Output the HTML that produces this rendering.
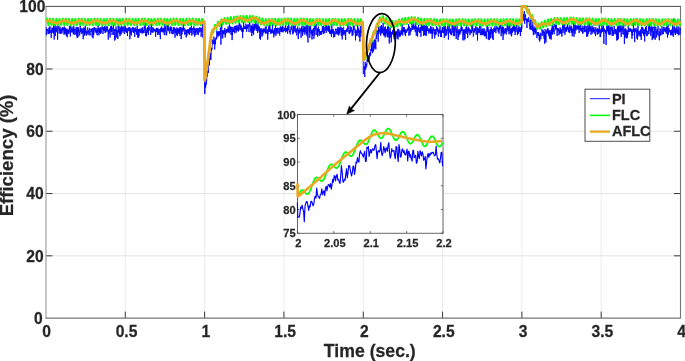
<!DOCTYPE html>
<html lang="en"><head><meta charset="utf-8"><title>Efficiency vs Time</title>
<style>html,body{margin:0;padding:0;background:#fff;}svg{display:block;}text{font-family:"Liberation Sans",sans-serif;font-weight:bold;fill:#262626;stroke:#262626;stroke-width:0.25px;}</style>
</head><body>
<svg width="685" height="361" viewBox="0 0 685 361">
<rect x="0" y="0" width="685" height="361" fill="#ffffff"/>
<defs><clipPath id="cm"><rect x="45.4" y="5.1" width="636.3" height="313.00000000000006"/></clipPath><clipPath id="ci"><rect x="296.0" y="114.5" width="147.8" height="118.75"/></clipPath></defs>
<path d="M125.31,6.7V318.1M204.62,6.7V318.1M283.94,6.7V318.1M363.25,6.7V318.1M442.56,6.7V318.1M521.88,6.7V318.1M601.19,6.7V318.1" stroke="#ececec" stroke-width="1" fill="none"/>
<path d="M46.0,255.82H680.5M46.0,193.54H680.5M46.0,131.26H680.5M46.0,68.98H680.5" stroke="#e3e3e3" stroke-width="1" fill="none"/>
<path d="M125.31,318.1v-6.5M125.31,6.7v6.5M204.62,318.1v-6.5M204.62,6.7v6.5M283.94,318.1v-6.5M283.94,6.7v6.5M363.25,318.1v-6.5M363.25,6.7v6.5M442.56,318.1v-6.5M442.56,6.7v6.5M521.88,318.1v-6.5M521.88,6.7v6.5M601.19,318.1v-6.5M601.19,6.7v6.5M46.0,255.82h6.5M680.5,255.82h-6.5M46.0,193.54h6.5M680.5,193.54h-6.5M46.0,131.26h6.5M680.5,131.26h-6.5M46.0,68.98h6.5M680.5,68.98h-6.5" stroke="#3c3c3c" stroke-width="1" fill="none"/>
<path d="M46.0,6.7V318.1" stroke="#8e8e8e" stroke-width="1" fill="none"/>
<path d="M45.5,318.1H681.0M680.5,6.7V318.1" stroke="#767676" stroke-width="1.1" fill="none"/>
<path d="M45.5,6.4H681.0" stroke="#4a4a4a" stroke-width="1" fill="none"/>
<g clip-path="url(#cm)" fill="none" stroke-linejoin="round">
<polyline points="46.0,26.9 46.1,26.9 46.2,27.9 46.2,31.6 46.3,35.3 46.4,33.1 46.5,30.6 46.6,29.9 46.6,29.2 46.7,28.8 46.8,28.8 46.9,29.1 47.0,29.7 47.0,30.4 47.1,31.0 47.2,30.5 47.3,29.5 47.3,30.3 47.4,30.7 47.5,30.2 47.6,29.5 47.7,29.0 47.7,29.0 47.8,29.9 47.9,31.5 48.0,33.1 48.1,34.0 48.1,32.6 48.2,30.1 48.3,30.5 48.4,31.2 48.5,31.6 48.5,32.7 48.6,33.8 48.7,34.1 48.8,33.2 48.9,31.3 48.9,29.1 49.0,27.4 49.1,29.5 49.2,33.3 49.3,32.0 49.3,31.4 49.4,32.9 49.5,33.1 49.6,33.0 49.6,32.1 49.7,28.8 49.8,26.4 49.9,26.0 50.0,26.4 50.0,27.3 50.1,27.5 50.2,27.5 50.3,29.6 50.4,30.9 50.4,30.8 50.5,30.4 50.6,30.0 50.7,31.3 50.8,33.1 50.8,31.7 50.9,30.5 51.0,30.8 51.1,33.9 51.2,37.8 51.2,36.1 51.3,34.3 51.4,33.8 51.5,32.6 51.6,31.0 51.6,29.5 51.7,28.4 51.8,27.9 51.9,28.0 51.9,27.9 52.0,28.1 52.1,29.9 52.2,31.1 52.3,31.9 52.3,32.7 52.4,31.1 52.5,30.2 52.6,30.7 52.7,30.9 52.7,30.3 52.8,29.0 52.9,27.4 53.0,28.6 53.1,31.4 53.1,29.4 53.2,28.5 53.3,29.6 53.4,31.9 53.5,33.7 53.5,30.1 53.6,27.4 53.7,27.6 53.8,26.0 53.9,24.3 53.9,28.5 54.0,31.6 54.1,31.7 54.2,35.4 54.2,39.5 54.3,33.8 54.4,29.1 54.5,28.9 54.6,28.3 54.6,27.9 54.7,29.3 54.8,30.3 54.9,30.6 55.0,26.9 55.0,22.5 55.1,27.6 55.2,31.5 55.3,33.5 55.4,35.9 55.4,32.5 55.5,29.9 55.6,29.9 55.7,29.7 55.8,29.2 55.8,28.4 55.9,27.5 56.0,26.9 56.1,26.6 56.2,26.9 56.2,29.3 56.3,32.2 56.4,30.5 56.5,29.2 56.5,29.7 56.6,30.2 56.7,30.8 56.8,31.0 56.9,30.7 56.9,30.0 57.0,29.1 57.1,28.5 57.2,26.8 57.3,25.2 57.3,28.2 57.4,30.6 57.5,34.8 57.6,39.8 57.7,35.3 57.7,31.9 57.8,32.5 57.9,32.6 58.0,31.1 58.1,28.9 58.1,28.4 58.2,28.3 58.3,28.1 58.4,28.4 58.5,28.8 58.5,29.1 58.6,29.2 58.7,27.9 58.8,26.2 58.8,27.7 58.9,28.9 59.0,28.8 59.1,29.1 59.2,31.0 59.2,33.5 59.3,32.7 59.4,31.7 59.5,31.5 59.6,30.8 59.6,30.0 59.7,29.6 59.8,29.5 59.9,28.1 60.0,26.6 60.0,28.9 60.1,30.7 60.2,30.6 60.3,30.1 60.4,29.5 60.4,31.1 60.5,33.8 60.6,33.1 60.7,32.5 60.8,32.5 60.8,31.5 60.9,30.0 61.0,29.0 61.1,28.8 61.1,29.5 61.2,30.5 61.3,32.1 61.4,33.3 61.5,31.5 61.5,29.5 61.6,28.6 61.7,28.3 61.8,28.8 61.9,31.0 61.9,33.4 62.0,32.4 62.1,30.8 62.2,29.5 62.3,28.2 62.3,27.4 62.4,27.7 62.5,28.6 62.6,29.7 62.7,30.2 62.7,30.1 62.8,28.7 62.9,27.3 63.0,28.9 63.1,30.5 63.1,30.7 63.2,29.7 63.3,27.9 63.4,27.9 63.4,28.1 63.5,28.4 63.6,29.2 63.7,30.2 63.8,30.9 63.8,31.0 63.9,32.6 64.0,34.7 64.1,31.9 64.2,29.7 64.2,28.3 64.3,26.5 64.4,27.4 64.5,27.9 64.6,30.1 64.6,33.5 64.7,30.5 64.8,28.7 64.9,29.9 65.0,30.6 65.0,30.7 65.1,32.4 65.2,34.2 65.3,30.5 65.4,27.8 65.4,27.9 65.5,28.5 65.6,29.5 65.7,30.4 65.7,31.7 65.8,32.6 65.9,30.8 66.0,29.0 66.1,28.5 66.1,28.6 66.2,31.9 66.3,35.9 66.4,32.8 66.5,29.9 66.5,30.4 66.6,31.3 66.7,30.2 66.8,29.6 66.9,29.9 66.9,30.2 67.0,30.5 67.1,33.7 67.2,37.3 67.3,33.6 67.3,30.1 67.4,29.5 67.5,29.0 67.6,28.8 67.7,30.2 67.7,32.2 67.8,31.2 67.9,30.8 68.0,31.6 68.0,32.4 68.1,33.1 68.2,33.4 68.3,33.2 68.4,32.3 68.4,31.0 68.5,29.9 68.6,31.5 68.7,34.1 68.8,32.2 68.8,30.5 68.9,30.2 69.0,29.8 69.1,29.7 69.2,29.9 69.2,29.9 69.3,28.2 69.4,25.9 69.5,26.7 69.6,28.0 69.6,28.9 69.7,30.4 69.8,31.9 69.9,32.7 70.0,32.6 70.0,31.7 70.1,30.5 70.2,29.9 70.3,32.5 70.3,36.5 70.4,35.2 70.5,33.9 70.6,33.9 70.7,30.1 70.7,25.3 70.8,27.9 70.9,30.2 71.0,29.9 71.1,29.9 71.1,30.1 71.2,30.4 71.3,30.7 71.4,31.2 71.5,31.7 71.5,32.2 71.6,30.4 71.7,27.6 71.8,29.4 71.9,30.4 71.9,29.4 72.0,28.8 72.1,28.9 72.2,30.4 72.3,32.4 72.3,32.1 72.4,31.7 72.5,31.8 72.6,31.6 72.6,31.1 72.7,30.2 72.8,29.4 72.9,29.1 73.0,29.8 73.0,28.3 73.1,26.4 73.2,31.2 73.3,34.1 73.4,33.0 73.4,31.2 73.5,29.1 73.6,27.5 73.7,26.8 73.8,26.3 73.8,26.8 73.9,30.1 74.0,33.2 74.1,34.6 74.2,35.0 74.2,32.4 74.3,28.7 74.4,29.6 74.5,30.3 74.6,29.4 74.6,29.1 74.7,29.4 74.8,30.0 74.9,30.5 74.9,30.7 75.0,30.9 75.1,31.2 75.2,32.8 75.3,34.3 75.3,32.4 75.4,30.2 75.5,29.3 75.6,29.0 75.7,29.3 75.7,29.8 75.8,29.7 75.9,29.8 76.0,29.7 76.1,27.5 76.1,26.8 76.2,28.4 76.3,30.9 76.4,33.2 76.5,34.3 76.5,33.8 76.6,34.7 76.7,35.8 76.8,31.1 76.9,28.1 76.9,28.8 77.0,30.1 77.1,34.1 77.2,38.0 77.2,34.7 77.3,31.1 77.4,29.4 77.5,27.8 77.6,27.0 77.6,27.3 77.7,28.2 77.8,29.5 77.9,33.3 78.0,37.2 78.0,33.7 78.1,30.3 78.2,31.2 78.3,32.3 78.4,29.4 78.4,27.3 78.5,27.5 78.6,28.3 78.7,30.3 78.8,32.1 78.8,30.8 78.9,29.6 79.0,29.8 79.1,30.6 79.2,31.7 79.2,32.7 79.3,33.1 79.4,32.8 79.5,32.4 79.5,33.6 79.6,35.5 79.7,34.2 79.8,33.2 79.9,33.3 79.9,33.0 80.0,32.5 80.1,31.8 80.2,27.2 80.3,22.0 80.3,26.9 80.4,31.1 80.5,31.5 80.6,31.8 80.7,31.9 80.7,31.8 80.8,31.3 80.9,31.7 81.0,32.3 81.1,30.3 81.1,28.9 81.2,28.7 81.3,28.6 81.4,28.7 81.5,29.3 81.5,30.5 81.6,31.7 81.7,32.4 81.8,33.5 81.8,34.0 81.9,31.0 82.0,28.7 82.1,28.3 82.2,28.6 82.2,29.3 82.3,30.1 82.4,30.7 82.5,31.1 82.6,31.3 82.6,32.0 82.7,32.6 82.8,30.7 82.9,29.2 83.0,29.3 83.0,29.7 83.1,34.1 83.2,39.2 83.3,34.5 83.4,30.7 83.4,30.8 83.5,30.8 83.6,30.6 83.7,30.4 83.8,28.9 83.8,27.2 83.9,28.7 84.0,29.6 84.1,28.9 84.1,28.3 84.2,28.3 84.3,29.0 84.4,30.0 84.5,32.8 84.5,35.7 84.6,33.0 84.7,30.3 84.8,29.4 84.9,28.8 84.9,30.9 85.0,34.0 85.1,31.6 85.2,29.6 85.3,27.9 85.3,25.7 85.4,28.0 85.5,30.0 85.6,30.3 85.7,30.8 85.7,31.3 85.8,31.9 85.9,32.2 86.0,32.2 86.1,31.6 86.1,30.7 86.2,32.5 86.3,35.7 86.4,33.7 86.4,32.7 86.5,33.8 86.6,33.7 86.7,32.8 86.8,31.7 86.8,31.3 86.9,32.7 87.0,34.7 87.1,33.5 87.2,32.1 87.2,30.4 87.3,28.5 87.4,28.8 87.5,28.9 87.6,28.2 87.6,27.7 87.7,27.5 87.8,27.8 87.9,28.4 88.0,30.7 88.0,33.5 88.1,32.6 88.2,31.7 88.3,31.9 88.4,31.5 88.4,30.9 88.5,30.4 88.6,30.3 88.7,30.6 88.7,31.0 88.8,31.4 88.9,33.0 89.0,35.2 89.1,34.2 89.1,33.1 89.2,32.6 89.3,31.6 89.4,30.6 89.5,29.2 89.5,28.3 89.6,30.1 89.7,31.9 89.8,32.6 89.9,32.9 89.9,33.0 90.0,33.1 90.1,34.2 90.2,35.4 90.3,34.1 90.3,32.9 90.4,32.6 90.5,32.3 90.6,31.9 90.7,31.0 90.7,30.8 90.8,31.0 90.9,29.4 91.0,28.6 91.0,29.0 91.1,29.5 91.2,29.9 91.3,30.0 91.4,30.0 91.4,29.9 91.5,30.7 91.6,31.7 91.7,30.3 91.8,29.5 91.8,29.9 91.9,30.2 92.0,30.0 92.1,33.2 92.2,37.1 92.2,31.8 92.3,28.0 92.4,28.4 92.5,28.8 92.6,28.8 92.6,28.6 92.7,28.7 92.8,29.2 92.9,30.2 93.0,34.1 93.0,38.3 93.1,35.0 93.2,31.4 93.3,30.0 93.3,28.8 93.4,28.5 93.5,29.6 93.6,31.7 93.7,33.9 93.7,35.0 93.8,33.9 93.9,31.3 94.0,29.8 94.1,28.4 94.1,26.9 94.2,27.3 94.3,28.7 94.4,27.8 94.5,27.5 94.5,28.3 94.6,29.0 94.7,29.5 94.8,29.7 94.9,29.6 94.9,29.2 95.0,30.5 95.1,32.5 95.2,30.2 95.3,28.6 95.3,29.0 95.4,29.6 95.5,30.2 95.6,30.7 95.6,31.0 95.7,31.1 95.8,30.9 95.9,29.5 96.0,27.8 96.0,28.3 96.1,29.2 96.2,30.0 96.3,31.3 96.4,32.5 96.4,33.0 96.5,33.4 96.6,33.3 96.7,31.0 96.8,29.6 96.8,30.1 96.9,31.0 97.0,31.6 97.1,33.5 97.2,35.3 97.2,32.0 97.3,29.4 97.4,29.3 97.5,29.4 97.6,29.4 97.6,30.7 97.7,32.1 97.8,29.6 97.9,27.5 97.9,27.4 98.0,26.2 98.1,25.3 98.2,28.7 98.3,31.4 98.3,31.3 98.4,30.5 98.5,29.3 98.6,28.4 98.7,28.3 98.7,28.9 98.8,31.9 98.9,35.3 99.0,33.2 99.1,31.0 99.1,30.3 99.2,29.4 99.3,28.7 99.4,28.7 99.5,29.3 99.5,31.1 99.6,32.9 99.7,31.0 99.8,29.0 99.9,28.2 99.9,27.7 100.0,27.7 100.1,28.3 100.2,29.2 100.2,30.0 100.3,32.1 100.4,33.9 100.5,30.3 100.6,27.5 100.6,27.4 100.7,27.7 100.8,28.3 100.9,28.8 101.0,29.2 101.0,29.5 101.1,29.8 101.2,31.3 101.3,32.9 101.4,30.7 101.4,28.7 101.5,28.2 101.6,28.0 101.7,28.0 101.8,28.2 101.8,28.1 101.9,27.9 102.0,27.0 102.1,26.2 102.2,27.7 102.2,29.1 102.3,29.3 102.4,28.8 102.5,27.8 102.5,27.1 102.6,27.3 102.7,28.3 102.8,29.6 102.9,30.7 102.9,32.4 103.0,34.0 103.1,32.8 103.2,31.7 103.3,30.1 103.3,27.9 103.4,27.7 103.5,27.6 103.6,27.1 103.7,27.6 103.7,28.9 103.8,30.3 103.9,31.0 104.0,30.7 104.1,29.4 104.1,29.8 104.2,31.0 104.3,28.4 104.4,26.7 104.5,27.2 104.5,27.6 104.6,28.2 104.7,29.0 104.8,27.7 104.8,25.9 104.9,29.8 105.0,32.3 105.1,32.7 105.2,33.0 105.2,30.2 105.3,28.3 105.4,28.7 105.5,29.6 105.6,30.7 105.6,31.7 105.7,32.4 105.8,30.3 105.9,27.4 106.0,29.5 106.0,31.2 106.1,30.8 106.2,30.5 106.3,30.3 106.4,30.3 106.4,30.3 106.5,30.1 106.6,29.7 106.7,29.4 106.8,27.7 106.8,26.2 106.9,29.3 107.0,31.7 107.1,31.8 107.1,31.5 107.2,29.2 107.3,26.5 107.4,28.6 107.5,30.1 107.5,29.6 107.6,29.2 107.7,28.9 107.8,28.9 107.9,29.3 107.9,29.9 108.0,30.8 108.1,32.0 108.2,35.7 108.3,39.6 108.3,36.5 108.4,33.3 108.5,32.0 108.6,30.8 108.7,29.9 108.7,29.8 108.8,30.4 108.9,31.1 109.0,32.6 109.1,33.8 109.1,32.0 109.2,30.3 109.3,29.9 109.4,30.0 109.5,30.4 109.5,30.8 109.6,30.8 109.7,29.8 109.8,28.5 109.8,29.5 109.9,30.5 110.0,33.7 110.1,37.5 110.2,33.8 110.2,30.7 110.3,30.7 110.4,29.0 110.5,26.8 110.6,28.4 110.6,29.4 110.7,28.6 110.8,27.2 110.9,26.2 111.0,28.3 111.0,30.5 111.1,31.5 111.2,32.0 111.3,31.7 111.4,28.8 111.4,25.5 111.5,27.7 111.6,30.1 111.7,30.9 111.8,31.5 111.8,31.5 111.9,31.1 112.0,30.6 112.1,32.5 112.1,35.0 112.2,32.3 112.3,29.8 112.4,29.2 112.5,28.6 112.5,28.4 112.6,27.9 112.7,27.5 112.8,28.8 112.9,29.5 112.9,29.0 113.0,28.5 113.1,28.3 113.2,28.3 113.3,28.4 113.3,26.8 113.4,24.8 113.5,26.9 113.6,29.0 113.7,31.6 113.7,34.9 113.8,34.1 113.9,32.9 114.0,32.0 114.1,30.5 114.1,28.9 114.2,29.3 114.3,30.8 114.4,29.9 114.4,29.8 114.5,31.1 114.6,35.6 114.7,40.6 114.8,37.1 114.8,33.4 114.9,32.6 115.0,35.4 115.1,39.6 115.2,35.2 115.2,31.6 115.3,31.3 115.4,30.5 115.5,29.6 115.6,29.0 115.6,30.0 115.7,31.3 115.8,29.6 115.9,27.7 116.0,26.8 116.0,26.3 116.1,26.6 116.2,27.8 116.3,29.5 116.4,30.9 116.4,31.6 116.5,31.6 116.6,34.3 116.7,37.6 116.7,33.2 116.8,29.8 116.9,29.8 117.0,30.0 117.1,30.2 117.1,31.2 117.2,32.4 117.3,31.5 117.4,31.0 117.5,31.3 117.5,31.2 117.6,30.8 117.7,34.3 117.8,39.1 117.9,34.7 117.9,31.1 118.0,30.9 118.1,29.9 118.2,25.0 118.3,19.7 118.3,24.4 118.4,29.1 118.5,30.6 118.6,31.9 118.7,32.4 118.7,31.8 118.8,31.8 118.9,31.8 119.0,28.2 119.0,26.1 119.1,28.1 119.2,31.3 119.3,32.0 119.4,32.1 119.4,33.2 119.5,33.8 119.6,31.3 119.7,29.5 119.8,29.3 119.8,29.3 119.9,32.4 120.0,36.2 120.1,32.7 120.2,30.5 120.2,31.8 120.3,32.6 120.4,32.6 120.5,33.4 120.6,34.1 120.6,30.1 120.7,27.3 120.8,27.3 120.9,28.3 121.0,31.2 121.0,34.5 121.1,34.1 121.2,33.1 121.3,32.8 121.3,29.4 121.4,25.4 121.5,28.5 121.6,31.0 121.7,30.6 121.7,30.2 121.8,30.0 121.9,30.1 122.0,30.4 122.1,30.6 122.1,30.4 122.2,28.7 122.3,26.6 122.4,27.2 122.5,28.2 122.5,28.7 122.6,29.2 122.7,30.9 122.8,32.6 122.9,31.2 122.9,30.2 123.0,30.6 123.1,30.9 123.2,30.9 123.3,29.9 123.3,28.3 123.4,28.2 123.5,28.0 123.6,27.4 123.6,27.5 123.7,28.4 123.8,29.6 123.9,30.0 124.0,29.2 124.0,27.5 124.1,25.9 124.2,28.9 124.3,34.1 124.4,31.9 124.4,30.3 124.5,31.0 124.6,30.5 124.7,29.3 124.8,28.5 124.8,28.6 124.9,29.4 125.0,30.6 125.1,30.8 125.2,30.4 125.2,31.1 125.3,31.1 125.4,30.0 125.5,28.9 125.6,27.3 125.6,26.2 125.7,28.0 125.8,30.1 125.9,31.3 125.9,32.2 126.0,30.5 126.1,28.0 126.2,30.4 126.3,32.2 126.3,31.6 126.4,30.9 126.5,30.2 126.6,29.7 126.7,30.9 126.7,32.8 126.8,32.4 126.9,32.2 127.0,32.7 127.1,32.6 127.1,32.2 127.2,31.6 127.3,31.3 127.4,33.4 127.5,36.0 127.5,32.2 127.6,28.8 127.7,28.2 127.8,28.0 127.9,28.0 127.9,28.2 128.0,28.5 128.1,28.9 128.2,29.5 128.2,30.2 128.3,29.1 128.4,27.4 128.5,29.5 128.6,31.1 128.6,30.7 128.7,30.3 128.8,30.0 128.9,30.1 129.0,30.4 129.0,30.9 129.1,31.1 129.2,29.5 129.3,27.1 129.4,27.4 129.4,27.6 129.5,27.1 129.6,27.5 129.7,28.6 129.8,29.9 129.8,34.5 129.9,39.2 130.0,34.0 130.1,29.3 130.2,28.6 130.2,28.5 130.3,28.8 130.4,29.2 130.5,29.6 130.5,31.6 130.6,33.7 130.7,30.7 130.8,28.3 130.9,28.0 130.9,27.9 131.0,28.0 131.1,28.1 131.2,31.3 131.3,35.5 131.3,32.6 131.4,30.5 131.5,31.3 131.6,32.1 131.7,32.4 131.7,32.4 131.8,31.9 131.9,31.3 132.0,30.7 132.1,30.4 132.1,29.3 132.2,27.9 132.3,28.5 132.4,28.6 132.5,27.8 132.5,27.2 132.6,27.0 132.7,27.0 132.8,27.2 132.8,27.4 132.9,29.6 133.0,32.2 133.1,29.2 133.2,27.7 133.2,29.4 133.3,30.7 133.4,31.3 133.5,32.8 133.6,32.8 133.6,31.1 133.7,31.2 133.8,32.3 133.9,29.5 134.0,27.6 134.0,27.8 134.1,28.2 134.2,28.9 134.3,29.7 134.4,30.1 134.4,30.1 134.5,29.4 134.6,32.6 134.7,37.0 134.8,32.2 134.8,28.8 134.9,29.8 135.0,30.6 135.1,31.2 135.1,31.3 135.2,31.1 135.3,30.6 135.4,29.7 135.5,29.4 135.5,29.4 135.6,28.0 135.7,27.5 135.8,28.5 135.9,30.3 135.9,31.7 136.0,30.5 136.1,29.2 136.2,29.1 136.3,29.3 136.3,29.7 136.4,32.1 136.5,34.7 136.6,31.9 136.7,29.4 136.7,29.3 136.8,29.7 136.9,30.4 137.0,31.1 137.1,31.6 137.1,29.0 137.2,25.4 137.3,27.7 137.4,29.8 137.4,30.2 137.5,31.3 137.6,33.0 137.7,34.3 137.8,34.7 137.8,36.2 137.9,37.4 138.0,33.3 138.1,30.2 138.2,29.6 138.2,33.3 138.3,37.9 138.4,33.0 138.5,29.0 138.6,29.3 138.6,30.0 138.7,31.1 138.8,32.4 138.9,33.3 139.0,35.0 139.0,36.3 139.1,33.5 139.2,30.9 139.3,30.0 139.4,29.5 139.4,29.0 139.5,29.7 139.6,30.7 139.7,29.4 139.7,28.8 139.8,29.7 139.9,30.6 140.0,31.5 140.1,31.9 140.1,32.0 140.2,31.6 140.3,31.1 140.4,30.6 140.5,31.3 140.5,32.6 140.6,31.4 140.7,30.3 140.8,29.9 140.9,29.2 140.9,28.5 141.0,28.4 141.1,28.9 141.2,31.1 141.3,33.3 141.3,32.1 141.4,30.6 141.5,30.2 141.6,29.8 141.7,29.6 141.7,29.7 141.8,29.8 141.9,29.1 142.0,28.0 142.0,28.6 142.1,29.0 142.2,29.0 142.3,29.8 142.4,31.2 142.4,32.7 142.5,33.4 142.6,30.8 142.7,27.1 142.8,29.0 142.8,31.0 142.9,31.5 143.0,32.2 143.1,32.4 143.2,32.0 143.2,31.2 143.3,31.7 143.4,32.7 143.5,31.1 143.6,30.1 143.6,30.5 143.7,30.7 143.8,30.6 143.9,30.4 144.0,31.6 144.0,33.1 144.1,30.5 144.2,28.3 144.3,27.9 144.3,27.0 144.4,26.3 144.5,28.4 144.6,30.1 144.7,30.5 144.7,30.5 144.8,30.3 144.9,29.8 145.0,29.1 145.1,28.6 145.1,25.7 145.2,22.6 145.3,26.6 145.4,30.1 145.5,30.8 145.5,33.3 145.6,36.1 145.7,33.8 145.8,31.4 145.9,30.4 145.9,29.2 146.0,28.5 146.1,28.5 146.2,29.1 146.3,29.9 146.3,30.6 146.4,33.3 146.5,36.3 146.6,33.9 146.6,31.9 146.7,32.0 146.8,32.1 146.9,32.2 147.0,32.1 147.0,31.9 147.1,31.5 147.2,30.8 147.3,29.9 147.4,30.9 147.4,32.4 147.5,29.2 147.6,27.5 147.7,29.0 147.8,30.9 147.8,32.4 147.9,30.6 148.0,27.3 148.1,29.6 148.2,31.6 148.2,31.9 148.3,33.6 148.4,35.0 148.5,32.0 148.6,28.8 148.6,27.3 148.7,25.9 148.8,25.4 148.9,28.0 148.9,30.1 149.0,30.5 149.1,29.6 149.2,28.3 149.3,29.2 149.3,30.1 149.4,30.1 149.5,30.0 149.6,29.8 149.7,29.5 149.7,29.4 149.8,29.2 149.9,28.9 150.0,28.6 150.1,27.6 150.1,26.8 150.2,28.3 150.3,29.8 150.4,30.3 150.5,30.5 150.5,30.4 150.6,32.3 150.7,34.8 150.8,32.2 150.9,30.4 150.9,30.9 151.0,31.4 151.1,31.8 151.2,31.9 151.2,31.7 151.3,31.0 151.4,25.8 151.5,19.6 151.6,23.4 151.6,27.2 151.7,27.9 151.8,29.0 151.9,30.4 152.0,31.7 152.0,32.6 152.1,32.7 152.2,31.2 152.3,28.9 152.4,28.3 152.4,27.9 152.5,27.3 152.6,27.5 152.7,28.3 152.8,30.3 152.8,32.6 152.9,32.6 153.0,32.4 153.1,32.5 153.2,31.9 153.2,30.9 153.3,29.7 153.4,29.0 153.5,29.1 153.5,28.6 153.6,27.8 153.7,30.0 153.8,31.4 153.9,31.0 153.9,30.8 154.0,30.9 154.1,30.9 154.2,30.6 154.3,29.8 154.3,28.9 154.4,29.4 154.5,30.7 154.6,30.1 154.7,29.8 154.7,30.1 154.8,30.1 154.9,30.7 155.0,31.6 155.1,30.3 155.1,29.4 155.2,29.7 155.3,30.2 155.4,30.6 155.5,31.0 155.5,33.8 155.6,36.9 155.7,33.8 155.8,30.8 155.8,29.9 155.9,30.6 156.0,32.1 156.1,30.1 156.2,29.1 156.2,28.8 156.3,27.9 156.4,28.6 156.5,29.2 156.6,28.8 156.6,28.7 156.7,30.8 156.8,31.9 156.9,31.5 157.0,30.9 157.0,30.6 157.1,30.7 157.2,30.8 157.3,30.4 157.4,29.3 157.4,28.1 157.5,30.8 157.6,34.9 157.7,31.0 157.8,27.9 157.8,28.3 157.9,29.0 158.0,30.2 158.1,31.6 158.1,32.7 158.2,33.2 158.3,32.6 158.4,32.5 158.5,32.4 158.5,30.3 158.6,28.9 158.7,28.9 158.8,29.4 158.9,31.7 158.9,34.7 159.0,35.0 159.1,34.8 159.2,34.2 159.3,32.5 159.3,30.5 159.4,29.5 159.5,29.9 159.6,30.2 159.7,29.8 159.7,30.5 159.8,30.6 159.9,30.5 160.0,31.6 160.1,33.6 160.1,35.4 160.2,35.9 160.3,37.7 160.4,39.1 160.4,33.6 160.5,29.2 160.6,28.2 160.7,27.8 160.8,27.8 160.8,29.5 160.9,31.9 161.0,30.9 161.1,30.4 161.2,31.3 161.2,31.7 161.3,31.5 161.4,30.5 161.5,29.1 161.6,27.6 161.6,26.5 161.7,28.0 161.8,30.6 161.9,29.2 162.0,28.5 162.0,29.8 162.1,31.0 162.2,30.5 162.3,29.2 162.4,30.5 162.4,31.1 162.5,31.4 162.6,32.3 162.7,31.5 162.7,30.7 162.8,30.5 162.9,30.5 163.0,30.6 163.1,28.7 163.1,27.7 163.2,28.3 163.3,28.7 163.4,28.9 163.5,31.1 163.5,32.3 163.6,31.8 163.7,30.8 163.8,29.7 163.9,28.7 163.9,28.2 164.0,28.2 164.1,28.5 164.2,31.6 164.3,35.2 164.3,32.4 164.4,29.9 164.5,29.6 164.6,28.9 164.7,27.9 164.7,24.3 164.8,20.9 164.9,25.2 165.0,29.4 165.0,30.6 165.1,31.3 165.2,31.4 165.3,31.2 165.4,28.1 165.4,24.2 165.5,27.2 165.6,29.6 165.7,29.3 165.8,29.5 165.8,30.3 165.9,31.2 166.0,32.0 166.1,33.7 166.2,35.4 166.2,33.2 166.3,31.4 166.4,31.5 166.5,31.8 166.6,32.0 166.6,33.3 166.7,34.5 166.8,31.9 166.9,29.5 167.0,27.1 167.0,24.8 167.1,26.9 167.2,29.1 167.3,29.8 167.3,30.2 167.4,30.2 167.5,29.8 167.6,27.8 167.7,25.4 167.7,26.9 167.8,28.5 167.9,29.3 168.0,30.4 168.1,31.2 168.1,31.2 168.2,30.4 168.3,27.2 168.4,23.8 168.5,25.5 168.5,27.5 168.6,28.9 168.7,30.4 168.8,29.1 168.9,28.0 168.9,28.1 169.0,28.3 169.1,28.8 169.2,29.4 169.3,30.2 169.3,31.1 169.4,31.8 169.5,32.0 169.6,32.9 169.6,33.6 169.7,31.2 169.8,29.2 169.9,28.5 170.0,28.0 170.0,27.6 170.1,27.3 170.2,27.2 170.3,28.8 170.4,31.0 170.4,30.3 170.5,29.7 170.6,28.4 170.7,26.3 170.8,27.9 170.8,29.1 170.9,28.8 171.0,28.9 171.1,29.5 171.2,30.8 171.2,32.4 171.3,33.5 171.4,31.3 171.5,27.3 171.6,27.5 171.6,27.9 171.7,27.6 171.8,28.3 171.9,29.5 171.9,30.3 172.0,30.5 172.1,30.5 172.2,30.7 172.3,31.4 172.3,31.5 172.4,31.3 172.5,33.3 172.6,34.2 172.7,33.2 172.7,31.9 172.8,30.9 172.9,30.4 173.0,32.0 173.1,34.0 173.1,31.9 173.2,29.6 173.3,28.3 173.4,27.2 173.5,28.4 173.5,30.6 173.6,30.2 173.7,29.9 173.8,30.9 173.9,31.8 173.9,32.6 174.0,31.6 174.1,29.2 174.2,29.3 174.2,28.7 174.3,27.3 174.4,27.5 174.5,29.1 174.6,31.2 174.6,30.8 174.7,29.0 174.8,31.9 174.9,33.6 175.0,35.4 175.0,37.6 175.1,32.5 175.2,28.6 175.3,28.5 175.4,29.2 175.4,30.5 175.5,30.8 175.6,30.5 175.7,32.2 175.8,32.9 175.8,31.9 175.9,30.7 176.0,29.6 176.1,29.1 176.2,29.2 176.2,29.9 176.3,32.3 176.4,35.1 176.5,34.3 176.5,33.2 176.6,32.6 176.7,31.2 176.8,29.5 176.9,28.0 176.9,27.4 177.0,27.8 177.1,29.1 177.2,30.9 177.3,33.8 177.3,36.1 177.4,33.9 177.5,31.1 177.6,29.5 177.7,28.7 177.7,29.3 177.8,30.8 177.9,32.2 178.0,32.9 178.1,33.6 178.1,33.8 178.2,31.2 178.3,29.4 178.4,29.2 178.5,29.8 178.5,30.9 178.6,31.9 178.7,32.3 178.8,31.9 178.8,30.1 178.9,28.1 179.0,28.6 179.1,29.7 179.2,30.7 179.2,32.5 179.3,33.7 179.4,31.4 179.5,28.8 179.6,27.6 179.6,27.4 179.7,28.2 179.8,31.9 179.9,35.8 180.0,33.0 180.0,29.9 180.1,30.5 180.2,31.6 180.3,29.2 180.4,27.6 180.4,27.9 180.5,28.2 180.6,28.3 180.7,28.1 180.8,28.1 180.8,27.5 180.9,27.2 181.0,30.4 181.1,32.7 181.1,36.0 181.2,39.1 181.3,33.1 181.4,28.4 181.5,28.2 181.5,28.7 181.6,29.3 181.7,29.8 181.8,30.1 181.9,30.4 181.9,32.3 182.0,34.4 182.1,32.6 182.2,30.9 182.3,30.6 182.3,29.2 182.4,27.8 182.5,29.7 182.6,30.8 182.7,30.1 182.7,29.3 182.8,28.7 182.9,28.4 183.0,28.4 183.1,28.5 183.1,28.8 183.2,29.3 183.3,25.8 183.4,21.2 183.4,26.1 183.5,30.3 183.6,30.7 183.7,31.2 183.8,31.5 183.8,31.3 183.9,30.8 184.0,30.2 184.1,29.7 184.2,28.6 184.2,27.8 184.3,29.5 184.4,31.1 184.5,31.8 184.6,33.2 184.6,34.6 184.7,33.6 184.8,32.7 184.9,32.7 185.0,32.8 185.0,32.9 185.1,33.1 185.2,33.1 185.3,33.8 185.4,34.2 185.4,32.1 185.5,30.1 185.6,29.4 185.7,29.4 185.7,30.0 185.8,30.8 185.9,31.0 186.0,30.8 186.1,30.3 186.1,33.3 186.2,37.4 186.3,33.4 186.4,30.2 186.5,30.2 186.5,30.1 186.6,30.3 186.7,30.9 186.8,33.2 186.9,35.6 186.9,34.0 187.0,32.2 187.1,32.4 187.2,33.0 187.3,31.4 187.3,30.1 187.4,29.7 187.5,29.4 187.6,29.5 187.7,30.2 187.7,31.2 187.8,32.1 187.9,31.2 188.0,29.4 188.0,30.1 188.1,30.4 188.2,29.9 188.3,30.1 188.4,31.1 188.4,32.1 188.5,32.5 188.6,33.1 188.7,33.4 188.8,30.7 188.8,29.0 188.9,29.5 189.0,31.8 189.1,34.3 189.2,33.1 189.2,31.7 189.3,31.3 189.4,30.5 189.5,32.3 189.6,34.8 189.6,30.5 189.7,27.8 189.8,28.8 189.9,29.9 190.0,30.6 190.0,30.7 190.1,29.2 190.2,27.4 190.3,29.1 190.3,30.2 190.4,29.4 190.5,28.7 190.6,28.7 190.7,29.8 190.7,31.4 190.8,32.9 190.9,32.8 191.0,31.5 191.1,31.5 191.1,31.4 191.2,31.0 191.3,30.9 191.4,28.3 191.5,24.9 191.5,27.4 191.6,29.8 191.7,32.3 191.8,35.6 191.9,33.7 191.9,31.8 192.0,31.6 192.1,30.2 192.2,28.7 192.3,29.3 192.3,29.7 192.4,29.2 192.5,28.7 192.6,28.2 192.6,28.0 192.7,28.2 192.8,30.3 192.9,33.4 193.0,33.5 193.0,33.7 193.1,34.4 193.2,33.9 193.3,32.3 193.4,30.4 193.4,28.9 193.5,28.0 193.6,27.9 193.7,27.1 193.8,26.3 193.8,28.4 193.9,30.0 194.0,30.0 194.1,29.3 194.2,28.2 194.2,28.3 194.3,29.6 194.4,29.6 194.5,30.5 194.6,33.9 194.6,36.7 194.7,34.0 194.8,30.6 194.9,28.8 194.9,27.9 195.0,28.3 195.1,30.6 195.2,33.0 195.3,31.7 195.3,30.1 195.4,29.5 195.5,29.6 195.6,30.1 195.7,30.6 195.7,30.5 195.8,32.5 195.9,35.1 196.0,32.1 196.1,30.2 196.1,31.0 196.2,31.5 196.3,31.6 196.4,31.2 196.5,30.7 196.5,29.4 196.6,27.9 196.7,28.9 196.8,29.8 196.9,30.1 196.9,30.6 197.0,31.4 197.1,32.2 197.2,32.9 197.2,33.5 197.3,33.9 197.4,33.9 197.5,34.2 197.6,33.9 197.6,30.9 197.7,28.2 197.8,28.5 197.9,29.9 198.0,28.9 198.0,28.4 198.1,29.1 198.2,31.8 198.3,35.1 198.4,33.2 198.4,31.6 198.5,31.6 198.6,30.9 198.7,29.7 198.8,28.7 198.8,28.2 198.9,28.2 199.0,28.7 199.1,30.4 199.2,32.4 199.2,31.8 199.3,31.3 199.4,31.3 199.5,31.1 199.5,30.6 199.6,30.2 199.7,29.8 199.8,28.4 199.9,27.1 199.9,29.2 200.0,31.2 200.1,31.7 200.2,31.6 200.3,31.0 200.3,30.1 200.4,29.5 200.5,28.6 200.6,28.2 200.7,30.0 200.7,31.5 200.8,31.8 200.9,31.9 201.0,31.8 201.1,33.9 201.1,36.7 201.2,35.0 201.3,33.3 201.4,32.7 201.5,31.4 201.5,29.9 201.6,28.7 201.7,28.5 201.8,29.3 201.8,29.0 201.9,28.2 202.0,30.6 202.1,31.9 202.2,31.0 202.2,29.9 202.3,26.1 202.4,22.0 202.5,24.3 202.6,26.9 202.6,31.5 202.7,37.5 202.8,35.5 202.9,33.8 203.0,34.5 203.0,34.3 203.1,33.5 203.2,32.2 203.3,30.5 203.4,28.7 203.4,27.5 203.5,27.1 203.6,31.8 203.7,38.4 203.8,35.7 203.8,33.4 203.9,33.9 204.0,33.0 204.1,31.0 204.1,28.7 204.2,27.0 204.3,26.6 204.4,27.4 204.5,28.8 204.5,32.0 204.6,93.9 204.7,93.9 204.8,93.9 204.9,93.9 204.9,93.9 205.0,93.9 205.1,83.6 205.2,83.9 205.3,85.4 205.3,87.3 205.4,86.7 205.5,84.6 205.6,86.8 205.7,87.4 205.7,86.1 205.8,84.7 205.9,81.4 206.0,79.3 206.1,79.5 206.1,81.9 206.2,84.7 206.3,84.1 206.4,83.2 206.4,82.9 206.5,82.3 206.6,81.6 206.7,80.8 206.8,79.8 206.8,77.2 206.9,74.2 207.0,75.4 207.1,76.5 207.2,76.1 207.2,75.6 207.3,73.7 207.4,71.3 207.5,71.9 207.6,72.7 207.6,73.0 207.7,73.3 207.8,73.3 207.9,72.8 208.0,71.8 208.0,70.9 208.1,70.1 208.2,71.4 208.3,72.8 208.4,69.1 208.4,65.6 208.5,64.1 208.6,63.2 208.7,61.4 208.7,59.6 208.8,61.7 208.9,63.3 209.0,63.3 209.1,63.7 209.1,61.7 209.2,59.3 209.3,63.4 209.4,65.5 209.5,64.7 209.5,63.6 209.6,58.9 209.7,55.5 209.8,56.9 209.9,59.8 209.9,58.4 210.0,57.5 210.1,58.1 210.2,58.0 210.3,57.0 210.3,55.4 210.4,53.9 210.5,52.9 210.6,52.7 210.7,53.0 210.7,56.1 210.8,60.1 210.9,58.2 211.0,56.6 211.0,56.5 211.1,55.1 211.2,52.8 211.3,50.6 211.4,49.3 211.4,49.1 211.5,49.7 211.6,50.5 211.7,49.6 211.8,47.9 211.8,49.1 211.9,49.4 212.0,48.1 212.1,46.9 212.2,46.2 212.2,45.9 212.3,45.7 212.4,45.6 212.5,45.3 212.6,45.1 212.6,42.6 212.7,39.6 212.8,41.6 212.9,43.0 213.0,42.3 213.0,41.6 213.1,41.0 213.2,40.7 213.3,41.0 213.3,42.2 213.4,43.9 213.5,43.7 213.6,42.2 213.7,43.7 213.7,43.7 213.8,40.2 213.9,36.7 214.0,37.0 214.1,38.0 214.1,38.4 214.2,39.3 214.3,40.0 214.4,40.5 214.5,40.5 214.5,40.4 214.6,44.5 214.7,49.5 214.8,44.5 214.9,40.3 214.9,40.0 215.0,39.8 215.1,39.9 215.2,40.0 215.3,39.9 215.3,39.5 215.4,41.6 215.5,44.4 215.6,41.0 215.6,38.3 215.7,38.1 215.8,38.0 215.9,38.1 216.0,38.2 216.0,38.1 216.1,38.7 216.2,39.3 216.3,38.0 216.4,37.4 216.4,38.0 216.5,38.7 216.6,39.1 216.7,38.9 216.8,35.2 216.8,30.5 216.9,33.7 217.0,36.8 217.1,37.0 217.2,37.3 217.2,37.1 217.3,36.3 217.4,35.3 217.5,34.6 217.6,34.5 217.6,33.2 217.7,31.7 217.8,34.1 217.9,35.2 217.9,34.0 218.0,32.9 218.1,32.6 218.2,33.3 218.3,34.5 218.3,35.6 218.4,35.9 218.5,36.3 218.6,36.3 218.7,33.4 218.7,31.2 218.8,31.1 218.9,31.7 219.0,32.8 219.1,33.8 219.1,34.3 219.2,33.6 219.3,32.7 219.4,34.0 219.5,35.3 219.5,35.4 219.6,35.0 219.7,33.9 219.8,32.7 219.9,31.7 219.9,31.0 220.0,31.5 220.1,32.5 220.2,31.7 220.2,31.7 220.3,29.9 220.4,27.4 220.5,31.9 220.6,35.1 220.6,35.0 220.7,35.2 220.8,39.4 220.9,44.6 221.0,40.1 221.0,35.6 221.1,34.1 221.2,32.3 221.3,30.7 221.4,29.8 221.4,29.4 221.5,29.2 221.6,29.0 221.7,26.3 221.8,23.5 221.8,28.4 221.9,33.4 222.0,35.9 222.1,37.7 222.2,38.2 222.2,38.0 222.3,36.9 222.4,33.4 222.5,30.8 222.5,30.4 222.6,33.9 222.7,38.4 222.8,35.2 222.9,32.0 222.9,31.3 223.0,30.8 223.1,30.9 223.2,31.3 223.3,31.6 223.3,32.8 223.4,33.9 223.5,31.7 223.6,30.3 223.7,30.7 223.7,31.2 223.8,31.3 223.9,31.1 224.0,30.7 224.1,30.5 224.1,32.2 224.2,34.4 224.3,32.8 224.4,31.0 224.5,31.1 224.5,31.2 224.6,29.3 224.7,28.0 224.8,28.0 224.8,28.2 224.9,28.5 225.0,29.0 225.1,29.9 225.2,33.5 225.2,37.5 225.3,35.2 225.4,32.9 225.5,33.9 225.6,34.9 225.6,32.9 225.7,31.3 225.8,31.2 225.9,31.5 226.0,31.9 226.0,32.1 226.1,30.8 226.2,29.0 226.3,29.6 226.4,30.3 226.4,30.4 226.5,30.5 226.6,30.5 226.7,31.7 226.8,33.2 226.8,31.3 226.9,30.2 227.0,30.9 227.1,30.4 227.1,29.2 227.2,30.4 227.3,30.7 227.4,29.8 227.5,30.0 227.5,31.1 227.6,31.6 227.7,31.2 227.8,31.5 227.9,30.4 227.9,28.2 228.0,26.8 228.1,26.5 228.2,27.3 228.3,28.5 228.3,30.5 228.4,32.2 228.5,30.8 228.6,29.4 228.7,29.1 228.7,29.3 228.8,28.6 228.9,27.9 229.0,30.8 229.1,33.0 229.1,33.2 229.2,32.5 229.3,31.2 229.4,25.8 229.4,19.9 229.5,24.9 229.6,29.1 229.7,29.2 229.8,28.9 229.8,28.4 229.9,27.9 230.0,27.8 230.1,28.2 230.2,30.1 230.2,32.3 230.3,31.8 230.4,30.8 230.5,28.9 230.6,26.4 230.6,27.1 230.7,27.8 230.8,27.6 230.9,28.0 231.0,29.0 231.0,32.0 231.1,35.0 231.2,32.9 231.3,30.3 231.4,30.3 231.4,30.5 231.5,28.2 231.6,27.0 231.7,27.8 231.7,29.0 231.8,30.0 231.9,30.5 232.0,30.7 232.1,34.8 232.1,40.1 232.2,35.7 232.3,32.5 232.4,34.3 232.5,35.4 232.5,32.9 232.6,30.2 232.7,28.9 232.8,27.5 232.9,26.9 232.9,29.5 233.0,31.6 233.1,31.9 233.2,31.6 233.3,30.9 233.3,30.1 233.4,29.2 233.5,28.5 233.6,29.7 233.7,31.8 233.7,31.2 233.8,31.1 233.9,32.0 234.0,32.1 234.0,31.3 234.1,29.8 234.2,29.1 234.3,28.9 234.4,27.0 234.4,26.2 234.5,27.1 234.6,28.4 234.7,29.6 234.8,30.6 234.8,32.2 234.9,33.4 235.0,30.7 235.1,28.4 235.2,28.0 235.2,28.1 235.3,29.4 235.4,30.5 235.5,28.0 235.6,25.7 235.6,26.3 235.7,27.9 235.8,27.4 235.9,27.2 236.0,27.9 236.0,28.2 236.1,28.5 236.2,28.9 236.3,30.6 236.3,32.5 236.4,30.7 236.5,28.7 236.6,28.9 236.7,29.4 236.7,27.3 236.8,25.7 236.9,25.3 237.0,27.3 237.1,30.0 237.1,28.0 237.2,26.5 237.3,26.9 237.4,27.2 237.5,27.5 237.5,28.1 237.6,28.9 237.7,30.1 237.8,30.9 237.9,30.9 237.9,30.9 238.0,30.6 238.1,27.0 238.2,24.8 238.3,25.1 238.3,28.2 238.4,31.5 238.5,29.5 238.6,27.7 238.7,28.1 238.7,28.7 238.8,29.5 238.9,30.1 239.0,30.2 239.0,29.8 239.1,28.8 239.2,26.1 239.3,22.8 239.4,23.0 239.4,23.5 239.5,23.4 239.6,24.2 239.7,25.5 239.8,24.9 239.8,23.6 239.9,26.7 240.0,28.7 240.1,28.0 240.2,28.8 240.2,30.2 240.3,27.8 240.4,26.2 240.5,26.2 240.6,26.1 240.6,26.1 240.7,26.5 240.8,25.7 240.9,24.8 241.0,28.1 241.0,30.0 241.1,29.0 241.2,27.4 241.3,26.2 241.3,26.0 241.4,27.0 241.5,29.4 241.6,31.6 241.7,30.5 241.7,28.9 241.8,28.0 241.9,27.6 242.0,27.8 242.1,27.8 242.1,27.6 242.2,29.2 242.3,29.9 242.4,29.4 242.5,28.8 242.5,32.7 242.6,38.1 242.7,33.6 242.8,30.0 242.9,29.9 242.9,29.2 243.0,28.3 243.1,29.6 243.2,31.8 243.3,29.7 243.3,27.9 243.4,27.4 243.5,26.6 243.6,24.3 243.6,22.3 243.7,24.4 243.8,26.3 243.9,26.3 244.0,25.8 244.0,26.8 244.1,28.7 244.2,27.4 244.3,26.8 244.4,27.8 244.4,28.5 244.5,28.8 244.6,28.9 244.7,29.0 244.8,29.0 244.8,28.9 244.9,27.7 245.0,26.3 245.1,27.9 245.2,29.2 245.2,29.2 245.3,28.7 245.4,28.0 245.5,27.4 245.6,27.3 245.6,27.6 245.7,27.8 245.8,27.8 245.9,25.9 245.9,23.7 246.0,24.8 246.1,26.4 246.2,27.4 246.3,28.8 246.3,28.5 246.4,27.6 246.5,30.1 246.6,31.9 246.7,31.5 246.7,30.5 246.8,29.0 246.9,27.4 247.0,26.0 247.1,25.0 247.1,26.4 247.2,28.8 247.3,27.5 247.4,26.9 247.5,27.7 247.5,28.0 247.6,27.8 247.7,27.5 247.8,27.2 247.9,27.2 247.9,25.9 248.0,24.4 248.1,25.9 248.2,26.7 248.2,25.7 248.3,24.9 248.4,24.7 248.5,25.3 248.6,26.4 248.6,27.6 248.7,28.4 248.8,28.6 248.9,30.1 249.0,32.1 249.0,30.4 249.1,29.0 249.2,28.5 249.3,27.1 249.4,25.1 249.4,23.3 249.5,22.5 249.6,22.6 249.7,23.3 249.8,24.2 249.8,24.0 249.9,23.5 250.0,24.9 250.1,26.1 250.2,26.3 250.2,26.4 250.3,26.4 250.4,26.3 250.5,26.2 250.5,26.1 250.6,28.1 250.7,30.7 250.8,29.0 250.9,28.0 250.9,30.3 251.0,32.5 251.1,30.3 251.2,27.6 251.3,26.0 251.3,25.2 251.4,25.7 251.5,27.3 251.6,29.1 251.7,30.0 251.7,33.1 251.8,36.0 251.9,30.5 252.0,26.6 252.1,27.1 252.1,28.1 252.2,28.9 252.3,29.1 252.4,30.9 252.5,32.8 252.5,29.0 252.6,26.2 252.7,26.2 252.8,26.7 252.8,25.4 252.9,23.6 253.0,25.4 253.1,26.8 253.2,26.5 253.2,26.4 253.3,26.2 253.4,25.9 253.5,29.7 253.6,34.7 253.6,30.3 253.7,27.2 253.8,28.4 253.9,29.2 254.0,29.5 254.0,29.3 254.1,28.8 254.2,28.2 254.3,26.2 254.4,24.0 254.4,26.2 254.5,28.1 254.6,29.4 254.7,30.5 254.8,28.5 254.8,26.6 254.9,26.1 255.0,25.0 255.1,23.9 255.1,25.9 255.2,27.4 255.3,27.6 255.4,27.8 255.5,28.1 255.5,28.2 255.6,28.2 255.7,28.1 255.8,28.0 255.9,23.9 255.9,19.0 256.0,24.8 256.1,29.4 256.2,29.0 256.3,27.7 256.3,26.0 256.4,24.7 256.5,24.7 256.6,25.0 256.7,26.0 256.7,29.2 256.8,31.0 256.9,30.4 257.0,28.7 257.1,26.8 257.1,25.3 257.2,24.7 257.3,24.9 257.4,25.7 257.4,26.7 257.5,29.6 257.6,33.0 257.7,32.3 257.8,31.4 257.8,27.0 257.9,20.6 258.0,24.3 258.1,27.1 258.2,26.3 258.2,27.3 258.3,29.3 258.4,29.3 258.5,29.5 258.6,30.3 258.6,30.0 258.7,28.6 258.8,27.0 258.9,26.1 259.0,26.5 259.0,27.7 259.1,30.0 259.2,31.7 259.3,29.3 259.4,27.2 259.4,27.0 259.5,27.7 259.6,28.5 259.7,29.0 259.7,33.3 259.8,38.7 259.9,33.8 260.0,30.2 260.1,30.6 260.1,30.2 260.2,29.4 260.3,28.7 260.4,33.2 260.5,39.7 260.5,36.0 260.6,32.9 260.7,33.1 260.8,32.1 260.9,30.3 260.9,28.7 261.0,28.0 261.1,28.1 261.2,28.8 261.3,30.4 261.3,32.0 261.4,30.9 261.5,30.0 261.6,29.8 261.7,29.6 261.7,29.7 261.8,32.7 261.9,36.7 262.0,35.0 262.0,33.1 262.1,32.8 262.2,31.8 262.3,30.8 262.4,30.2 262.4,30.4 262.5,30.8 262.6,31.2 262.7,33.3 262.8,35.3 262.8,31.8 262.9,28.9 263.0,28.6 263.1,29.0 263.2,30.0 263.2,31.1 263.3,31.9 263.4,32.3 263.5,32.0 263.6,31.4 263.6,29.9 263.7,28.7 263.8,30.4 263.9,32.1 264.0,32.6 264.0,32.3 264.1,31.3 264.2,30.0 264.3,29.1 264.3,28.8 264.4,29.1 264.5,30.4 264.6,31.7 264.7,30.4 264.7,29.6 264.8,30.5 264.9,31.6 265.0,32.1 265.1,31.5 265.1,29.9 265.2,28.0 265.3,26.9 265.4,27.1 265.5,29.6 265.5,33.0 265.6,33.7 265.7,33.4 265.8,32.8 265.9,31.1 265.9,29.2 266.0,27.9 266.1,26.6 266.2,26.1 266.3,28.6 266.3,31.0 266.4,31.9 266.5,32.5 266.6,32.8 266.6,32.9 266.7,32.7 266.8,32.3 266.9,31.8 267.0,31.2 267.0,32.3 267.1,33.7 267.2,31.2 267.3,29.4 267.4,29.9 267.4,30.8 267.5,31.8 267.6,35.7 267.7,39.7 267.8,36.1 267.8,33.0 267.9,33.1 268.0,33.6 268.1,34.2 268.2,33.1 268.2,30.9 268.3,31.3 268.4,31.2 268.5,28.9 268.6,26.8 268.6,28.4 268.7,30.0 268.8,30.5 268.9,31.1 268.9,31.7 269.0,32.0 269.1,29.1 269.2,25.1 269.3,28.0 269.3,30.3 269.4,30.8 269.5,31.7 269.6,30.7 269.7,30.3 269.7,30.9 269.8,27.7 269.9,23.5 270.0,27.8 270.1,31.3 270.1,31.0 270.2,30.8 270.3,30.8 270.4,31.3 270.5,32.0 270.5,32.9 270.6,33.4 270.7,32.1 270.8,29.9 270.9,29.4 270.9,28.9 271.0,30.6 271.1,33.6 271.2,31.0 271.2,29.6 271.3,30.9 271.4,31.9 271.5,32.3 271.6,32.3 271.6,32.0 271.7,31.1 271.8,30.3 271.9,31.7 272.0,32.8 272.0,32.6 272.1,32.2 272.2,31.7 272.3,31.3 272.4,31.2 272.4,28.2 272.5,24.5 272.6,28.3 272.7,31.4 272.8,31.4 272.8,31.7 272.9,32.3 273.0,32.9 273.1,31.8 273.2,30.3 273.2,32.5 273.3,34.1 273.4,33.8 273.5,33.1 273.5,32.1 273.6,31.5 273.7,33.7 273.8,37.4 273.9,36.4 273.9,35.3 274.0,35.3 274.1,34.1 274.2,32.2 274.3,30.3 274.3,29.0 274.4,29.0 274.5,30.2 274.6,29.5 274.7,28.0 274.7,32.0 274.8,34.3 274.9,33.2 275.0,32.2 275.1,31.5 275.1,31.1 275.2,30.4 275.3,29.3 275.4,28.2 275.5,27.4 275.5,26.1 275.6,25.4 275.7,28.4 275.8,31.2 275.8,33.7 275.9,35.9 276.0,34.6 276.1,33.1 276.2,32.3 276.2,31.4 276.3,29.6 276.4,28.1 276.5,29.5 276.6,31.2 276.6,31.9 276.7,32.1 276.8,31.4 276.9,30.2 277.0,29.4 277.0,30.9 277.1,33.8 277.2,33.3 277.3,32.7 277.4,32.7 277.4,32.0 277.5,29.9 277.6,27.7 277.7,28.5 277.8,29.2 277.8,29.0 277.9,29.1 278.0,29.4 278.1,29.0 278.1,28.5 278.2,30.2 278.3,31.5 278.4,31.7 278.5,31.9 278.5,32.2 278.6,32.7 278.7,33.3 278.8,32.9 278.9,31.9 278.9,32.2 279.0,31.7 279.1,29.9 279.2,28.3 279.3,27.6 279.3,28.0 279.4,30.7 279.5,34.3 279.6,34.9 279.7,35.1 279.7,35.5 279.8,34.6 279.9,32.6 280.0,31.4 280.1,30.9 280.1,28.6 280.2,27.9 280.3,29.3 280.4,30.8 280.4,31.6 280.5,31.5 280.6,30.9 280.7,28.6 280.8,26.2 280.8,27.6 280.9,28.8 281.0,28.6 281.1,28.4 281.2,29.3 281.2,30.3 281.3,28.7 281.4,27.7 281.5,28.3 281.6,29.6 281.6,31.0 281.7,31.9 281.8,29.9 281.9,27.1 282.0,29.3 282.0,31.6 282.1,32.1 282.2,32.1 282.3,31.4 282.4,30.2 282.4,29.1 282.5,28.4 282.6,28.2 282.7,27.0 282.7,25.6 282.8,27.6 282.9,29.8 283.0,31.0 283.1,32.3 283.1,32.1 283.2,30.8 283.3,31.2 283.4,31.1 283.5,30.4 283.5,30.2 283.6,30.5 283.7,29.4 283.8,27.5 283.9,28.3 283.9,29.0 284.0,29.0 284.1,29.6 284.2,30.3 284.3,30.9 284.3,31.0 284.4,30.8 284.5,30.0 284.6,28.9 284.7,28.6 284.7,28.9 284.8,27.8 284.9,27.8 285.0,29.3 285.0,30.6 285.1,31.2 285.2,30.7 285.3,29.3 285.4,27.4 285.4,25.7 285.5,24.9 285.6,27.8 285.7,32.3 285.8,30.8 285.8,29.5 285.9,29.9 286.0,29.6 286.1,29.0 286.2,28.8 286.2,29.2 286.3,30.0 286.4,30.9 286.5,31.3 286.6,30.2 286.6,28.3 286.7,28.8 286.8,29.2 286.9,28.7 287.0,28.5 287.0,28.4 287.1,28.6 287.2,29.2 287.3,30.4 287.3,28.7 287.4,26.2 287.5,31.0 287.6,33.7 287.7,32.1 287.7,30.0 287.8,28.4 287.9,27.7 288.0,28.2 288.1,29.1 288.1,29.9 288.2,30.1 288.3,28.3 288.4,26.0 288.5,27.3 288.5,28.7 288.6,29.1 288.7,29.7 288.8,26.2 288.9,21.7 288.9,26.5 289.0,30.3 289.1,30.3 289.2,30.5 289.3,30.9 289.3,31.4 289.4,31.8 289.5,31.9 289.6,31.6 289.6,31.1 289.7,31.5 289.8,32.3 289.9,30.9 290.0,30.1 290.0,30.3 290.1,32.2 290.2,34.4 290.3,32.5 290.4,30.8 290.4,30.6 290.5,30.3 290.6,29.7 290.7,29.3 290.8,29.0 290.8,29.0 290.9,27.9 291.0,26.7 291.1,28.4 291.2,29.7 291.2,29.8 291.3,29.9 291.4,30.2 291.5,30.2 291.6,30.0 291.6,29.5 291.7,29.1 291.8,29.1 291.9,27.3 291.9,25.1 292.0,27.8 292.1,29.7 292.2,29.6 292.3,30.1 292.3,31.0 292.4,32.0 292.5,32.6 292.6,32.3 292.7,31.6 292.7,32.6 292.8,34.3 292.9,31.9 293.0,29.9 293.1,29.5 293.1,29.2 293.2,29.6 293.3,27.8 293.4,25.7 293.5,30.3 293.5,33.2 293.6,32.3 293.7,31.2 293.8,30.7 293.9,30.6 293.9,30.6 294.0,30.6 294.1,30.3 294.2,28.4 294.2,26.1 294.3,27.7 294.4,29.1 294.5,29.5 294.6,30.3 294.6,31.1 294.7,31.5 294.8,31.2 294.9,30.3 295.0,29.6 295.0,29.5 295.1,26.7 295.2,23.4 295.3,27.9 295.4,31.4 295.4,31.6 295.5,31.5 295.6,31.2 295.7,30.6 295.8,30.0 295.8,31.1 295.9,32.8 296.0,30.7 296.1,29.1 296.2,29.2 296.2,29.2 296.3,29.5 296.4,29.9 296.5,30.5 296.5,31.0 296.6,31.2 296.7,33.3 296.8,35.5 296.9,32.2 296.9,29.1 297.0,28.3 297.1,28.0 297.2,28.5 297.3,29.5 297.3,30.6 297.4,31.1 297.5,30.9 297.6,28.9 297.7,26.5 297.7,27.0 297.8,27.8 297.9,28.3 298.0,29.3 298.1,30.6 298.1,31.5 298.2,35.2 298.3,39.1 298.4,34.2 298.5,30.1 298.5,29.8 298.6,29.9 298.7,30.3 298.8,31.7 298.8,33.0 298.9,31.5 299.0,29.9 299.1,31.4 299.2,33.6 299.2,32.0 299.3,31.0 299.4,31.6 299.5,31.7 299.6,31.2 299.6,30.5 299.7,29.0 299.8,27.7 299.9,29.0 300.0,30.2 300.0,30.3 300.1,30.5 300.2,30.7 300.3,31.0 300.4,31.3 300.4,31.1 300.5,30.4 300.6,29.3 300.7,29.5 300.8,30.7 300.8,29.6 300.9,29.7 301.0,33.7 301.1,37.9 301.1,35.9 301.2,33.2 301.3,31.9 301.4,30.0 301.5,28.0 301.5,26.5 301.6,27.1 301.7,29.0 301.8,29.1 301.9,29.8 301.9,31.3 302.0,32.0 302.1,31.8 302.2,31.0 302.3,30.1 302.3,29.5 302.4,29.2 302.5,32.0 302.6,35.8 302.7,34.0 302.7,32.8 302.8,33.6 302.9,30.4 303.0,25.5 303.1,27.3 303.1,28.9 303.2,28.6 303.3,29.5 303.4,31.0 303.4,32.1 303.5,32.1 303.6,31.0 303.7,29.6 303.8,28.9 303.8,28.6 303.9,28.8 304.0,31.1 304.1,32.1 304.2,29.7 304.2,26.2 304.3,26.5 304.4,27.4 304.5,27.9 304.6,29.1 304.6,30.6 304.7,32.8 304.8,34.7 304.9,33.3 305.0,31.6 305.0,30.4 305.1,29.2 305.2,28.3 305.3,28.1 305.4,28.6 305.4,28.0 305.5,27.0 305.6,29.8 305.7,32.0 305.7,32.2 305.8,32.5 305.9,32.8 306.0,32.7 306.1,32.0 306.1,28.8 306.2,24.8 306.3,25.5 306.4,26.5 306.5,26.6 306.5,27.8 306.6,30.9 306.7,34.4 306.8,34.0 306.9,32.8 306.9,31.8 307.0,33.7 307.1,36.2 307.2,30.1 307.3,25.4 307.3,25.2 307.4,25.9 307.5,27.2 307.6,29.0 307.7,31.0 307.7,32.8 307.8,33.9 307.9,38.1 308.0,42.5 308.0,36.0 308.1,30.7 308.2,30.0 308.3,29.7 308.4,29.7 308.4,29.6 308.5,29.4 308.6,29.3 308.7,29.1 308.8,28.9 308.8,27.3 308.9,25.5 309.0,27.5 309.1,29.9 309.2,31.2 309.2,32.2 309.3,32.2 309.4,31.1 309.5,29.2 309.6,27.5 309.6,26.8 309.7,31.6 309.8,37.9 309.9,33.2 310.0,28.7 310.0,29.5 310.1,30.6 310.2,28.4 310.3,27.6 310.3,29.1 310.4,28.3 310.5,25.9 310.6,27.4 310.7,28.2 310.7,28.0 310.8,29.3 310.9,31.6 311.0,33.6 311.1,34.1 311.1,33.1 311.2,31.4 311.3,30.1 311.4,31.1 311.5,33.4 311.5,32.5 311.6,31.9 311.7,32.6 311.8,33.1 311.9,33.7 311.9,36.5 312.0,39.5 312.1,36.2 312.2,32.7 312.3,31.2 312.3,30.0 312.4,29.6 312.5,30.3 312.6,31.5 312.6,33.8 312.7,35.8 312.8,33.7 312.9,31.7 313.0,31.4 313.0,31.4 313.1,31.3 313.2,30.7 313.3,29.8 313.4,29.2 313.4,28.3 313.5,28.0 313.6,30.9 313.7,33.1 313.8,33.3 313.8,35.6 313.9,38.7 314.0,36.3 314.1,34.3 314.2,33.9 314.2,30.0 314.3,24.8 314.4,25.6 314.5,26.7 314.6,26.8 314.6,28.1 314.7,30.0 314.8,32.9 314.9,35.3 314.9,34.1 315.0,32.4 315.1,31.7 315.2,31.1 315.3,30.7 315.3,30.4 315.4,29.9 315.5,26.2 315.6,21.9 315.7,26.0 315.7,29.4 315.8,29.1 315.9,28.3 316.0,26.2 316.1,24.1 316.1,25.4 316.2,27.3 316.3,28.6 316.4,29.7 316.5,30.4 316.5,30.6 316.6,30.7 316.7,31.0 316.8,33.0 316.9,35.1 316.9,32.8 317.0,30.4 317.1,29.3 317.2,28.5 317.2,28.4 317.3,29.3 317.4,31.3 317.5,33.8 317.6,35.8 317.6,36.5 317.7,34.6 317.8,31.3 317.9,29.8 318.0,28.8 318.0,28.3 318.1,28.9 318.2,30.2 318.3,31.3 318.4,29.4 318.4,26.6 318.5,29.2 318.6,31.6 318.7,31.8 318.8,31.7 318.8,31.4 318.9,31.0 319.0,30.7 319.1,33.1 319.2,35.8 319.2,32.2 319.3,29.2 319.4,29.2 319.5,29.8 319.5,30.6 319.6,31.2 319.7,31.4 319.8,32.5 319.9,33.9 319.9,32.6 320.0,31.5 320.1,31.5 320.2,31.3 320.3,31.3 320.3,31.5 320.4,31.9 320.5,32.2 320.6,33.6 320.7,34.9 320.7,32.7 320.8,31.0 320.9,31.2 321.0,31.7 321.1,32.4 321.1,32.8 321.2,32.6 321.3,32.0 321.4,31.4 321.5,31.2 321.5,32.6 321.6,34.6 321.7,34.4 321.8,33.9 321.8,33.7 321.9,32.9 322.0,31.6 322.1,30.0 322.2,28.3 322.2,27.0 322.3,26.3 322.4,26.6 322.5,26.7 322.6,27.2 322.6,30.1 322.7,32.0 322.8,31.6 322.9,30.0 323.0,27.8 323.0,26.1 323.1,25.9 323.2,28.5 323.3,32.5 323.4,33.8 323.4,34.0 323.5,33.1 323.6,30.9 323.7,28.4 323.8,26.8 323.8,26.4 323.9,26.9 324.0,27.7 324.1,27.5 324.1,27.2 324.2,29.4 324.3,31.7 324.4,32.6 324.5,32.6 324.5,31.6 324.6,32.1 324.7,33.3 324.8,30.2 324.9,28.3 324.9,28.9 325.0,29.5 325.1,30.0 325.2,30.2 325.3,30.3 325.3,30.2 325.4,30.0 325.5,27.3 325.6,24.2 325.7,27.8 325.7,30.6 325.8,30.2 325.9,29.2 326.0,27.0 326.1,24.9 326.1,25.6 326.2,27.2 326.3,28.8 326.4,30.6 326.4,32.1 326.5,32.8 326.6,32.5 326.7,31.4 326.8,30.1 326.8,27.3 326.9,24.9 327.0,27.4 327.1,29.7 327.2,30.1 327.2,30.1 327.3,30.0 327.4,29.9 327.5,30.0 327.6,30.2 327.6,30.4 327.7,30.3 327.8,28.3 327.9,26.0 328.0,27.5 328.0,29.2 328.1,29.8 328.2,30.3 328.3,30.2 328.4,29.2 328.4,27.0 328.5,25.1 328.6,26.9 328.7,29.3 328.7,30.9 328.8,31.9 328.9,30.8 329.0,28.9 329.1,30.2 329.1,31.1 329.2,30.4 329.3,29.2 329.4,30.8 329.5,33.3 329.5,28.9 329.6,26.2 329.7,27.5 329.8,29.2 329.9,31.0 329.9,32.3 330.0,32.9 330.1,33.6 330.2,33.9 330.3,31.7 330.3,30.2 330.4,30.6 330.5,31.7 330.6,32.9 330.7,33.5 330.7,33.2 330.8,33.2 330.9,33.2 331.0,31.1 331.0,29.6 331.1,29.6 331.2,29.8 331.3,33.0 331.4,36.7 331.4,33.3 331.5,30.7 331.6,31.4 331.7,32.2 331.8,28.7 331.8,23.7 331.9,28.1 332.0,31.6 332.1,31.4 332.2,31.5 332.2,31.5 332.3,31.2 332.4,30.6 332.5,31.7 332.6,33.7 332.6,32.5 332.7,31.8 332.8,30.9 332.9,29.1 333.0,30.6 333.0,31.3 333.1,30.3 333.2,29.5 333.3,29.4 333.3,30.1 333.4,31.3 333.5,32.3 333.6,32.8 333.7,35.0 333.7,37.5 333.8,33.8 333.9,31.0 334.0,31.1 334.1,31.4 334.1,31.6 334.2,31.8 334.3,32.0 334.4,32.2 334.5,32.6 334.5,33.1 334.6,35.0 334.7,36.9 334.8,34.5 334.9,32.3 334.9,32.3 335.0,33.2 335.1,34.3 335.2,33.8 335.3,31.7 335.3,30.9 335.4,29.9 335.5,28.8 335.6,28.9 335.6,29.5 335.7,30.0 335.8,30.2 335.9,29.4 336.0,28.8 336.0,30.4 336.1,32.0 336.2,32.4 336.3,32.3 336.4,31.9 336.4,31.4 336.5,31.1 336.6,31.2 336.7,31.6 336.8,33.0 336.8,34.3 336.9,32.6 337.0,30.6 337.1,29.4 337.2,28.8 337.2,29.3 337.3,31.0 337.4,32.1 337.5,32.2 337.6,33.7 337.6,33.1 337.7,30.5 337.8,28.2 337.9,27.3 337.9,27.7 338.0,28.6 338.1,31.9 338.2,34.9 338.3,30.8 338.3,27.5 338.4,27.7 338.5,28.8 338.6,30.4 338.7,33.2 338.7,35.5 338.8,33.6 338.9,31.2 339.0,29.8 339.1,28.5 339.1,27.8 339.2,28.1 339.3,29.4 339.4,29.5 339.5,28.8 339.5,31.9 339.6,33.6 339.7,32.8 339.8,31.8 339.9,31.1 339.9,30.6 340.0,30.2 340.1,29.7 340.2,29.0 340.2,27.5 340.3,26.1 340.4,27.5 340.5,29.2 340.6,30.1 340.6,30.9 340.7,31.3 340.8,31.5 340.9,31.4 341.0,31.3 341.0,31.1 341.1,30.9 341.2,33.2 341.3,35.9 341.4,31.6 341.4,28.0 341.5,27.4 341.6,27.3 341.7,27.8 341.8,28.8 341.8,29.9 341.9,31.1 342.0,31.9 342.1,31.9 342.2,35.5 342.2,39.4 342.3,32.9 342.4,28.0 342.5,29.4 342.5,31.5 342.6,30.5 342.7,29.5 342.8,29.5 342.9,29.5 342.9,29.7 343.0,31.7 343.1,34.2 343.2,32.0 343.3,29.9 343.3,29.2 343.4,28.2 343.5,27.4 343.6,27.3 343.7,28.3 343.7,29.8 343.8,31.4 343.9,33.6 344.0,35.3 344.1,33.9 344.1,32.4 344.2,31.7 344.3,31.0 344.4,30.6 344.5,30.6 344.5,31.2 344.6,31.8 344.7,32.1 344.8,31.9 344.8,32.6 344.9,33.6 345.0,31.4 345.1,30.0 345.2,30.4 345.2,31.1 345.3,31.9 345.4,32.6 345.5,33.0 345.6,36.3 345.6,39.9 345.7,35.3 345.8,31.5 345.9,31.4 346.0,31.6 346.0,31.9 346.1,32.1 346.2,32.1 346.3,31.8 346.4,31.0 346.4,30.1 346.5,30.1 346.6,30.6 346.7,29.3 346.8,28.6 346.8,29.0 346.9,29.5 347.0,29.6 347.1,30.7 347.1,31.8 347.2,29.9 347.3,28.9 347.4,29.7 347.5,30.6 347.5,31.1 347.6,30.6 347.7,29.0 347.8,24.7 347.9,20.2 347.9,22.4 348.0,25.0 348.1,25.8 348.2,27.1 348.3,27.5 348.3,27.3 348.4,28.8 348.5,29.1 348.6,28.0 348.7,27.1 348.7,27.3 348.8,28.6 348.9,30.5 349.0,32.3 349.1,33.6 349.1,32.3 349.2,30.1 349.3,32.3 349.4,33.7 349.4,32.8 349.5,31.8 349.6,31.1 349.7,30.6 349.8,30.5 349.8,30.7 349.9,31.1 350.0,31.4 350.1,29.3 350.2,26.2 350.2,27.5 350.3,28.5 350.4,28.4 350.5,29.0 350.6,29.8 350.6,30.4 350.7,31.6 350.8,32.7 350.9,31.2 351.0,30.1 351.0,30.3 351.1,30.4 351.2,29.1 351.3,27.1 351.4,27.7 351.4,28.2 351.5,28.2 351.6,29.0 351.7,30.3 351.7,31.2 351.8,31.3 351.9,30.7 352.0,29.9 352.1,32.2 352.1,35.9 352.2,34.3 352.3,33.0 352.4,33.4 352.5,33.0 352.5,32.2 352.6,31.4 352.7,30.6 352.8,30.0 352.9,29.7 352.9,32.1 353.0,35.2 353.1,32.3 353.2,29.8 353.3,28.1 353.3,26.1 353.4,27.8 353.5,29.2 353.6,29.2 353.7,29.2 353.7,29.3 353.8,29.5 353.9,29.7 354.0,30.0 354.0,28.2 354.1,25.6 354.2,27.6 354.3,29.0 354.4,28.8 354.4,28.9 354.5,29.3 354.6,29.4 354.7,29.1 354.8,28.6 354.8,29.9 354.9,32.4 355.0,31.9 355.1,31.9 355.2,32.9 355.2,33.1 355.3,32.6 355.4,35.9 355.5,40.3 355.6,34.3 355.6,29.7 355.7,29.6 355.8,29.7 355.9,29.8 356.0,30.1 356.0,30.8 356.1,31.5 356.2,33.8 356.3,36.1 356.3,33.4 356.4,31.1 356.5,30.8 356.6,30.7 356.7,30.9 356.7,31.3 356.8,31.8 356.9,32.2 357.0,32.6 357.1,32.7 357.1,34.1 357.2,35.4 357.3,32.2 357.4,29.4 357.5,28.7 357.5,24.3 357.6,19.7 357.7,26.0 357.8,31.4 357.9,31.9 357.9,31.7 358.0,32.3 358.1,33.0 358.2,30.7 358.3,28.7 358.3,28.1 358.4,27.7 358.5,27.7 358.6,28.6 358.6,30.1 358.7,32.0 358.8,33.7 358.9,35.9 359.0,37.2 359.0,34.9 359.1,32.3 359.2,30.9 359.3,30.0 359.4,30.0 359.4,30.7 359.5,32.1 359.6,33.7 359.7,35.2 359.8,36.1 359.8,38.9 359.9,41.6 360.0,36.6 360.1,32.3 360.2,31.0 360.2,29.8 360.3,28.4 360.4,27.0 360.5,26.2 360.6,26.2 360.6,26.8 360.7,31.3 360.8,36.7 360.9,33.2 360.9,30.6 361.0,31.9 361.1,32.9 361.2,32.8 361.3,31.5 361.3,27.0 361.4,22.2 361.5,24.4 361.6,27.5 361.7,29.2 361.7,30.7 361.8,31.5 361.9,31.9 362.0,32.3 362.1,32.7 362.1,31.7 362.2,29.5 362.3,29.3 362.4,29.0 362.5,28.5 362.5,29.0 362.6,29.6 362.7,29.6 362.8,29.5 362.9,31.6 362.9,34.3 363.0,37.8 363.1,40.3 363.2,42.1 363.2,46.5 363.3,74.0 363.4,74.0 363.5,74.0 363.6,74.0 363.6,74.0 363.7,72.4 363.8,71.9 363.9,68.9 364.0,67.4 364.0,67.9 364.1,68.2 364.2,67.5 364.3,66.1 364.4,66.5 364.4,68.7 364.5,69.4 364.6,70.3 364.7,74.2 364.8,77.0 364.8,71.3 364.9,66.9 365.0,66.8 365.1,64.9 365.2,61.9 365.2,63.8 365.3,64.7 365.4,64.0 365.5,64.9 365.6,67.0 365.6,69.0 365.7,69.6 365.8,68.6 365.9,66.5 365.9,66.2 366.0,67.3 366.1,65.3 366.2,63.8 366.3,63.7 366.3,63.6 366.4,63.9 366.5,64.9 366.6,66.1 366.7,66.5 366.7,65.7 366.8,65.4 366.9,65.1 367.0,61.7 367.1,59.7 367.1,60.3 367.2,61.1 367.3,61.5 367.4,58.8 367.5,55.0 367.5,56.9 367.6,58.8 367.7,59.3 367.8,60.5 367.9,61.1 367.9,60.9 368.0,61.8 368.1,61.8 368.2,60.5 368.2,59.4 368.3,58.7 368.4,58.7 368.5,57.3 368.6,55.5 368.6,57.9 368.7,59.3 368.8,58.5 368.9,57.6 369.0,57.0 369.0,56.7 369.1,58.2 369.2,59.9 369.3,57.7 369.4,55.3 369.4,54.4 369.5,53.7 369.6,54.9 369.7,56.7 369.8,55.6 369.8,54.3 369.9,53.5 370.0,52.6 370.1,52.3 370.2,52.8 370.2,53.8 370.3,54.4 370.4,53.7 370.5,51.9 370.5,52.9 370.6,55.6 370.7,53.3 370.8,52.7 370.9,51.9 370.9,49.1 371.0,51.0 371.1,51.1 371.2,48.5 371.3,46.7 371.3,46.3 371.4,47.1 371.5,48.7 371.6,50.2 371.7,51.1 371.7,47.1 371.8,41.6 371.9,45.9 372.0,49.6 372.1,49.4 372.1,49.3 372.2,49.3 372.3,49.3 372.4,51.0 372.5,53.1 372.5,51.9 372.6,49.7 372.7,47.3 372.8,43.4 372.8,40.2 372.9,41.3 373.0,44.6 373.1,48.0 373.2,50.7 373.2,51.7 373.3,51.1 373.4,49.9 373.5,49.1 373.6,48.6 373.6,49.7 373.7,50.5 373.8,46.0 373.9,42.5 374.0,42.4 374.0,45.0 374.1,48.4 374.2,47.2 374.3,44.7 374.4,42.3 374.4,40.2 374.5,39.5 374.6,40.2 374.7,41.5 374.8,42.5 374.8,42.8 374.9,45.1 375.0,48.4 375.1,47.0 375.1,45.4 375.2,44.4 375.3,42.4 375.4,40.5 375.5,39.9 375.5,40.8 375.6,41.9 375.7,45.9 375.8,49.4 375.9,42.8 375.9,37.8 376.0,37.9 376.1,38.5 376.2,38.6 376.3,36.9 376.3,34.9 376.4,35.8 376.5,37.5 376.6,38.5 376.7,37.9 376.7,35.6 376.8,32.5 376.9,30.4 377.0,30.4 377.1,32.0 377.1,32.0 377.2,30.7 377.3,32.2 377.4,33.2 377.4,33.4 377.5,34.1 377.6,34.6 377.7,34.0 377.8,32.4 377.8,30.9 377.9,30.9 378.0,32.6 378.1,37.5 378.2,41.7 378.2,37.2 378.3,31.4 378.4,28.2 378.5,27.1 378.6,29.0 378.6,29.0 378.7,27.7 378.8,32.5 378.9,34.1 379.0,32.4 379.0,31.7 379.1,29.8 379.2,29.7 379.3,31.2 379.4,31.9 379.4,31.3 379.5,30.0 379.6,29.0 379.7,29.1 379.7,30.2 379.8,30.2 379.9,29.1 380.0,29.8 380.1,29.3 380.1,27.2 380.2,26.0 380.3,26.4 380.4,28.3 380.5,30.8 380.5,33.7 380.6,35.6 380.7,33.4 380.8,31.0 380.9,30.4 380.9,30.4 381.0,31.0 381.1,31.3 381.2,31.0 381.3,30.2 381.3,27.5 381.4,25.0 381.5,28.1 381.6,31.6 381.7,33.1 381.7,33.7 381.8,32.9 381.9,31.8 382.0,30.5 382.0,27.7 382.1,26.6 382.2,29.4 382.3,32.9 382.4,31.7 382.4,29.7 382.5,28.8 382.6,28.2 382.7,28.6 382.8,29.8 382.8,30.9 382.9,30.9 383.0,27.4 383.1,22.9 383.2,25.2 383.2,28.3 383.3,31.3 383.4,35.1 383.5,35.4 383.6,34.7 383.6,33.9 383.7,31.5 383.8,29.1 383.9,29.7 384.0,30.7 384.0,30.9 384.1,30.7 384.2,30.2 384.3,30.2 384.3,31.3 384.4,33.4 384.5,35.4 384.6,35.7 384.7,32.6 384.7,27.8 384.8,26.9 384.9,28.0 385.0,30.3 385.1,34.1 385.1,37.1 385.2,37.5 385.3,32.9 385.4,26.5 385.5,26.8 385.5,29.4 385.6,31.9 385.7,34.7 385.8,35.7 385.9,34.2 385.9,31.7 386.0,30.1 386.1,29.2 386.2,29.2 386.3,31.1 386.3,31.6 386.4,30.6 386.5,30.3 386.6,31.3 386.6,32.8 386.7,33.7 386.8,33.2 386.9,32.2 387.0,31.8 387.0,30.4 387.1,29.3 387.2,34.3 387.3,37.1 387.4,35.7 387.4,30.9 387.5,26.4 387.6,31.0 387.7,34.9 387.8,34.6 387.8,33.5 387.9,33.0 388.0,33.9 388.1,35.9 388.2,37.4 388.2,37.2 388.3,35.1 388.4,30.4 388.5,26.4 388.6,30.0 388.6,34.6 388.7,35.0 388.8,33.4 388.9,34.3 388.9,34.3 389.0,33.4 389.1,33.9 389.2,38.7 389.3,43.5 389.3,37.7 389.4,32.1 389.5,30.8 389.6,30.7 389.7,34.1 389.7,38.1 389.8,35.7 389.9,33.4 390.0,30.4 390.1,27.1 390.1,31.8 390.2,35.0 390.3,33.8 390.4,32.2 390.5,31.2 390.5,31.8 390.6,32.9 390.7,34.2 390.8,36.6 390.9,37.4 390.9,36.1 391.0,34.7 391.1,34.2 391.2,37.6 391.2,42.3 391.3,40.6 391.4,38.1 391.5,36.5 391.6,34.1 391.6,32.4 391.7,32.1 391.8,33.2 391.9,34.8 392.0,34.4 392.0,32.5 392.1,33.2 392.2,33.4 392.3,32.7 392.4,31.7 392.4,30.9 392.5,32.3 392.6,32.8 392.7,31.6 392.8,30.1 392.8,31.4 392.9,34.3 393.0,32.8 393.1,32.4 393.2,33.8 393.2,34.0 393.3,33.2 393.4,30.2 393.5,27.3 393.5,29.8 393.6,32.9 393.7,34.6 393.8,36.0 393.9,36.9 393.9,35.7 394.0,34.1 394.1,36.8 394.2,39.1 394.3,38.4 394.3,36.3 394.4,35.4 394.5,33.7 394.6,31.5 394.7,30.7 394.7,31.6 394.8,35.8 394.9,40.6 395.0,39.4 395.1,37.1 395.1,35.6 395.2,33.8 395.3,32.8 395.4,33.1 395.5,35.6 395.5,38.2 395.6,36.0 395.7,33.4 395.8,32.4 395.8,32.4 395.9,33.6 396.0,35.1 396.1,35.8 396.2,35.1 396.2,33.4 396.3,31.7 396.4,32.1 396.5,33.8 396.6,32.6 396.6,31.6 396.7,31.6 396.8,31.2 396.9,31.0 397.0,31.4 397.0,34.8 397.1,38.5 397.2,35.4 397.3,31.8 397.4,30.5 397.4,29.5 397.5,29.3 397.6,30.0 397.7,31.4 397.8,33.3 397.8,35.3 397.9,37.0 398.0,38.6 398.1,39.4 398.1,36.9 398.2,34.2 398.3,32.7 398.4,31.4 398.5,30.2 398.5,29.3 398.6,28.8 398.7,29.1 398.8,30.2 398.9,31.7 398.9,34.3 399.0,36.5 399.1,34.1 399.2,32.3 399.3,33.1 399.3,34.7 399.4,36.4 399.5,35.5 399.6,32.9 399.7,33.4 399.7,33.3 399.8,31.7 399.9,30.7 400.0,30.4 400.1,30.8 400.1,31.6 400.2,34.0 400.3,36.5 400.4,34.7 400.4,33.0 400.5,33.1 400.6,33.4 400.7,33.5 400.8,34.3 400.8,34.8 400.9,32.6 401.0,31.0 401.1,31.4 401.2,32.4 401.2,33.6 401.3,34.3 401.4,34.3 401.5,32.2 401.6,29.5 401.6,29.8 401.7,30.6 401.8,31.0 401.9,31.9 402.0,32.5 402.0,29.1 402.1,24.3 402.2,26.9 402.3,29.4 402.4,29.8 402.4,30.7 402.5,31.5 402.6,33.6 402.7,35.5 402.7,31.8 402.8,29.3 402.9,30.0 403.0,31.3 403.1,32.4 403.1,32.4 403.2,31.4 403.3,29.1 403.4,27.2 403.5,28.6 403.5,30.6 403.6,31.8 403.7,32.0 403.8,31.2 403.9,30.2 403.9,30.0 404.0,30.7 404.1,31.9 404.2,30.2 404.3,27.0 404.3,28.9 404.4,30.3 404.5,31.0 404.6,32.2 404.7,31.0 404.7,29.9 404.8,29.9 404.9,29.9 405.0,30.1 405.0,32.3 405.1,34.9 405.2,32.6 405.3,30.7 405.4,30.7 405.4,33.2 405.5,36.1 405.6,32.4 405.7,29.4 405.8,29.7 405.8,30.4 405.9,31.3 406.0,31.8 406.1,31.7 406.2,31.1 406.2,30.5 406.3,31.4 406.4,33.0 406.5,32.2 406.6,31.6 406.6,32.0 406.7,32.0 406.8,31.7 406.9,31.4 407.0,31.3 407.0,31.2 407.1,30.1 407.2,28.8 407.3,29.8 407.3,30.8 407.4,31.0 407.5,31.1 407.6,30.9 407.7,30.5 407.7,30.2 407.8,29.0 407.9,27.8 408.0,29.0 408.1,29.8 408.1,29.7 408.2,29.5 408.3,29.4 408.4,29.0 408.5,26.8 408.5,24.3 408.6,26.1 408.7,27.9 408.8,31.3 408.9,35.7 408.9,33.9 409.0,32.5 409.1,33.1 409.2,32.7 409.3,29.8 409.3,26.2 409.4,26.9 409.5,27.9 409.6,27.9 409.6,27.6 409.7,27.3 409.8,29.4 409.9,31.3 410.0,32.0 410.0,33.6 410.1,35.1 410.2,33.2 410.3,31.1 410.4,30.0 410.4,28.8 410.5,28.1 410.6,28.3 410.7,29.1 410.8,30.0 410.8,30.4 410.9,30.1 411.0,30.5 411.1,31.5 411.2,30.3 411.2,29.6 411.3,30.1 411.4,30.1 411.5,29.8 411.6,29.2 411.6,28.5 411.7,27.8 411.8,27.2 411.9,26.7 411.9,24.6 412.0,22.4 412.1,25.2 412.2,27.8 412.3,28.4 412.3,29.0 412.4,29.5 412.5,30.0 412.6,28.4 412.7,26.0 412.7,27.4 412.8,28.1 412.9,27.1 413.0,26.5 413.1,26.6 413.1,27.3 413.2,26.4 413.3,24.9 413.4,27.6 413.5,29.2 413.5,28.4 413.6,27.6 413.7,25.1 413.8,22.7 413.9,26.2 413.9,29.2 414.0,29.3 414.1,28.9 414.2,28.1 414.2,28.4 414.3,29.1 414.4,27.6 414.5,26.6 414.6,26.7 414.6,27.1 414.7,27.7 414.8,28.4 414.9,27.3 415.0,26.0 415.0,28.7 415.1,31.2 415.2,31.9 415.3,32.2 415.4,31.9 415.4,31.1 415.5,29.8 415.6,28.6 415.7,24.7 415.8,20.5 415.8,24.3 415.9,28.1 416.0,29.6 416.1,31.6 416.2,33.5 416.2,35.2 416.3,35.7 416.4,33.1 416.5,30.5 416.5,28.5 416.6,26.8 416.7,27.9 416.8,28.7 416.9,28.3 416.9,27.9 417.0,27.6 417.1,27.6 417.2,27.8 417.3,27.9 417.3,27.9 417.4,27.9 417.5,31.7 417.6,36.5 417.7,32.5 417.7,29.2 417.8,29.2 417.9,28.9 418.0,28.6 418.1,28.4 418.1,28.6 418.2,29.0 418.3,27.4 418.4,24.8 418.5,26.6 418.5,28.0 418.6,27.7 418.7,28.0 418.8,28.5 418.8,30.1 418.9,31.6 419.0,29.7 419.1,28.5 419.2,29.3 419.2,30.5 419.3,31.5 419.4,31.9 419.5,31.6 419.6,32.1 419.6,32.9 419.7,31.1 419.8,29.6 419.9,29.2 420.0,28.8 420.0,27.9 420.1,27.4 420.2,29.6 420.3,31.7 420.4,32.3 420.4,32.0 420.5,30.7 420.6,29.1 420.7,27.9 420.8,27.6 420.8,31.6 420.9,36.7 421.0,33.7 421.1,30.3 421.1,26.5 421.2,21.7 421.3,23.5 421.4,25.6 421.5,27.3 421.5,29.9 421.6,28.8 421.7,27.7 421.8,27.7 421.9,27.3 421.9,25.5 422.0,23.7 422.1,26.1 422.2,28.7 422.3,30.0 422.3,30.9 422.4,31.0 422.5,30.3 422.6,29.4 422.7,27.0 422.7,24.9 422.8,28.1 422.9,30.7 423.0,28.3 423.1,24.4 423.1,25.9 423.2,27.0 423.3,26.4 423.4,26.7 423.4,27.6 423.5,28.3 423.6,31.8 423.7,35.9 423.8,32.7 423.8,30.6 423.9,31.2 424.0,30.7 424.1,29.1 424.2,27.1 424.2,25.2 424.3,24.9 424.4,28.6 424.5,32.6 424.6,34.6 424.6,35.0 424.7,32.6 424.8,29.3 424.9,28.7 425.0,28.9 425.0,29.5 425.1,30.9 425.2,32.1 425.3,29.8 425.4,25.7 425.4,27.3 425.5,28.7 425.6,28.6 425.7,29.6 425.7,32.8 425.8,35.7 425.9,33.2 426.0,30.4 426.1,29.5 426.1,29.2 426.2,32.0 426.3,35.6 426.4,33.5 426.5,30.9 426.5,29.5 426.6,27.0 426.7,25.1 426.8,27.1 426.9,29.6 426.9,30.8 427.0,31.1 427.1,30.2 427.2,28.5 427.3,26.9 427.3,26.3 427.4,26.8 427.5,27.2 427.6,27.6 427.7,29.8 427.7,31.1 427.8,31.0 427.9,30.7 428.0,30.3 428.0,29.8 428.1,29.1 428.2,28.5 428.3,29.4 428.4,31.0 428.4,30.4 428.5,30.2 428.6,31.9 428.7,33.5 428.8,32.7 428.8,32.0 428.9,32.2 429.0,32.1 429.1,31.8 429.2,31.1 429.2,30.1 429.3,29.2 429.4,28.8 429.5,30.3 429.6,32.3 429.6,30.8 429.7,29.3 429.8,29.0 429.9,28.8 430.0,29.0 430.0,29.5 430.1,30.1 430.2,30.4 430.3,32.1 430.3,33.5 430.4,29.4 430.5,26.2 430.6,27.3 430.7,29.4 430.7,29.0 430.8,28.7 430.9,29.2 431.0,29.6 431.1,30.1 431.1,30.9 431.2,32.0 431.3,33.0 431.4,33.4 431.5,31.9 431.5,29.2 431.6,28.3 431.7,27.5 431.8,26.8 431.9,27.5 431.9,29.6 432.0,32.2 432.1,35.9 432.2,38.7 432.3,36.1 432.3,32.8 432.4,30.8 432.5,29.4 432.6,29.1 432.6,31.2 432.7,34.3 432.8,33.8 432.9,33.1 433.0,33.0 433.0,31.8 433.1,29.8 433.2,28.1 433.3,27.5 433.4,28.0 433.4,28.1 433.5,27.8 433.6,29.6 433.7,30.5 433.8,30.2 433.8,29.9 433.9,29.6 434.0,29.5 434.1,29.4 434.2,31.0 434.2,33.3 434.3,32.9 434.4,33.0 434.5,34.2 434.6,34.7 434.6,36.7 434.7,38.4 434.8,33.3 434.9,29.3 434.9,29.7 435.0,31.0 435.1,30.0 435.2,29.4 435.3,32.0 435.3,35.2 435.4,33.9 435.5,32.5 435.6,32.1 435.7,32.7 435.7,33.8 435.8,32.2 435.9,31.5 436.0,33.2 436.1,34.5 436.1,32.2 436.2,29.9 436.3,29.0 436.4,28.9 436.5,27.7 436.5,26.3 436.6,28.6 436.7,30.5 436.8,30.7 436.9,30.5 436.9,29.8 437.0,28.6 437.1,27.6 437.2,27.3 437.2,27.8 437.3,28.4 437.4,29.9 437.5,31.3 437.6,30.2 437.6,29.9 437.7,29.4 437.8,28.2 437.9,30.5 438.0,31.7 438.0,31.2 438.1,31.3 438.2,32.1 438.3,34.4 438.4,36.6 438.4,34.3 438.5,31.7 438.6,30.6 438.7,30.0 438.8,30.2 438.8,30.6 438.9,30.7 439.0,31.5 439.1,32.2 439.2,30.3 439.2,29.3 439.3,30.2 439.4,31.5 439.5,32.7 439.5,33.2 439.6,33.1 439.7,32.3 439.8,31.3 439.9,30.1 439.9,28.0 440.0,26.1 440.1,27.7 440.2,29.8 440.3,31.4 440.3,33.0 440.4,35.3 440.5,37.0 440.6,34.5 440.7,32.1 440.7,31.4 440.8,31.3 440.9,31.5 441.0,31.7 441.1,31.6 441.1,31.2 441.2,30.7 441.3,33.5 441.4,37.1 441.5,33.5 441.5,30.4 441.6,30.4 441.7,30.6 441.8,31.3 441.8,32.1 441.9,32.7 442.0,32.6 442.1,31.7 442.2,30.6 442.2,28.8 442.3,27.5 442.4,29.7 442.5,31.9 442.6,32.5 442.6,30.4 442.7,27.3 442.8,29.1 442.9,30.4 443.0,30.0 443.0,29.9 443.1,30.0 443.2,31.2 443.3,32.9 443.4,31.9 443.4,31.7 443.5,32.8 443.6,33.2 443.7,32.5 443.8,30.8 443.8,27.9 443.9,25.8 444.0,27.6 444.1,30.4 444.1,32.4 444.2,35.5 444.3,37.9 444.4,35.7 444.5,33.2 444.5,30.3 444.6,27.1 444.7,28.2 444.8,29.5 444.9,29.8 444.9,30.3 445.0,30.9 445.1,31.1 445.2,31.0 445.3,30.6 445.3,28.4 445.4,26.0 445.5,29.0 445.6,31.7 445.7,32.3 445.7,34.3 445.8,36.1 445.9,33.4 446.0,31.3 446.1,31.3 446.1,31.4 446.2,31.4 446.3,31.0 446.4,32.8 446.4,35.2 446.5,31.5 446.6,29.3 446.7,30.4 446.8,31.9 446.8,32.8 446.9,31.7 447.0,29.4 447.1,29.7 447.2,29.9 447.2,29.5 447.3,29.4 447.4,27.3 447.5,24.9 447.6,27.9 447.6,30.2 447.7,30.0 447.8,27.5 447.9,24.8 448.0,28.7 448.0,32.6 448.1,33.8 448.2,34.0 448.3,33.1 448.4,35.9 448.4,39.6 448.5,33.1 448.6,28.3 448.7,28.3 448.7,28.4 448.8,28.0 448.9,27.3 449.0,26.3 449.1,23.2 449.1,20.1 449.2,23.7 449.3,27.1 449.4,29.0 449.5,31.5 449.5,31.7 449.6,31.7 449.7,31.9 449.8,31.1 449.9,29.9 449.9,31.1 450.0,33.3 450.1,31.1 450.2,29.6 450.3,30.2 450.3,30.5 450.4,32.1 450.5,33.6 450.6,30.6 450.7,28.6 450.7,29.3 450.8,30.5 450.9,31.9 451.0,32.8 451.0,33.2 451.1,34.2 451.2,35.1 451.3,33.3 451.4,31.9 451.4,31.7 451.5,31.9 451.6,32.3 451.7,33.9 451.8,35.2 451.8,32.4 451.9,29.6 452.0,28.4 452.1,24.7 452.2,21.3 452.2,26.1 452.3,30.7 452.4,32.0 452.5,32.5 452.6,32.0 452.6,30.7 452.7,29.4 452.8,28.8 452.9,27.0 453.0,25.1 453.0,28.0 453.1,29.8 453.2,29.2 453.3,28.6 453.3,28.1 453.4,28.2 453.5,28.7 453.6,29.6 453.7,30.5 453.7,33.4 453.8,36.2 453.9,32.0 454.0,28.2 454.1,26.5 454.1,25.4 454.2,27.7 454.3,30.8 454.4,33.2 454.5,35.1 454.5,35.9 454.6,33.0 454.7,28.7 454.8,30.4 454.9,31.8 454.9,30.9 455.0,29.9 455.1,28.9 455.2,28.1 455.3,27.9 455.3,28.3 455.4,27.3 455.5,25.5 455.6,27.4 455.6,28.4 455.7,28.0 455.8,28.4 455.9,29.4 456.0,30.6 456.0,31.3 456.1,35.0 456.2,39.0 456.3,33.4 456.4,29.3 456.4,30.1 456.5,31.4 456.6,32.7 456.7,33.2 456.8,32.7 456.8,31.5 456.9,30.3 457.0,29.9 457.1,25.9 457.2,21.4 457.2,27.5 457.3,32.2 457.4,32.1 457.5,32.0 457.6,32.1 457.6,32.6 457.7,33.1 457.8,33.3 457.9,32.8 457.9,36.0 458.0,40.0 458.1,33.9 458.2,29.7 458.3,30.7 458.3,32.1 458.4,33.4 458.5,34.1 458.6,34.1 458.7,35.3 458.7,36.7 458.8,34.1 458.9,32.2 459.0,32.1 459.1,31.7 459.1,30.9 459.2,29.9 459.3,29.1 459.4,30.9 459.5,33.8 459.5,31.8 459.6,30.8 459.7,32.2 459.8,33.5 459.9,34.5 459.9,34.6 460.0,33.7 460.1,32.0 460.2,30.3 460.2,30.3 460.3,31.4 460.4,30.4 460.5,30.0 460.6,31.1 460.6,31.9 460.7,32.5 460.8,32.7 460.9,30.6 461.0,27.7 461.0,28.7 461.1,29.4 461.2,28.9 461.3,26.8 461.4,24.9 461.4,28.3 461.5,30.9 461.6,30.8 461.7,30.5 461.8,30.3 461.8,30.5 461.9,30.8 462.0,29.3 462.1,27.2 462.2,28.5 462.2,29.4 462.3,29.0 462.4,29.0 462.5,29.4 462.5,30.0 462.6,30.8 462.7,31.7 462.8,32.7 462.9,36.5 462.9,40.3 463.0,36.0 463.1,31.7 463.2,30.3 463.3,29.4 463.3,29.4 463.4,30.0 463.5,30.7 463.6,30.8 463.7,32.5 463.7,34.7 463.8,32.2 463.9,30.9 464.0,32.2 464.1,36.3 464.1,40.3 464.2,36.2 464.3,32.2 464.4,31.1 464.5,30.3 464.5,29.7 464.6,29.4 464.7,29.2 464.8,29.2 464.8,29.3 464.9,33.7 465.0,39.1 465.1,33.9 465.2,29.8 465.2,30.4 465.3,31.1 465.4,31.8 465.5,32.2 465.6,32.3 465.6,31.7 465.7,31.6 465.8,31.4 465.9,28.8 466.0,27.2 466.0,27.7 466.1,30.5 466.2,33.9 466.3,33.6 466.4,32.4 466.4,29.0 466.5,24.5 466.6,25.9 466.7,27.8 466.8,28.4 466.8,29.5 466.9,30.3 467.0,30.6 467.1,30.4 467.1,30.0 467.2,29.9 467.3,29.2 467.4,28.8 467.5,30.7 467.5,32.8 467.6,35.4 467.7,37.8 467.8,36.6 467.9,34.6 467.9,33.1 468.0,31.8 468.1,31.1 468.2,29.1 468.3,26.8 468.3,28.4 468.4,29.7 468.5,29.7 468.6,30.1 468.7,30.6 468.7,31.1 468.8,31.4 468.9,32.0 469.0,32.7 469.1,31.5 469.1,29.2 469.2,30.5 469.3,30.7 469.4,29.1 469.4,28.4 469.5,28.7 469.6,29.6 469.7,30.5 469.8,30.9 469.8,31.0 469.9,32.8 470.0,35.2 470.1,33.5 470.2,31.7 470.2,31.0 470.3,30.2 470.4,29.7 470.5,29.9 470.6,30.4 470.6,31.0 470.7,31.2 470.8,31.3 470.9,32.2 471.0,33.2 471.0,31.7 471.1,30.0 471.2,30.7 471.3,32.0 471.4,30.6 471.4,30.5 471.5,32.2 471.6,33.1 471.7,32.6 471.7,31.0 471.8,29.2 471.9,26.5 472.0,24.3 472.1,27.0 472.1,29.5 472.2,27.9 472.3,25.6 472.4,28.8 472.5,31.2 472.5,31.1 472.6,30.9 472.7,30.3 472.8,29.5 472.9,28.4 472.9,27.8 473.0,28.1 473.1,29.7 473.2,33.0 473.3,36.5 473.3,36.6 473.4,35.8 473.5,35.0 473.6,33.7 473.7,32.3 473.7,31.1 473.8,31.3 473.9,32.2 474.0,31.1 474.0,30.2 474.1,30.1 474.2,29.7 474.3,30.8 474.4,32.4 474.4,30.2 474.5,28.7 474.6,29.2 474.7,29.3 474.8,28.9 474.8,28.5 474.9,28.5 475.0,28.4 475.1,28.4 475.2,30.1 475.2,30.9 475.3,30.3 475.4,29.5 475.5,27.9 475.6,26.2 475.6,26.7 475.7,27.4 475.8,27.8 475.9,28.8 476.0,30.0 476.0,32.5 476.1,34.8 476.2,32.9 476.3,30.9 476.3,30.3 476.4,29.7 476.5,29.3 476.6,29.0 476.7,28.8 476.7,28.8 476.8,29.4 476.9,28.2 477.0,26.9 477.1,30.8 477.1,33.3 477.2,32.7 477.3,31.9 477.4,31.5 477.5,35.5 477.5,40.5 477.6,36.1 477.7,31.7 477.8,30.4 477.9,29.0 477.9,28.0 478.0,28.9 478.1,30.6 478.2,29.5 478.3,28.7 478.3,30.2 478.4,31.9 478.5,31.2 478.6,30.9 478.6,31.8 478.7,32.2 478.8,31.8 478.9,30.6 479.0,31.3 479.0,33.1 479.1,31.1 479.2,30.4 479.3,31.8 479.4,32.5 479.4,32.1 479.5,29.1 479.6,25.6 479.7,26.8 479.8,28.2 479.8,28.7 479.9,29.5 480.0,30.4 480.1,31.2 480.2,31.7 480.2,32.0 480.3,33.5 480.4,35.2 480.5,33.4 480.6,31.8 480.6,31.4 480.7,30.7 480.8,28.4 480.9,25.9 480.9,27.4 481.0,29.2 481.1,29.8 481.2,30.5 481.3,31.2 481.3,32.9 481.4,35.0 481.5,34.3 481.6,33.8 481.7,32.4 481.7,29.9 481.8,30.2 481.9,30.0 482.0,29.1 482.1,31.4 482.1,35.1 482.2,34.2 482.3,33.1 482.4,33.8 482.5,33.9 482.5,31.6 482.6,30.1 482.7,29.2 482.8,28.5 482.9,30.4 482.9,31.8 483.0,33.4 483.1,35.2 483.2,33.3 483.2,31.7 483.3,31.3 483.4,32.3 483.5,33.8 483.6,31.7 483.6,30.5 483.7,31.1 483.8,31.2 483.9,30.5 484.0,29.3 484.0,28.4 484.1,28.3 484.2,28.9 484.3,32.4 484.4,36.3 484.4,34.2 484.5,32.0 484.6,31.7 484.7,31.0 484.8,30.2 484.8,29.7 484.9,31.3 485.0,33.7 485.1,32.7 485.2,31.9 485.2,32.2 485.3,32.2 485.4,32.2 485.5,32.2 485.5,32.2 485.6,34.0 485.7,36.1 485.8,33.6 485.9,31.5 485.9,31.4 486.0,31.8 486.1,32.7 486.2,35.6 486.3,38.6 486.3,36.2 486.4,33.3 486.5,31.8 486.6,30.5 486.7,29.8 486.7,29.1 486.8,28.3 486.9,27.2 487.0,26.7 487.1,27.0 487.1,26.3 487.2,25.5 487.3,29.5 487.4,31.9 487.5,31.3 487.5,30.1 487.6,29.1 487.7,28.8 487.8,29.0 487.8,29.4 487.9,28.3 488.0,26.8 488.1,28.5 488.2,30.5 488.2,34.8 488.3,39.6 488.4,35.6 488.5,31.5 488.6,30.5 488.6,29.8 488.7,29.6 488.8,29.8 488.9,29.8 489.0,29.7 489.0,29.6 489.1,34.2 489.2,40.1 489.3,35.6 489.4,32.1 489.4,32.6 489.5,32.5 489.6,31.9 489.7,31.1 489.8,30.7 489.8,30.8 489.9,34.3 490.0,38.7 490.1,35.1 490.2,32.1 490.2,31.9 490.3,31.2 490.4,30.0 490.5,29.1 490.5,29.0 490.6,30.0 490.7,31.3 490.8,32.0 490.9,34.9 490.9,37.6 491.0,31.4 491.1,26.8 491.2,27.2 491.3,28.9 491.3,31.0 491.4,32.8 491.5,33.5 491.6,32.7 491.7,31.1 491.7,30.6 491.8,30.9 491.9,29.5 492.0,29.0 492.1,30.0 492.1,31.0 492.2,31.8 492.3,32.1 492.4,31.8 492.5,34.8 492.5,38.7 492.6,34.7 492.7,31.6 492.8,31.6 492.8,31.0 492.9,30.1 493.0,29.5 493.1,34.0 493.2,39.9 493.2,34.8 493.3,30.2 493.4,29.4 493.5,28.6 493.6,28.1 493.6,28.0 493.7,27.9 493.8,27.9 493.9,28.0 494.0,28.3 494.0,29.6 494.1,31.1 494.2,30.2 494.3,29.3 494.4,30.5 494.4,32.1 494.5,30.1 494.6,28.6 494.7,28.8 494.8,28.8 494.8,27.5 494.9,26.0 495.0,27.9 495.1,30.0 495.1,31.3 495.2,30.7 495.3,28.9 495.4,29.5 495.5,29.2 495.5,28.0 495.6,28.0 495.7,29.3 495.8,31.3 495.9,32.8 495.9,33.2 496.0,31.1 496.1,28.4 496.2,28.8 496.3,29.4 496.3,29.1 496.4,28.8 496.5,28.6 496.6,28.5 496.7,28.8 496.7,27.7 496.8,26.0 496.9,27.4 497.0,28.3 497.1,28.0 497.1,28.1 497.2,28.6 497.3,29.0 497.4,29.0 497.4,28.6 497.5,27.9 497.6,27.2 497.7,28.0 497.8,29.4 497.8,28.4 497.9,28.2 498.0,29.6 498.1,31.0 498.2,31.9 498.2,30.7 498.3,28.7 498.4,29.5 498.5,29.8 498.6,28.9 498.6,28.4 498.7,28.5 498.8,28.9 498.9,31.4 499.0,33.7 499.0,30.2 499.1,27.2 499.2,27.1 499.3,27.9 499.4,29.3 499.4,30.3 499.5,30.2 499.6,27.8 499.7,25.0 499.7,26.2 499.8,27.8 499.9,28.4 500.0,28.6 500.1,28.1 500.1,27.2 500.2,26.7 500.3,27.0 500.4,28.0 500.5,26.8 500.5,24.4 500.6,26.4 500.7,27.7 500.8,27.3 500.9,27.8 500.9,28.8 501.0,29.7 501.1,33.0 501.2,36.2 501.3,31.5 501.3,28.3 501.4,29.3 501.5,30.9 501.6,32.0 501.7,31.8 501.7,30.3 501.8,28.3 501.9,26.9 502.0,26.6 502.0,26.6 502.1,27.1 502.2,30.3 502.3,32.9 502.4,30.5 502.4,26.3 502.5,28.2 502.6,29.1 502.7,27.5 502.8,27.3 502.8,28.9 502.9,34.2 503.0,39.9 503.1,38.4 503.2,35.2 503.2,32.7 503.3,29.6 503.4,27.4 503.5,26.8 503.6,27.8 503.6,29.6 503.7,32.4 503.8,34.7 503.9,33.2 504.0,31.7 504.0,31.2 504.1,31.0 504.2,31.2 504.3,31.9 504.3,32.8 504.4,33.2 504.5,32.4 504.6,30.5 504.7,29.5 504.7,29.6 504.8,28.7 504.9,29.3 505.0,31.4 505.1,32.8 505.1,33.2 505.2,32.9 505.3,30.7 505.4,28.2 505.5,29.6 505.5,30.5 505.6,29.6 505.7,28.7 505.8,28.0 505.9,28.0 505.9,28.5 506.0,29.4 506.1,30.1 506.2,32.4 506.3,34.5 506.3,31.5 506.4,29.1 506.5,29.2 506.6,29.8 506.6,30.6 506.7,31.3 506.8,31.7 506.9,31.8 507.0,31.2 507.0,30.0 507.1,26.8 507.2,23.6 507.3,25.4 507.4,27.8 507.4,28.9 507.5,29.8 507.6,27.0 507.7,22.9 507.8,25.9 507.8,28.2 507.9,28.0 508.0,26.8 508.1,25.8 508.2,28.1 508.2,30.2 508.3,30.8 508.4,30.9 508.5,30.4 508.6,26.3 508.6,21.7 508.7,25.6 508.8,29.7 508.9,30.8 508.9,32.8 509.0,34.2 509.1,31.4 509.2,29.1 509.3,29.1 509.3,29.7 509.4,30.2 509.5,30.1 509.6,29.2 509.7,28.1 509.7,26.1 509.8,24.2 509.9,25.4 510.0,27.0 510.1,28.2 510.1,30.8 510.2,33.6 510.3,32.5 510.4,30.9 510.5,30.1 510.5,29.3 510.6,29.1 510.7,29.6 510.8,30.6 510.9,31.4 510.9,31.9 511.0,31.9 511.1,33.6 511.2,35.5 511.2,31.6 511.3,28.3 511.4,28.0 511.5,28.5 511.6,32.1 511.6,36.3 511.7,35.1 511.8,33.4 511.9,32.8 512.0,31.9 512.0,31.4 512.1,31.8 512.2,30.1 512.3,27.7 512.4,31.1 512.4,32.6 512.5,30.7 512.6,29.1 512.7,28.6 512.8,29.3 512.8,28.4 512.9,26.6 513.0,28.9 513.1,30.4 513.2,30.0 513.2,29.8 513.3,29.7 513.4,27.4 513.5,24.3 513.5,25.9 513.6,27.7 513.7,28.4 513.8,29.6 513.9,30.9 513.9,29.4 514.0,26.8 514.1,29.8 514.2,31.8 514.3,31.0 514.3,30.2 514.4,29.3 514.5,27.0 514.6,24.4 514.7,25.8 514.7,27.3 514.8,28.1 514.9,29.5 515.0,31.0 515.1,33.5 515.1,35.1 515.2,31.3 515.3,27.3 515.4,26.8 515.5,27.8 515.5,27.0 515.6,26.9 515.7,28.0 515.8,28.8 515.8,29.4 515.9,30.2 516.0,31.0 516.1,31.3 516.2,30.7 516.2,29.3 516.3,28.7 516.4,28.9 516.5,27.6 516.6,27.5 516.6,24.6 516.7,20.2 516.8,24.9 516.9,27.9 517.0,29.0 517.0,31.7 517.1,30.9 517.2,31.6 517.3,32.4 517.4,32.0 517.4,34.4 517.5,35.2 517.6,33.2 517.7,30.9 517.8,29.0 517.8,27.9 517.9,27.9 518.0,28.7 518.1,29.7 518.1,30.6 518.2,32.3 518.3,34.0 518.4,32.9 518.5,31.6 518.5,30.9 518.6,29.8 518.7,27.6 518.8,25.8 518.9,27.6 518.9,29.7 519.0,30.9 519.1,31.8 519.2,32.1 519.3,31.7 519.3,30.7 519.4,30.7 519.5,31.2 519.6,29.4 519.7,28.0 519.7,27.7 519.8,27.3 519.9,29.0 520.0,31.5 520.1,30.0 520.1,29.3 520.2,30.5 520.3,31.1 520.4,33.6 520.4,36.1 520.5,31.9 520.6,28.5 520.7,28.3 520.8,28.6 520.8,29.4 520.9,30.5 521.0,31.7 521.1,29.9 521.2,26.9 521.2,30.2 521.3,31.9 521.4,30.2 521.5,28.4 521.6,25.8 521.6,23.7 521.7,25.9 521.8,28.5 521.9,13.9 522.0,15.1 522.0,15.6 522.1,15.3 522.2,14.4 522.3,13.4 522.4,12.6 522.4,14.7 522.5,17.7 522.6,14.8 522.7,12.6 522.7,12.8 522.8,15.2 522.9,18.2 523.0,16.4 523.1,15.0 523.1,15.3 523.2,15.2 523.3,14.7 523.4,14.3 523.5,14.4 523.5,15.2 523.6,16.6 523.7,19.0 523.8,20.9 523.9,18.9 523.9,16.7 524.0,15.8 524.1,15.3 524.2,13.2 524.3,11.1 524.3,14.3 524.4,17.5 524.5,18.9 524.6,21.5 524.7,23.7 524.7,22.3 524.8,20.4 524.9,19.4 525.0,18.7 525.0,18.6 525.1,19.2 525.2,19.8 525.3,20.0 525.4,19.5 525.4,17.0 525.5,14.4 525.6,16.2 525.7,18.2 525.8,18.8 525.8,19.3 525.9,19.5 526.0,19.6 526.1,19.7 526.2,19.7 526.2,19.5 526.3,19.1 526.4,20.3 526.5,22.0 526.6,19.8 526.6,18.7 526.7,19.9 526.8,21.1 526.9,24.6 527.0,28.0 527.0,24.2 527.1,20.6 527.2,19.6 527.3,18.9 527.3,19.0 527.4,19.9 527.5,19.6 527.6,18.7 527.7,20.9 527.7,21.9 527.8,20.7 527.9,19.8 528.0,19.8 528.1,19.5 528.1,19.2 528.2,20.7 528.3,21.7 528.4,21.5 528.5,21.4 528.5,19.6 528.6,17.4 528.7,19.2 528.8,20.5 528.9,20.5 528.9,20.9 529.0,21.6 529.1,21.7 529.2,21.5 529.3,23.5 529.3,25.1 529.4,25.5 529.5,25.6 529.6,25.4 529.6,25.2 529.7,25.2 529.8,25.4 529.9,27.3 530.0,29.5 530.0,27.4 530.1,25.3 530.2,22.4 530.3,19.5 530.4,22.8 530.4,26.5 530.5,28.0 530.6,28.8 530.7,28.4 530.8,27.2 530.8,26.1 530.9,25.7 531.0,26.0 531.1,28.0 531.2,30.0 531.2,28.3 531.3,26.8 531.4,27.1 531.5,27.6 531.6,28.0 531.6,27.8 531.7,26.9 531.8,25.7 531.9,24.6 531.9,20.0 532.0,15.0 532.1,19.7 532.2,24.1 532.3,25.3 532.3,27.2 532.4,29.1 532.5,30.6 532.6,31.2 532.7,30.9 532.7,30.2 532.8,27.4 532.9,24.7 533.0,27.8 533.1,30.5 533.1,30.8 533.2,30.9 533.3,32.9 533.4,35.1 533.5,31.8 533.5,28.8 533.6,28.5 533.7,29.0 533.8,30.4 533.9,31.8 533.9,32.4 534.0,31.6 534.1,29.1 534.2,26.6 534.2,27.2 534.3,28.9 534.4,30.5 534.5,31.7 534.6,32.0 534.6,31.3 534.7,30.4 534.8,29.9 534.9,29.9 535.0,32.1 535.0,34.4 535.1,31.1 535.2,28.2 535.3,27.8 535.4,28.3 535.4,28.1 535.5,27.9 535.6,31.1 535.7,33.3 535.8,33.1 535.8,32.2 535.9,31.1 536.0,30.2 536.1,29.8 536.2,28.6 536.2,27.4 536.3,29.2 536.4,30.7 536.5,31.0 536.5,31.6 536.6,32.3 536.7,33.3 536.8,35.7 536.9,38.1 536.9,36.9 537.0,35.4 537.1,34.8 537.2,34.0 537.3,33.3 537.3,32.9 537.4,33.1 537.5,32.6 537.6,32.0 537.7,34.2 537.7,35.7 537.8,35.7 537.9,35.3 538.0,34.8 538.1,34.5 538.1,34.7 538.2,35.3 538.3,34.1 538.4,32.0 538.5,34.5 538.5,36.0 538.6,35.3 538.7,34.8 538.8,34.5 538.8,34.5 538.9,34.6 539.0,34.9 539.1,35.3 539.2,37.5 539.2,40.1 539.3,37.6 539.4,35.4 539.5,35.2 539.6,35.0 539.6,37.8 539.7,41.5 539.8,38.5 539.9,36.2 540.0,36.2 540.0,35.4 540.1,34.1 540.2,33.0 540.3,32.8 540.4,33.9 540.4,35.8 540.5,36.7 540.6,36.7 540.7,38.5 540.8,39.3 540.8,38.5 540.9,37.7 541.0,37.1 541.1,36.6 541.1,36.1 541.2,35.6 541.3,35.3 541.4,35.3 541.5,34.9 541.5,34.2 541.6,35.2 541.7,35.5 541.8,34.6 541.9,33.5 541.9,31.4 542.0,29.1 542.1,29.9 542.2,30.7 542.3,30.9 542.3,31.6 542.4,32.8 542.5,34.1 542.6,35.2 542.7,35.8 542.7,35.7 542.8,35.2 542.9,32.8 543.0,30.2 543.1,31.9 543.1,33.4 543.2,33.4 543.3,33.1 543.4,32.5 543.4,31.5 543.5,30.8 543.6,31.0 543.7,32.4 543.8,33.7 543.8,34.7 543.9,37.5 544.0,38.8 544.1,37.8 544.2,36.2 544.2,33.8 544.3,32.0 544.4,33.8 544.5,36.3 544.6,40.2 544.6,43.7 544.7,40.6 544.8,36.5 544.9,33.7 545.0,30.9 545.0,29.3 545.1,29.1 545.2,30.3 545.3,32.2 545.4,33.7 545.4,37.0 545.5,40.1 545.6,36.5 545.7,34.1 545.7,35.0 545.8,38.8 545.9,42.5 546.0,38.7 546.1,34.5 546.1,32.7 546.2,31.2 546.3,30.5 546.4,30.6 546.5,31.4 546.5,31.6 546.6,31.5 546.7,33.2 546.8,34.0 546.9,33.2 546.9,32.1 547.0,31.1 547.1,30.7 547.2,29.8 547.3,29.2 547.3,31.4 547.4,33.1 547.5,33.3 547.6,33.3 547.7,33.3 547.7,33.2 547.8,30.9 547.9,28.1 548.0,30.8 548.0,32.6 548.1,31.7 548.2,30.5 548.3,29.6 548.4,29.8 548.4,31.3 548.5,33.5 548.6,33.1 548.7,31.3 548.8,34.0 548.8,35.5 548.9,34.4 549.0,33.2 549.1,32.1 549.2,33.9 549.2,36.6 549.3,32.9 549.4,30.3 549.5,31.2 549.6,32.3 549.6,33.4 549.7,36.3 549.8,39.1 549.9,36.4 550.0,33.6 550.0,32.7 550.1,31.6 550.2,34.2 550.3,38.1 550.3,34.5 550.4,31.8 550.5,31.9 550.6,31.6 550.7,30.9 550.7,30.3 550.8,29.9 550.9,29.9 551.0,30.3 551.1,31.0 551.1,35.0 551.2,39.6 551.3,36.4 551.4,32.9 551.5,31.4 551.5,29.7 551.6,28.5 551.7,28.5 551.8,29.7 551.9,31.4 551.9,33.0 552.0,33.8 552.1,29.9 552.2,24.8 552.3,29.0 552.3,33.1 552.4,34.0 552.5,34.6 552.6,34.4 552.6,33.3 552.7,31.8 552.8,25.9 552.9,19.6 553.0,25.4 553.0,30.8 553.1,29.0 553.2,26.2 553.3,29.5 553.4,31.7 553.4,31.1 553.5,30.3 553.6,29.5 553.7,28.8 553.8,28.8 553.8,29.3 553.9,30.2 554.0,31.0 554.1,32.7 554.2,34.2 554.2,32.5 554.3,30.9 554.4,30.5 554.5,30.3 554.6,30.3 554.6,30.5 554.7,30.7 554.8,30.5 554.9,27.7 554.9,24.1 555.0,25.7 555.1,27.0 555.2,26.4 555.3,25.7 555.3,25.0 555.4,24.7 555.5,25.0 555.6,26.2 555.7,27.8 555.7,29.4 555.8,28.7 555.9,26.9 556.0,28.5 556.1,29.3 556.1,28.4 556.2,27.6 556.3,27.2 556.4,25.9 556.5,24.8 556.5,27.2 556.6,29.1 556.7,29.2 556.8,28.8 556.9,28.4 556.9,28.3 557.0,31.6 557.1,36.0 557.2,33.2 557.2,30.7 557.3,30.7 557.4,30.0 557.5,28.9 557.6,28.0 557.6,29.0 557.7,30.9 557.8,29.8 557.9,29.2 558.0,30.2 558.0,30.9 558.1,31.3 558.2,31.0 558.3,29.9 558.4,28.4 558.4,28.7 558.5,30.2 558.6,29.3 558.7,29.6 558.8,31.3 558.8,32.5 558.9,34.0 559.0,35.2 559.1,33.5 559.2,32.0 559.2,31.5 559.3,30.8 559.4,30.2 559.5,29.9 559.5,31.4 559.6,33.3 559.7,32.2 559.8,30.7 559.9,29.7 559.9,28.4 560.0,27.4 560.1,27.2 560.2,27.7 560.3,28.8 560.3,29.9 560.4,31.7 560.5,33.3 560.6,31.7 560.7,30.0 560.7,29.4 560.8,28.9 560.9,28.6 561.0,28.8 561.1,29.3 561.1,31.6 561.2,34.1 561.3,31.9 561.4,30.0 561.5,29.7 561.5,29.6 561.6,29.7 561.7,29.8 561.8,30.0 561.8,32.9 561.9,36.5 562.0,33.5 562.1,31.4 562.2,32.2 562.2,32.3 562.3,31.6 562.4,30.2 562.5,28.8 562.6,24.5 562.6,20.2 562.7,24.8 562.8,29.0 562.9,29.8 563.0,27.3 563.0,23.5 563.1,26.3 563.2,27.9 563.3,26.7 563.4,26.2 563.4,26.5 563.5,27.4 563.6,28.5 563.7,29.4 563.8,30.0 563.8,31.4 563.9,32.9 564.0,31.5 564.1,30.2 564.1,29.8 564.2,28.8 564.3,27.2 564.4,25.3 564.5,22.5 564.5,20.5 564.6,23.1 564.7,26.7 564.8,30.9 564.9,34.8 564.9,34.6 565.0,33.5 565.1,32.7 565.2,30.3 565.3,27.5 565.3,27.7 565.4,28.4 565.5,28.9 565.6,29.8 565.7,30.5 565.7,30.6 565.8,30.1 565.9,29.4 566.0,30.3 566.1,31.8 566.1,29.2 566.2,27.6 566.3,28.5 566.4,29.9 566.4,31.1 566.5,29.6 566.6,26.8 566.7,28.3 566.8,29.6 566.8,28.5 566.9,27.5 567.0,28.9 567.1,29.4 567.2,28.1 567.2,26.6 567.3,25.3 567.4,26.6 567.5,28.8 567.6,26.1 567.6,24.4 567.7,25.2 567.8,26.3 567.9,27.3 568.0,28.3 568.0,29.2 568.1,30.1 568.2,30.7 568.3,31.0 568.4,31.7 568.4,32.2 568.5,30.0 568.6,28.2 568.7,28.0 568.7,28.3 568.8,28.7 568.9,27.9 569.0,26.8 569.1,29.1 569.1,30.9 569.2,31.0 569.3,30.7 569.4,30.2 569.5,29.7 569.5,29.3 569.6,31.2 569.7,33.1 569.8,28.8 569.9,25.3 569.9,25.2 570.0,26.0 570.1,27.3 570.2,28.6 570.3,29.5 570.3,30.1 570.4,30.4 570.5,29.3 570.6,27.7 570.7,28.3 570.7,28.8 570.8,28.5 570.9,28.4 571.0,28.4 571.0,28.2 571.1,27.6 571.2,26.7 571.3,25.9 571.4,28.7 571.4,32.8 571.5,29.7 571.6,27.7 571.7,29.2 571.8,30.3 571.8,30.6 571.9,30.0 572.0,29.2 572.1,28.9 572.2,32.0 572.2,36.3 572.3,34.6 572.4,32.5 572.5,31.8 572.6,30.6 572.6,29.4 572.7,28.8 572.8,28.7 572.9,28.8 573.0,28.9 573.0,30.6 573.1,32.6 573.2,29.9 573.3,27.5 573.3,26.7 573.4,25.5 573.5,24.0 573.6,23.1 573.7,23.3 573.7,25.2 573.8,30.5 573.9,36.6 574.0,36.8 574.1,35.8 574.1,35.1 574.2,32.8 574.3,29.7 574.4,26.9 574.5,25.2 574.5,24.9 574.6,25.7 574.7,27.0 574.8,26.7 574.9,26.3 574.9,30.5 575.0,33.8 575.1,33.7 575.2,31.8 575.3,30.4 575.3,29.3 575.4,25.7 575.5,24.3 575.6,26.0 575.6,28.3 575.7,30.0 575.8,30.7 575.9,30.4 576.0,29.7 576.0,27.7 576.1,25.6 576.2,26.7 576.3,28.1 576.4,28.7 576.4,29.3 576.5,29.3 576.6,28.7 576.7,27.7 576.8,27.1 576.8,27.1 576.9,27.6 577.0,26.8 577.1,25.4 577.2,26.2 577.2,26.9 577.3,26.9 577.4,27.0 577.5,27.2 577.6,27.3 577.6,27.7 577.7,28.2 577.8,28.9 577.9,27.7 577.9,26.0 578.0,28.2 578.1,30.0 578.2,29.9 578.3,29.4 578.3,28.3 578.4,24.6 578.5,20.6 578.6,22.6 578.7,25.2 578.7,26.5 578.8,27.9 578.9,28.9 579.0,29.4 579.1,31.1 579.1,32.9 579.2,30.8 579.3,28.8 579.4,28.2 579.5,27.5 579.5,26.7 579.6,25.9 579.7,27.0 579.8,29.1 579.9,27.7 579.9,27.0 580.0,27.9 580.1,26.7 580.2,24.3 580.2,24.7 580.3,25.1 580.4,24.3 580.5,24.5 580.6,27.5 580.6,30.3 580.7,31.2 580.8,30.8 580.9,29.4 581.0,28.0 581.0,28.4 581.1,29.7 581.2,28.9 581.3,28.3 581.4,28.7 581.4,29.0 581.5,29.2 581.6,29.1 581.7,28.8 581.8,28.1 581.8,29.5 581.9,31.8 582.0,29.7 582.1,28.4 582.2,29.0 582.2,27.6 582.3,25.7 582.4,27.6 582.5,29.6 582.5,31.6 582.6,33.6 582.7,32.5 582.8,31.2 582.9,32.1 582.9,33.3 583.0,31.7 583.1,30.2 583.2,29.8 583.3,29.2 583.3,28.6 583.4,28.5 583.5,28.8 583.6,29.3 583.7,29.5 583.7,29.3 583.8,27.8 583.9,26.2 584.0,27.4 584.1,29.0 584.1,30.2 584.2,31.4 584.3,32.0 584.4,30.2 584.5,27.0 584.5,27.1 584.6,27.3 584.7,25.7 584.8,24.9 584.8,28.0 584.9,30.9 585.0,32.2 585.1,31.5 585.2,29.7 585.2,30.1 585.3,30.3 585.4,30.1 585.5,30.4 585.6,30.9 585.6,31.2 585.7,30.9 585.8,30.4 585.9,29.9 586.0,28.0 586.0,26.2 586.1,28.1 586.2,29.8 586.3,29.8 586.4,29.8 586.4,29.8 586.5,29.9 586.6,33.1 586.7,36.8 586.8,32.7 586.8,29.2 586.9,28.7 587.0,27.3 587.1,25.8 587.1,27.0 587.2,28.1 587.3,28.5 587.4,29.8 587.5,32.0 587.5,34.4 587.6,36.2 587.7,36.4 587.8,34.9 587.9,32.2 587.9,27.0 588.0,21.7 588.1,22.9 588.2,24.7 588.3,25.4 588.3,26.8 588.4,30.4 588.5,34.0 588.6,31.8 588.7,29.7 588.7,30.0 588.8,28.9 588.9,27.7 589.0,30.3 589.1,31.8 589.1,30.7 589.2,29.2 589.3,27.9 589.4,27.1 589.4,27.1 589.5,25.2 589.6,23.0 589.7,27.5 589.8,30.8 589.8,30.6 589.9,28.9 590.0,26.9 590.1,27.6 590.2,28.6 590.2,29.0 590.3,29.5 590.4,29.7 590.5,29.6 590.6,28.1 590.6,26.5 590.7,27.9 590.8,29.8 590.9,32.3 591.0,34.8 591.0,33.8 591.1,32.0 591.2,30.7 591.3,29.4 591.4,30.0 591.4,31.7 591.5,31.2 591.6,30.7 591.7,30.4 591.7,29.2 591.8,27.4 591.9,26.0 592.0,25.4 592.1,25.8 592.1,29.3 592.2,33.7 592.3,32.3 592.4,30.9 592.5,31.3 592.5,30.9 592.6,29.9 592.7,28.9 592.8,28.7 592.9,29.4 592.9,28.6 593.0,26.9 593.1,28.6 593.2,28.8 593.3,28.4 593.3,29.3 593.4,28.6 593.5,29.3 593.6,31.3 593.7,32.1 593.7,30.4 593.8,27.6 593.9,27.1 594.0,27.1 594.0,27.2 594.1,28.5 594.2,30.5 594.3,32.5 594.4,33.5 594.4,32.5 594.5,30.2 594.6,29.7 594.7,29.6 594.8,29.5 594.8,30.2 594.9,31.3 595.0,32.2 595.1,32.8 595.2,33.1 595.2,33.1 595.3,32.7 595.4,34.4 595.5,36.1 595.6,31.6 595.6,28.0 595.7,27.3 595.8,27.2 595.9,27.5 596.0,27.9 596.0,28.4 596.1,29.1 596.2,30.1 596.3,31.2 596.3,30.7 596.4,29.3 596.5,30.6 596.6,31.0 596.7,29.8 596.7,30.3 596.8,31.6 596.9,30.3 597.0,29.8 597.1,31.1 597.1,32.6 597.2,34.0 597.3,34.7 597.4,32.4 597.5,28.6 597.5,29.0 597.6,29.3 597.7,28.5 597.8,30.2 597.9,33.3 597.9,33.3 598.0,33.2 598.1,33.5 598.2,32.7 598.3,31.2 598.3,29.8 598.4,29.1 598.5,30.8 598.6,33.5 598.6,32.8 598.7,32.1 598.8,32.2 598.9,31.8 599.0,30.9 599.0,29.8 599.1,28.4 599.2,26.3 599.3,24.7 599.4,26.9 599.4,29.7 599.5,31.5 599.6,32.4 599.7,31.0 599.8,28.5 599.8,28.4 599.9,29.1 600.0,32.5 600.1,37.1 600.2,35.5 600.2,33.8 600.3,33.8 600.4,33.3 600.5,34.8 600.6,36.7 600.6,33.3 600.7,30.3 600.8,29.8 600.9,29.9 600.9,30.8 601.0,31.6 601.1,31.8 601.2,31.1 601.3,30.2 601.3,29.6 601.4,31.0 601.5,33.2 601.6,32.2 601.7,30.9 601.7,30.3 601.8,27.5 601.9,24.9 602.0,27.9 602.1,30.4 602.1,30.0 602.2,29.1 602.3,28.0 602.4,27.3 602.5,27.2 602.5,29.2 602.6,31.6 602.7,29.7 602.8,28.3 602.9,29.2 602.9,30.4 603.0,31.4 603.1,32.0 603.2,32.0 603.2,31.7 603.3,30.9 603.4,30.0 603.5,26.4 603.6,23.0 603.6,27.3 603.7,31.7 603.8,37.8 603.9,43.9 604.0,37.3 604.0,31.4 604.1,29.7 604.2,28.5 604.3,29.6 604.4,30.4 604.4,30.1 604.5,30.1 604.6,30.7 604.7,31.6 604.8,32.0 604.8,31.4 604.9,30.0 605.0,30.0 605.1,31.0 605.2,30.1 605.2,30.0 605.3,31.1 605.4,31.7 605.5,31.4 605.5,30.6 605.6,31.7 605.7,33.6 605.8,31.2 605.9,29.9 605.9,31.3 606.0,37.6 606.1,44.9 606.2,40.2 606.3,35.7 606.3,34.8 606.4,35.1 606.5,35.2 606.6,30.0 606.7,26.1 606.7,23.6 606.8,21.9 606.9,25.8 607.0,29.4 607.1,30.6 607.1,31.3 607.2,31.4 607.3,31.2 607.4,30.7 607.5,30.0 607.5,29.1 607.6,28.2 607.7,26.8 607.8,25.7 607.8,28.0 607.9,30.0 608.0,30.2 608.1,29.7 608.2,28.8 608.2,30.6 608.3,33.0 608.4,28.9 608.5,26.0 608.6,29.6 608.6,34.4 608.7,32.4 608.8,30.5 608.9,30.4 609.0,29.6 609.0,27.2 609.1,24.9 609.2,27.1 609.3,29.4 609.4,30.1 609.4,32.5 609.5,35.1 609.6,33.1 609.7,31.3 609.8,31.0 609.8,30.3 609.9,29.2 610.0,28.4 610.1,28.2 610.1,27.6 610.2,27.3 610.3,30.4 610.4,32.7 610.5,33.0 610.5,33.8 610.6,34.5 610.7,32.8 610.8,31.5 610.9,31.4 610.9,31.1 611.0,29.0 611.1,26.3 611.2,27.3 611.3,28.6 611.3,29.2 611.4,30.2 611.5,29.9 611.6,28.7 611.7,29.7 611.7,30.2 611.8,29.9 611.9,30.0 612.0,30.2 612.1,30.3 612.1,33.1 612.2,36.0 612.3,30.9 612.4,26.8 612.4,26.8 612.5,27.8 612.6,29.5 612.7,31.2 612.8,32.3 612.8,32.8 612.9,32.8 613.0,32.8 613.1,34.2 613.2,35.8 613.2,33.1 613.3,30.6 613.4,30.2 613.5,30.5 613.6,31.5 613.6,33.0 613.7,34.1 613.8,34.3 613.9,33.0 614.0,32.9 614.0,32.9 614.1,28.5 614.2,26.0 614.3,26.8 614.4,28.2 614.4,29.2 614.5,29.4 614.6,30.0 614.7,30.8 614.7,29.3 614.8,28.9 614.9,30.3 615.0,31.6 615.1,33.1 615.1,34.0 615.2,31.8 615.3,29.9 615.4,29.3 615.5,29.3 615.5,29.6 615.6,29.9 615.7,31.2 615.8,32.5 615.9,31.0 615.9,29.9 616.0,30.2 616.1,32.3 616.2,34.7 616.3,33.1 616.3,31.4 616.4,31.1 616.5,31.2 616.6,31.9 616.7,32.6 616.7,36.7 616.8,40.6 616.9,34.2 617.0,28.9 617.1,28.5 617.1,28.9 617.2,29.7 617.3,34.7 617.4,40.0 617.4,33.2 617.5,27.6 617.6,26.6 617.7,26.3 617.8,28.8 617.8,30.4 617.9,30.0 618.0,28.5 618.1,26.9 618.2,26.2 618.2,31.6 618.3,39.2 618.4,35.5 618.5,32.4 618.6,31.4 618.6,28.9 618.7,29.5 618.8,29.6 618.9,28.7 619.0,26.9 619.0,25.4 619.1,28.1 619.2,30.8 619.3,31.6 619.4,31.6 619.4,30.7 619.5,29.4 619.6,27.5 619.7,26.4 619.7,29.1 619.8,31.7 619.9,32.4 620.0,32.1 620.1,31.4 620.1,31.1 620.2,31.6 620.3,30.7 620.4,29.0 620.5,30.7 620.5,30.5 620.6,27.8 620.7,25.7 620.8,25.3 620.9,27.0 620.9,29.2 621.0,31.6 621.1,35.3 621.2,36.9 621.3,35.6 621.3,32.9 621.4,30.2 621.5,28.4 621.6,27.8 621.7,28.2 621.7,29.2 621.8,28.8 621.9,27.8 622.0,30.2 622.0,31.6 622.1,29.1 622.2,25.8 622.3,27.3 622.4,28.9 622.4,29.4 622.5,30.6 622.6,31.7 622.7,32.2 622.8,32.3 622.8,32.5 622.9,33.3 623.0,34.5 623.1,34.1 623.2,32.6 623.2,33.8 623.3,34.0 623.4,32.4 623.5,30.6 623.6,29.0 623.6,27.8 623.7,25.5 623.8,23.7 623.9,27.8 624.0,31.7 624.0,33.3 624.1,34.0 624.2,34.2 624.3,34.0 624.3,38.5 624.4,43.9 624.5,37.3 624.6,31.3 624.7,29.9 624.7,29.1 624.8,29.2 624.9,30.0 625.0,31.2 625.1,32.4 625.1,33.3 625.2,35.5 625.3,37.5 625.4,33.9 625.5,30.2 625.5,28.8 625.6,28.3 625.7,29.2 625.8,30.8 625.9,30.7 625.9,29.4 626.0,31.4 626.1,32.5 626.2,31.8 626.3,31.3 626.3,32.9 626.4,34.9 626.5,32.9 626.6,31.1 626.6,34.4 626.7,38.5 626.8,34.2 626.9,30.8 627.0,30.7 627.0,30.5 627.1,30.2 627.2,30.0 627.3,33.2 627.4,37.6 627.4,34.8 627.5,32.6 627.6,33.1 627.7,33.4 627.8,33.7 627.8,34.2 627.9,34.6 628.0,34.1 628.1,30.8 628.2,26.4 628.2,25.9 628.3,26.5 628.4,27.4 628.5,29.6 628.6,31.9 628.6,31.2 628.7,28.8 628.8,30.8 628.9,32.1 628.9,31.4 629.0,30.9 629.1,30.7 629.2,30.6 629.3,29.8 629.3,28.7 629.4,29.5 629.5,29.8 629.6,29.1 629.7,28.9 629.7,29.2 629.8,29.8 629.9,31.1 630.0,32.0 630.1,29.8 630.1,28.1 630.2,28.0 630.3,28.4 630.4,28.6 630.5,28.6 630.5,28.5 630.6,29.0 630.7,30.3 630.8,30.8 630.9,30.4 630.9,31.2 631.0,30.9 631.1,29.6 631.2,29.8 631.2,31.0 631.3,29.9 631.4,29.2 631.5,31.0 631.6,33.2 631.6,32.4 631.7,32.3 631.8,33.6 631.9,36.4 632.0,38.7 632.0,35.1 632.1,31.5 632.2,30.5 632.3,30.3 632.4,30.8 632.4,31.5 632.5,32.1 632.6,33.9 632.7,35.6 632.8,32.7 632.8,30.1 632.9,29.4 633.0,29.4 633.1,29.9 633.2,30.6 633.2,30.8 633.3,30.3 633.4,25.8 633.5,20.6 633.5,25.3 633.6,29.9 633.7,31.3 633.8,31.5 633.9,30.9 633.9,32.1 634.0,32.2 634.1,30.5 634.2,29.0 634.3,28.3 634.3,28.8 634.4,30.2 634.5,31.8 634.6,37.0 634.7,42.1 634.7,35.8 634.8,30.6 634.9,30.5 635.0,31.2 635.1,30.9 635.1,30.0 635.2,31.1 635.3,31.5 635.4,30.7 635.5,30.0 635.5,29.6 635.6,29.7 635.7,30.3 635.8,31.1 635.8,30.3 635.9,28.3 636.0,28.0 636.1,27.8 636.2,29.2 636.2,32.2 636.3,32.2 636.4,32.2 636.5,32.8 636.6,32.6 636.6,32.3 636.7,32.2 636.8,35.2 636.9,38.6 637.0,33.9 637.0,29.8 637.1,29.4 637.2,29.7 637.3,31.0 637.4,32.6 637.4,36.3 637.5,39.6 637.6,36.1 637.7,32.2 637.8,30.1 637.8,28.7 637.9,28.2 638.0,25.7 638.1,23.2 638.1,28.8 638.2,33.2 638.3,33.6 638.4,33.2 638.5,32.5 638.5,31.8 638.6,31.5 638.7,31.5 638.8,31.6 638.9,31.8 638.9,33.9 639.0,36.4 639.1,34.0 639.2,31.7 639.3,31.3 639.3,32.7 639.4,34.9 639.5,33.9 639.6,33.5 639.7,34.4 639.7,34.7 639.8,34.3 639.9,33.3 640.0,32.2 640.1,31.1 640.1,31.4 640.2,32.4 640.3,30.9 640.4,30.0 640.4,30.5 640.5,33.4 640.6,36.4 640.7,32.7 640.8,29.6 640.8,29.4 640.9,29.9 641.0,30.9 641.1,31.9 641.2,35.9 641.2,39.9 641.3,34.7 641.4,30.1 641.5,29.1 641.6,28.2 641.6,27.4 641.7,26.9 641.8,27.1 641.9,28.0 642.0,29.0 642.0,29.6 642.1,28.4 642.2,26.9 642.3,28.3 642.4,30.4 642.4,31.9 642.5,33.1 642.6,33.5 642.7,31.4 642.7,28.2 642.8,28.5 642.9,28.7 643.0,28.0 643.1,27.9 643.1,28.2 643.2,28.9 643.3,29.9 643.4,31.4 643.5,32.9 643.5,33.8 643.6,35.0 643.7,35.6 643.8,33.4 643.9,31.8 643.9,30.6 644.0,29.3 644.1,30.1 644.2,30.4 644.3,30.1 644.3,30.3 644.4,31.4 644.5,33.0 644.6,37.3 644.7,41.4 644.7,38.2 644.8,34.2 644.9,31.8 645.0,29.4 645.0,30.7 645.1,34.2 645.2,32.0 645.3,31.0 645.4,32.7 645.4,30.7 645.5,27.0 645.6,29.7 645.7,31.8 645.8,31.3 645.8,31.0 645.9,30.9 646.0,31.0 646.1,31.2 646.2,31.4 646.2,31.1 646.3,28.8 646.4,25.9 646.5,27.3 646.6,29.5 646.6,32.5 646.7,36.1 646.8,35.9 646.9,34.5 647.0,35.2 647.0,36.1 647.1,32.9 647.2,31.0 647.3,31.7 647.3,32.5 647.4,33.0 647.5,33.4 647.6,33.5 647.7,33.4 647.7,32.9 647.8,33.5 647.9,34.5 648.0,32.7 648.1,31.6 648.1,31.8 648.2,31.7 648.3,30.9 648.4,29.8 648.5,27.8 648.5,26.4 648.6,28.5 648.7,31.2 648.8,32.9 648.9,33.9 648.9,33.8 649.0,32.7 649.1,31.0 649.2,27.4 649.3,23.8 649.3,25.8 649.4,28.1 649.5,28.7 649.6,27.8 649.6,26.4 649.7,28.2 649.8,29.7 649.9,30.0 650.0,30.4 650.0,30.8 650.1,31.0 650.2,31.0 650.3,29.3 650.4,27.4 650.4,29.5 650.5,31.5 650.6,32.0 650.7,33.8 650.8,35.8 650.8,33.9 650.9,32.1 651.0,31.6 651.1,30.8 651.2,28.3 651.2,25.7 651.3,27.7 651.4,30.0 651.5,31.1 651.6,31.8 651.6,31.6 651.7,30.5 651.8,29.0 651.9,28.0 651.9,28.0 652.0,29.2 652.1,34.4 652.2,40.1 652.3,36.9 652.3,33.5 652.4,32.8 652.5,31.6 652.6,30.2 652.7,28.7 652.7,27.2 652.8,27.4 652.9,28.5 653.0,27.1 653.1,26.6 653.1,31.5 653.2,37.8 653.3,35.2 653.4,33.2 653.5,34.2 653.5,36.1 653.6,37.7 653.7,34.3 653.8,31.5 653.9,31.1 653.9,34.4 654.0,38.6 654.1,34.4 654.2,31.1 654.2,31.5 654.3,32.0 654.4,32.2 654.5,31.9 654.6,31.3 654.6,28.1 654.7,24.9 654.8,28.9 654.9,32.3 655.0,32.7 655.0,32.4 655.1,35.7 655.2,39.8 655.3,34.6 655.4,30.4 655.4,30.0 655.5,29.8 655.6,29.7 655.7,28.5 655.8,26.9 655.8,28.3 655.9,29.4 656.0,29.1 656.1,29.2 656.2,29.4 656.2,29.7 656.3,29.9 656.4,29.9 656.5,30.2 656.5,33.3 656.6,37.4 656.7,35.2 656.8,33.2 656.9,33.0 656.9,32.4 657.0,31.5 657.1,30.6 657.2,29.9 657.3,29.5 657.3,29.5 657.4,31.7 657.5,34.6 657.6,33.4 657.7,32.4 657.7,32.4 657.8,31.8 657.9,27.5 658.0,22.7 658.1,27.1 658.1,30.8 658.2,30.9 658.3,31.0 658.4,31.3 658.5,31.6 658.5,31.9 658.6,31.9 658.7,31.9 658.8,32.0 658.8,33.8 658.9,36.2 659.0,34.7 659.1,33.2 659.2,32.9 659.2,36.2 659.3,40.3 659.4,35.3 659.5,31.5 659.6,32.2 659.6,33.1 659.7,33.8 659.8,33.8 659.9,31.4 660.0,28.3 660.0,29.2 660.1,30.3 660.2,30.2 660.3,30.1 660.4,29.7 660.4,31.9 660.5,35.3 660.6,33.6 660.7,33.1 660.8,34.8 660.8,35.5 660.9,34.9 661.0,34.7 661.1,34.9 661.1,32.9 661.2,31.8 661.3,32.2 661.4,32.2 661.5,31.8 661.5,31.2 661.6,30.5 661.7,29.9 661.8,29.4 661.9,29.4 661.9,27.9 662.0,26.3 662.1,30.1 662.2,33.3 662.3,33.8 662.3,33.8 662.4,33.2 662.5,33.7 662.6,34.3 662.7,31.3 662.7,29.4 662.8,30.2 662.9,31.8 663.0,33.7 663.1,33.9 663.1,32.9 663.2,34.0 663.3,34.0 663.4,32.2 663.4,30.6 663.5,28.7 663.6,27.2 663.7,28.5 663.8,29.6 663.8,29.8 663.9,29.8 664.0,29.9 664.1,30.1 664.2,30.5 664.2,29.6 664.3,28.4 664.4,30.2 664.5,31.3 664.6,30.9 664.6,30.3 664.7,29.9 664.8,28.6 664.9,27.2 665.0,28.5 665.0,29.5 665.1,29.2 665.2,29.1 665.3,30.5 665.4,32.2 665.4,30.4 665.5,29.2 665.6,30.0 665.7,31.0 665.7,31.6 665.8,31.4 665.9,30.4 666.0,29.1 666.1,28.3 666.1,28.3 666.2,30.7 666.3,33.7 666.4,32.5 666.5,31.0 666.5,30.6 666.6,30.1 666.7,28.5 666.8,26.9 666.9,28.5 666.9,29.7 667.0,29.7 667.1,27.6 667.2,25.3 667.3,28.3 667.3,30.8 667.4,34.1 667.5,37.5 667.6,32.9 667.7,28.8 667.7,28.4 667.8,28.9 667.9,30.2 668.0,27.8 668.0,24.3 668.1,30.3 668.2,34.9 668.3,34.7 668.4,33.9 668.4,32.7 668.5,31.5 668.6,31.1 668.7,31.5 668.8,32.2 668.8,32.8 668.9,31.0 669.0,28.2 669.1,29.6 669.2,30.8 669.2,30.6 669.3,30.9 669.4,31.4 669.5,31.5 669.6,31.1 669.6,30.3 669.7,30.7 669.8,31.8 669.9,30.6 670.0,30.1 670.0,30.9 670.1,31.4 670.2,31.6 670.3,31.8 670.3,32.0 670.4,32.3 670.5,32.4 670.6,33.8 670.7,35.3 670.7,32.4 670.8,30.3 670.9,30.8 671.0,31.8 671.1,32.9 671.1,33.5 671.2,33.4 671.3,32.6 671.4,33.4 671.5,34.7 671.5,31.8 671.6,29.7 671.7,29.9 671.8,30.2 671.9,30.2 671.9,30.2 672.0,30.2 672.1,30.3 672.2,32.5 672.3,35.3 672.3,33.6 672.4,32.4 672.5,29.0 672.6,24.5 672.6,28.9 672.7,32.4 672.8,32.2 672.9,32.1 673.0,32.3 673.0,32.5 673.1,32.6 673.2,34.4 673.3,36.7 673.4,35.0 673.4,33.3 673.5,32.4 673.6,30.6 673.7,28.4 673.8,26.6 673.8,22.3 673.9,18.6 674.0,24.4 674.1,29.8 674.2,31.3 674.2,31.7 674.3,30.7 674.4,28.8 674.5,27.0 674.6,29.1 674.6,33.2 674.7,31.1 674.8,29.9 674.9,31.3 674.9,31.8 675.0,31.5 675.1,30.9 675.2,30.3 675.3,29.9 675.3,32.2 675.4,35.1 675.5,32.6 675.6,30.7 675.7,31.0 675.7,31.2 675.8,29.8 675.9,28.2 676.0,29.9 676.1,31.3 676.1,30.8 676.2,29.7 676.3,28.2 676.4,27.0 676.5,25.3 676.5,24.6 676.6,28.5 676.7,32.1 676.8,33.6 676.9,32.6 676.9,30.5 677.0,31.6 677.1,32.2 677.2,31.1 677.2,30.1 677.3,29.7 677.4,30.2 677.5,31.5 677.6,33.1 677.6,34.0 677.7,33.5 677.8,31.7 677.9,29.2 678.0,27.1 678.0,26.3 678.1,27.3 678.2,29.6 678.3,32.3 678.4,34.4 678.4,35.3 678.5,34.9 678.6,33.7 678.7,32.2 678.8,30.8 678.8,29.6 678.9,28.6 679.0,27.7 679.1,27.2 679.2,27.3 679.2,28.2 679.3,29.7 679.4,31.4 679.5,32.8 679.5,33.8 679.6,34.5 679.7,34.9 679.8,35.0 679.9,34.9 679.9,34.7 680.0,34.5 680.1,34.2 680.2,33.7 680.3,33.0 680.3,31.7 680.4,29.9 680.5,28.1" stroke="#0000ff" stroke-width="0.9"/>
<polyline points="46.0,21.8 46.2,20.8 46.3,19.8 46.5,19.1 46.6,18.6 46.8,18.4 47.0,18.6 47.1,19.0 47.3,19.8 47.4,20.7 47.6,21.8 47.7,22.9 47.9,23.8 48.1,24.6 48.2,25.0 48.4,25.2 48.5,25.0 48.7,24.6 48.9,23.8 49.0,22.8 49.2,21.8 49.3,20.7 49.5,19.8 49.6,19.0 49.8,18.5 50.0,18.4 50.1,18.5 50.3,19.0 50.4,19.8 50.6,20.8 50.8,21.8 50.9,22.9 51.1,23.8 51.2,24.6 51.4,25.1 51.6,25.3 51.7,25.1 51.9,24.6 52.0,23.9 52.2,22.9 52.3,21.9 52.5,20.8 52.7,19.9 52.8,19.1 53.0,18.7 53.1,18.5 53.3,18.7 53.5,19.2 53.6,19.9 53.8,20.9 53.9,22.0 54.1,23.0 54.2,24.0 54.4,24.7 54.6,25.2 54.7,25.4 54.9,25.2 55.0,24.8 55.2,24.0 55.4,23.1 55.5,22.0 55.7,20.9 55.8,20.0 56.0,19.2 56.2,18.8 56.3,18.6 56.5,18.8 56.6,19.2 56.8,20.0 56.9,21.0 57.1,22.0 57.3,23.1 57.4,24.0 57.6,24.8 57.7,25.3 57.9,25.4 58.1,25.3 58.2,24.8 58.4,24.0 58.5,23.0 58.7,22.0 58.8,20.9 59.0,20.0 59.2,19.2 59.3,18.7 59.5,18.5 59.6,18.7 59.8,19.2 60.0,19.9 60.1,20.9 60.3,21.9 60.4,23.0 60.6,23.9 60.8,24.7 60.9,25.1 61.1,25.3 61.2,25.1 61.4,24.6 61.5,23.9 61.7,22.9 61.9,21.8 62.0,20.8 62.2,19.8 62.3,19.1 62.5,18.6 62.7,18.4 62.8,18.6 63.0,19.0 63.1,19.8 63.3,20.7 63.4,21.8 63.6,22.9 63.8,23.8 63.9,24.6 64.1,25.1 64.2,25.2 64.4,25.0 64.6,24.6 64.7,23.8 64.9,22.9 65.0,21.8 65.2,20.7 65.4,19.8 65.5,19.0 65.7,18.5 65.8,18.4 66.0,18.6 66.1,19.0 66.3,19.8 66.5,20.8 66.6,21.8 66.8,22.9 66.9,23.9 67.1,24.6 67.3,25.1 67.4,25.3 67.6,25.1 67.7,24.6 67.9,23.9 68.0,22.9 68.2,21.9 68.4,20.8 68.5,19.9 68.7,19.1 68.8,18.7 69.0,18.5 69.2,18.7 69.3,19.2 69.5,19.9 69.6,20.9 69.8,22.0 70.0,23.0 70.1,24.0 70.3,24.7 70.4,25.2 70.6,25.4 70.7,25.2 70.9,24.8 71.1,24.0 71.2,23.1 71.4,22.0 71.5,21.0 71.7,20.0 71.9,19.2 72.0,18.8 72.2,18.6 72.3,18.8 72.5,19.2 72.6,20.0 72.8,21.0 73.0,22.0 73.1,23.1 73.3,24.0 73.4,24.8 73.6,25.3 73.8,25.4 73.9,25.3 74.1,24.8 74.2,24.0 74.4,23.0 74.6,22.0 74.7,20.9 74.9,20.0 75.0,19.2 75.2,18.7 75.3,18.5 75.5,18.7 75.7,19.2 75.8,19.9 76.0,20.9 76.1,21.9 76.3,23.0 76.5,23.9 76.6,24.7 76.8,25.2 76.9,25.3 77.1,25.1 77.2,24.6 77.4,23.9 77.6,22.9 77.7,21.9 77.9,20.8 78.0,19.8 78.2,19.1 78.4,18.6 78.5,18.4 78.7,18.6 78.8,19.0 79.0,19.8 79.2,20.8 79.3,21.8 79.5,22.9 79.6,23.8 79.8,24.6 79.9,25.1 80.1,25.2 80.3,25.1 80.4,24.6 80.6,23.8 80.7,22.9 80.9,21.8 81.1,20.7 81.2,19.8 81.4,19.0 81.5,18.6 81.7,18.4 81.8,18.6 82.0,19.0 82.2,19.8 82.3,20.8 82.5,21.8 82.6,22.9 82.8,23.9 83.0,24.6 83.1,25.1 83.3,25.3 83.4,25.1 83.6,24.6 83.8,23.9 83.9,22.9 84.1,21.9 84.2,20.8 84.4,19.9 84.5,19.1 84.7,18.7 84.9,18.5 85.0,18.7 85.2,19.2 85.3,19.9 85.5,20.9 85.7,22.0 85.8,23.0 86.0,24.0 86.1,24.8 86.3,25.2 86.4,25.4 86.6,25.3 86.8,24.8 86.9,24.0 87.1,23.1 87.2,22.0 87.4,21.0 87.6,20.0 87.7,19.2 87.9,18.8 88.0,18.6 88.2,18.8 88.4,19.3 88.5,20.0 88.7,21.0 88.8,22.0 89.0,23.1 89.1,24.0 89.3,24.8 89.5,25.3 89.6,25.4 89.8,25.3 89.9,24.8 90.1,24.0 90.3,23.1 90.4,22.0 90.6,20.9 90.7,20.0 90.9,19.2 91.0,18.7 91.2,18.5 91.4,18.7 91.5,19.2 91.7,19.9 91.8,20.9 92.0,21.9 92.2,23.0 92.3,23.9 92.5,24.7 92.6,25.2 92.8,25.3 93.0,25.1 93.1,24.7 93.3,23.9 93.4,22.9 93.6,21.9 93.7,20.8 93.9,19.8 94.1,19.1 94.2,18.6 94.4,18.4 94.5,18.6 94.7,19.1 94.9,19.8 95.0,20.8 95.2,21.8 95.3,22.9 95.5,23.8 95.6,24.6 95.8,25.1 96.0,25.2 96.1,25.1 96.3,24.6 96.4,23.8 96.6,22.9 96.8,21.8 96.9,20.7 97.1,19.8 97.2,19.0 97.4,18.6 97.6,18.4 97.7,18.6 97.9,19.1 98.0,19.8 98.2,20.8 98.3,21.8 98.5,22.9 98.7,23.9 98.8,24.6 99.0,25.1 99.1,25.3 99.3,25.1 99.5,24.7 99.6,23.9 99.8,23.0 99.9,21.9 100.1,20.9 100.2,19.9 100.4,19.2 100.6,18.7 100.7,18.5 100.9,18.7 101.0,19.2 101.2,19.9 101.4,20.9 101.5,22.0 101.7,23.0 101.8,24.0 102.0,24.8 102.2,25.3 102.3,25.4 102.5,25.3 102.6,24.8 102.8,24.0 102.9,23.1 103.1,22.0 103.3,21.0 103.4,20.0 103.6,19.3 103.7,18.8 103.9,18.6 104.1,18.8 104.2,19.3 104.4,20.0 104.5,21.0 104.7,22.0 104.8,23.1 105.0,24.0 105.2,24.8 105.3,25.3 105.5,25.4 105.6,25.3 105.8,24.8 106.0,24.0 106.1,23.1 106.3,22.0 106.4,20.9 106.6,20.0 106.8,19.2 106.9,18.7 107.1,18.5 107.2,18.7 107.4,19.2 107.5,19.9 107.7,20.9 107.9,21.9 108.0,23.0 108.2,23.9 108.3,24.7 108.5,25.2 108.7,25.3 108.8,25.2 109.0,24.7 109.1,23.9 109.3,22.9 109.5,21.9 109.6,20.8 109.8,19.8 109.9,19.1 110.1,18.6 110.2,18.4 110.4,18.6 110.6,19.1 110.7,19.8 110.9,20.8 111.0,21.8 111.2,22.9 111.4,23.8 111.5,24.6 111.7,25.1 111.8,25.2 112.0,25.1 112.1,24.6 112.3,23.8 112.5,22.9 112.6,21.8 112.8,20.8 112.9,19.8 113.1,19.0 113.3,18.6 113.4,18.4 113.6,18.6 113.7,19.1 113.9,19.8 114.1,20.8 114.2,21.8 114.4,22.9 114.5,23.9 114.7,24.6 114.8,25.1 115.0,25.3 115.2,25.1 115.3,24.7 115.5,23.9 115.6,23.0 115.8,21.9 116.0,20.9 116.1,19.9 116.3,19.2 116.4,18.7 116.6,18.5 116.7,18.7 116.9,19.2 117.1,20.0 117.2,20.9 117.4,22.0 117.5,23.0 117.7,24.0 117.9,24.8 118.0,25.3 118.2,25.4 118.3,25.3 118.5,24.8 118.7,24.0 118.8,23.1 119.0,22.0 119.1,21.0 119.3,20.0 119.4,19.3 119.6,18.8 119.8,18.6 119.9,18.8 120.1,19.3 120.2,20.0 120.4,21.0 120.6,22.0 120.7,23.1 120.9,24.0 121.0,24.8 121.2,25.3 121.3,25.4 121.5,25.3 121.7,24.8 121.8,24.0 122.0,23.1 122.1,22.0 122.3,20.9 122.5,20.0 122.6,19.2 122.8,18.7 122.9,18.5 123.1,18.7 123.3,19.2 123.4,19.9 123.6,20.9 123.7,21.9 123.9,23.0 124.0,23.9 124.2,24.7 124.4,25.2 124.5,25.3 124.7,25.2 124.8,24.7 125.0,23.9 125.2,22.9 125.3,21.9 125.5,20.8 125.6,19.8 125.8,19.1 125.9,18.6 126.1,18.4 126.3,18.6 126.4,19.1 126.6,19.8 126.7,20.8 126.9,21.8 127.1,22.9 127.2,23.8 127.4,24.6 127.5,25.1 127.7,25.2 127.9,25.1 128.0,24.6 128.2,23.8 128.3,22.9 128.5,21.8 128.6,20.8 128.8,19.8 129.0,19.1 129.1,18.6 129.3,18.4 129.4,18.6 129.6,19.1 129.8,19.8 129.9,20.8 130.1,21.9 130.2,22.9 130.4,23.9 130.5,24.6 130.7,25.1 130.9,25.3 131.0,25.1 131.2,24.7 131.3,23.9 131.5,23.0 131.7,21.9 131.8,20.9 132.0,19.9 132.1,19.2 132.3,18.7 132.5,18.5 132.6,18.7 132.8,19.2 132.9,20.0 133.1,20.9 133.2,22.0 133.4,23.0 133.6,24.0 133.7,24.8 133.9,25.3 134.0,25.4 134.2,25.3 134.4,24.8 134.5,24.0 134.7,23.1 134.8,22.0 135.0,21.0 135.1,20.0 135.3,19.3 135.5,18.8 135.6,18.6 135.8,18.8 135.9,19.3 136.1,20.0 136.3,21.0 136.4,22.0 136.6,23.1 136.7,24.1 136.9,24.8 137.1,25.3 137.2,25.5 137.4,25.3 137.5,24.8 137.7,24.0 137.8,23.1 138.0,22.0 138.2,20.9 138.3,20.0 138.5,19.2 138.6,18.7 138.8,18.6 139.0,18.7 139.1,19.2 139.3,19.9 139.4,20.9 139.6,21.9 139.7,23.0 139.9,23.9 140.1,24.7 140.2,25.2 140.4,25.3 140.5,25.2 140.7,24.7 140.9,23.9 141.0,22.9 141.2,21.9 141.3,20.8 141.5,19.9 141.7,19.1 141.8,18.6 142.0,18.4 142.1,18.6 142.3,19.1 142.4,19.8 142.6,20.8 142.8,21.8 142.9,22.9 143.1,23.8 143.2,24.6 143.4,25.1 143.6,25.2 143.7,25.1 143.9,24.6 144.0,23.8 144.2,22.9 144.3,21.8 144.5,20.8 144.7,19.8 144.8,19.1 145.0,18.6 145.1,18.4 145.3,18.6 145.5,19.1 145.6,19.8 145.8,20.8 145.9,21.9 146.1,22.9 146.3,23.9 146.4,24.6 146.6,25.1 146.7,25.3 146.9,25.2 147.0,24.7 147.2,23.9 147.4,23.0 147.5,21.9 147.7,20.9 147.8,19.9 148.0,19.2 148.2,18.7 148.3,18.5 148.5,18.7 148.6,19.2 148.8,20.0 148.9,20.9 149.1,22.0 149.3,23.1 149.4,24.0 149.6,24.8 149.7,25.3 149.9,25.4 150.1,25.3 150.2,24.8 150.4,24.0 150.5,23.1 150.7,22.0 150.9,21.0 151.0,20.0 151.2,19.3 151.3,18.8 151.5,18.6 151.6,18.8 151.8,19.3 152.0,20.0 152.1,21.0 152.3,22.0 152.4,23.1 152.6,24.1 152.8,24.8 152.9,25.3 153.1,25.5 153.2,25.3 153.4,24.8 153.5,24.0 153.7,23.1 153.9,22.0 154.0,21.0 154.2,20.0 154.3,19.2 154.5,18.7 154.7,18.6 154.8,18.7 155.0,19.2 155.1,20.0 155.3,20.9 155.5,22.0 155.6,23.0 155.8,24.0 155.9,24.7 156.1,25.2 156.2,25.3 156.4,25.2 156.6,24.7 156.7,23.9 156.9,23.0 157.0,21.9 157.2,20.8 157.4,19.9 157.5,19.1 157.7,18.6 157.8,18.4 158.0,18.6 158.1,19.1 158.3,19.8 158.5,20.8 158.6,21.8 158.8,22.9 158.9,23.8 159.1,24.6 159.3,25.1 159.4,25.3 159.6,25.1 159.7,24.6 159.9,23.8 160.1,22.9 160.2,21.8 160.4,20.8 160.5,19.8 160.7,19.1 160.8,18.6 161.0,18.4 161.2,18.6 161.3,19.1 161.5,19.8 161.6,20.8 161.8,21.9 162.0,22.9 162.1,23.9 162.3,24.7 162.4,25.1 162.6,25.3 162.7,25.2 162.9,24.7 163.1,23.9 163.2,23.0 163.4,21.9 163.5,20.9 163.7,19.9 163.9,19.2 164.0,18.7 164.2,18.5 164.3,18.7 164.5,19.2 164.7,20.0 164.8,20.9 165.0,22.0 165.1,23.1 165.3,24.0 165.4,24.8 165.6,25.3 165.8,25.5 165.9,25.3 166.1,24.8 166.2,24.1 166.4,23.1 166.6,22.0 166.7,21.0 166.9,20.0 167.0,19.3 167.2,18.8 167.3,18.6 167.5,18.8 167.7,19.3 167.8,20.0 168.0,21.0 168.1,22.1 168.3,23.1 168.5,24.1 168.6,24.8 168.8,25.3 168.9,25.5 169.1,25.3 169.3,24.8 169.4,24.0 169.6,23.1 169.7,22.0 169.9,21.0 170.0,20.0 170.2,19.2 170.4,18.7 170.5,18.6 170.7,18.7 170.8,19.2 171.0,20.0 171.2,20.9 171.3,22.0 171.5,23.0 171.6,24.0 171.8,24.7 171.9,25.2 172.1,25.4 172.3,25.2 172.4,24.7 172.6,23.9 172.7,23.0 172.9,21.9 173.1,20.8 173.2,19.9 173.4,19.1 173.5,18.6 173.7,18.4 173.9,18.6 174.0,19.1 174.2,19.8 174.3,20.8 174.5,21.8 174.6,22.9 174.8,23.9 175.0,24.6 175.1,25.1 175.3,25.3 175.4,25.1 175.6,24.6 175.8,23.8 175.9,22.9 176.1,21.8 176.2,20.8 176.4,19.8 176.5,19.1 176.7,18.6 176.9,18.4 177.0,18.6 177.2,19.1 177.3,19.8 177.5,20.8 177.7,21.9 177.8,22.9 178.0,23.9 178.1,24.7 178.3,25.2 178.5,25.3 178.6,25.2 178.8,24.7 178.9,23.9 179.1,23.0 179.2,21.9 179.4,20.9 179.6,19.9 179.7,19.2 179.9,18.7 180.0,18.5 180.2,18.7 180.4,19.2 180.5,20.0 180.7,20.9 180.8,22.0 181.0,23.1 181.1,24.0 181.3,24.8 181.5,25.3 181.6,25.5 181.8,25.3 181.9,24.8 182.1,24.1 182.3,23.1 182.4,22.1 182.6,21.0 182.7,20.0 182.9,19.3 183.1,18.8 183.2,18.6 183.4,18.8 183.5,19.3 183.7,20.0 183.8,21.0 184.0,22.1 184.2,23.1 184.3,24.1 184.5,24.8 184.6,25.3 184.8,25.5 185.0,25.3 185.1,24.8 185.3,24.1 185.4,23.1 185.6,22.0 185.7,21.0 185.9,20.0 186.1,19.2 186.2,18.7 186.4,18.6 186.5,18.7 186.7,19.2 186.9,20.0 187.0,20.9 187.2,22.0 187.3,23.0 187.5,24.0 187.7,24.7 187.8,25.2 188.0,25.4 188.1,25.2 188.3,24.7 188.4,23.9 188.6,23.0 188.8,21.9 188.9,20.8 189.1,19.9 189.2,19.1 189.4,18.6 189.6,18.4 189.7,18.6 189.9,19.1 190.0,19.8 190.2,20.8 190.3,21.9 190.5,22.9 190.7,23.9 190.8,24.6 191.0,25.1 191.1,25.3 191.3,25.1 191.5,24.6 191.6,23.9 191.8,22.9 191.9,21.8 192.1,20.8 192.3,19.8 192.4,19.1 192.6,18.6 192.7,18.4 192.9,18.6 193.0,19.1 193.2,19.9 193.4,20.8 193.5,21.9 193.7,22.9 193.8,23.9 194.0,24.7 194.2,25.2 194.3,25.3 194.5,25.2 194.6,24.7 194.8,23.9 194.9,23.0 195.1,21.9 195.3,20.9 195.4,19.9 195.6,19.2 195.7,18.7 195.9,18.6 196.1,18.7 196.2,19.2 196.4,20.0 196.5,20.9 196.7,22.0 196.9,23.1 197.0,24.0 197.2,24.8 197.3,25.3 197.5,25.5 197.6,25.3 197.8,24.8 198.0,24.1 198.1,23.1 198.3,22.1 198.4,21.0 198.6,20.0 198.8,19.3 198.9,18.8 199.1,18.6 199.2,18.8 199.4,19.3 199.5,20.1 199.7,21.0 199.9,22.1 200.0,23.1 200.2,24.1 200.3,24.8 200.5,25.3 200.7,25.5 200.8,25.3 201.0,24.8 201.1,24.0 201.3,23.1 201.5,22.0 201.6,21.0 201.8,20.0 201.9,19.3 202.1,18.8 202.2,18.6 202.4,18.8 202.6,19.3 202.7,20.0 202.9,21.0 203.0,22.0 203.2,22.9 203.4,23.6 203.5,24.0 203.7,24.2 203.8,24.1 204.0,23.8 204.1,23.4 204.3,22.8 204.5,22.3 204.6,80.2 204.8,79.5 204.9,78.8 205.1,78.0 205.3,76.8 205.4,75.9 205.6,74.9 205.7,74.0 205.9,73.1 206.1,72.1 206.2,71.0 206.4,70.0 206.5,69.0 206.7,67.9 206.8,66.9 207.0,65.9 207.2,64.8 207.3,63.8 207.5,62.7 207.6,61.7 207.8,60.6 208.0,59.6 208.1,58.4 208.3,57.2 208.4,55.9 208.6,54.6 208.7,53.4 208.9,52.3 209.1,51.3 209.2,50.5 209.4,49.8 209.5,49.1 209.7,48.5 209.9,47.9 210.0,47.1 210.2,46.2 210.3,45.1 210.5,43.7 210.7,42.0 210.8,40.2 211.0,38.1 211.1,36.1 211.3,34.2 211.4,32.7 211.6,31.5 211.8,30.6 211.9,30.2 212.1,30.2 212.2,30.5 212.4,31.0 212.6,31.5 212.7,32.1 212.9,32.5 213.0,32.8 213.2,32.9 213.3,32.8 213.5,32.3 213.7,31.6 213.8,30.7 214.0,29.6 214.1,28.5 214.3,27.4 214.5,26.4 214.6,25.5 214.8,24.9 214.9,24.6 215.1,24.6 215.3,24.8 215.4,25.3 215.6,26.0 215.7,26.8 215.9,27.6 216.0,28.2 216.2,28.7 216.4,29.0 216.5,29.0 216.7,28.6 216.8,28.0 217.0,27.2 217.2,26.2 217.3,25.1 217.5,24.0 217.6,23.0 217.8,22.2 217.9,21.6 218.1,21.4 218.3,21.4 218.4,21.7 218.6,22.3 218.7,23.0 218.9,23.9 219.1,24.7 219.2,25.4 219.4,26.0 219.5,26.3 219.7,26.3 219.9,26.1 220.0,25.5 220.2,24.8 220.3,23.8 220.5,22.7 220.6,21.6 220.8,20.7 221.0,19.9 221.1,19.3 221.3,19.0 221.4,19.1 221.6,19.4 221.8,20.0 221.9,20.8 222.1,21.7 222.2,22.6 222.4,23.5 222.5,24.1 222.7,24.6 222.9,24.7 223.0,24.5 223.2,24.0 223.3,23.3 223.5,22.4 223.7,21.4 223.8,20.3 224.0,19.4 224.1,18.6 224.3,18.1 224.5,17.9 224.6,18.1 224.8,18.5 224.9,19.2 225.1,20.1 225.2,21.1 225.4,22.1 225.6,23.0 225.7,23.7 225.9,24.2 226.0,24.3 226.2,24.1 226.4,23.7 226.5,22.9 226.7,21.9 226.8,20.9 227.0,19.8 227.1,18.8 227.3,18.0 227.5,17.5 227.6,17.3 227.8,17.5 227.9,17.9 228.1,18.7 228.3,19.6 228.4,20.6 228.6,21.7 228.7,22.6 228.9,23.3 229.1,23.8 229.2,24.0 229.4,23.8 229.5,23.3 229.7,22.5 229.8,21.5 230.0,20.4 230.2,19.3 230.3,18.4 230.5,17.6 230.6,17.1 230.8,16.9 231.0,17.1 231.1,17.5 231.3,18.3 231.4,19.2 231.6,20.2 231.7,21.3 231.9,22.2 232.1,23.0 232.2,23.4 232.4,23.6 232.5,23.4 232.7,22.9 232.9,22.1 233.0,21.1 233.2,20.0 233.3,19.0 233.5,18.0 233.7,17.2 233.8,16.7 234.0,16.5 234.1,16.7 234.3,17.1 234.4,17.9 234.6,18.8 234.8,19.8 234.9,20.9 235.1,21.8 235.2,22.5 235.4,23.0 235.6,23.1 235.7,22.9 235.9,22.4 236.0,21.6 236.2,20.7 236.3,19.6 236.5,18.5 236.7,17.5 236.8,16.7 237.0,16.2 237.1,16.0 237.3,16.2 237.5,16.6 237.6,17.4 237.8,18.3 237.9,19.4 238.1,20.4 238.3,21.3 238.4,22.1 238.6,22.5 238.7,22.7 238.9,22.5 239.0,22.0 239.2,21.2 239.4,20.3 239.5,19.2 239.7,18.1 239.8,17.2 240.0,16.4 240.2,15.9 240.3,15.7 240.5,15.9 240.6,16.4 240.8,17.1 241.0,18.0 241.1,19.1 241.3,20.2 241.4,21.1 241.6,21.9 241.7,22.3 241.9,22.5 242.1,22.3 242.2,21.8 242.4,21.1 242.5,20.1 242.7,19.1 242.9,18.0 243.0,17.0 243.2,16.3 243.3,15.8 243.5,15.6 243.6,15.8 243.8,16.3 244.0,17.0 244.1,18.0 244.3,19.0 244.4,20.1 244.6,21.0 244.8,21.8 244.9,22.3 245.1,22.4 245.2,22.3 245.4,21.8 245.6,21.0 245.7,20.0 245.9,19.0 246.0,17.9 246.2,16.9 246.3,16.2 246.5,15.7 246.7,15.5 246.8,15.6 247.0,16.1 247.1,16.9 247.3,17.8 247.5,18.9 247.6,19.9 247.8,20.9 247.9,21.6 248.1,22.1 248.2,22.3 248.4,22.1 248.6,21.7 248.7,20.9 248.9,20.0 249.0,18.9 249.2,17.9 249.4,16.9 249.5,16.2 249.7,15.7 249.8,15.5 250.0,15.7 250.2,16.2 250.3,17.0 250.5,17.9 250.6,19.0 250.8,20.1 250.9,21.0 251.1,21.8 251.3,22.3 251.4,22.5 251.6,22.3 251.7,21.8 251.9,21.1 252.1,20.1 252.2,19.1 252.4,18.0 252.5,17.1 252.7,16.3 252.8,15.8 253.0,15.7 253.2,15.9 253.3,16.3 253.5,17.1 253.6,18.1 253.8,19.2 254.0,20.2 254.1,21.2 254.3,22.0 254.4,22.5 254.6,22.7 254.8,22.6 254.9,22.2 255.1,21.5 255.2,20.5 255.4,19.5 255.5,18.5 255.7,17.6 255.9,16.9 256.0,16.5 256.2,16.3 256.3,16.5 256.5,17.1 256.7,17.9 256.8,18.9 257.0,20.0 257.1,21.1 257.3,22.1 257.4,22.9 257.6,23.5 257.8,23.7 257.9,23.6 258.1,23.1 258.2,22.4 258.4,21.5 258.6,20.5 258.7,19.5 258.9,18.6 259.0,17.9 259.2,17.5 259.4,17.4 259.5,17.6 259.7,18.1 259.8,18.9 260.0,19.9 260.1,21.0 260.3,22.2 260.5,23.2 260.6,24.0 260.8,24.5 260.9,24.7 261.1,24.6 261.3,24.1 261.4,23.4 261.6,22.5 261.7,21.5 261.9,20.5 262.0,19.5 262.2,18.8 262.4,18.4 262.5,18.2 262.7,18.4 262.8,19.0 263.0,19.8 263.2,20.8 263.3,21.8 263.5,22.9 263.6,23.9 263.8,24.7 264.0,25.2 264.1,25.4 264.3,25.3 264.4,24.8 264.6,24.1 264.7,23.2 264.9,22.1 265.1,21.1 265.2,20.2 265.4,19.5 265.5,19.0 265.7,18.9 265.9,19.0 266.0,19.6 266.2,20.3 266.3,21.3 266.5,22.4 266.6,23.4 266.8,24.4 267.0,25.2 267.1,25.6 267.3,25.8 267.4,25.6 267.6,25.1 267.8,24.3 267.9,23.4 268.1,22.3 268.2,21.2 268.4,20.2 268.6,19.5 268.7,19.0 268.9,18.8 269.0,18.9 269.2,19.4 269.3,20.1 269.5,21.1 269.7,22.1 269.8,23.2 270.0,24.1 270.1,24.9 270.3,25.3 270.5,25.5 270.6,25.3 270.8,24.8 270.9,24.1 271.1,23.1 271.2,22.0 271.4,21.0 271.6,20.0 271.7,19.2 271.9,18.8 272.0,18.6 272.2,18.8 272.4,19.2 272.5,20.0 272.7,20.9 272.8,22.0 273.0,23.1 273.2,24.0 273.3,24.8 273.5,25.3 273.6,25.4 273.8,25.3 273.9,24.8 274.1,24.0 274.3,23.1 274.4,22.0 274.6,21.0 274.7,20.0 274.9,19.3 275.1,18.8 275.2,18.6 275.4,18.8 275.5,19.3 275.7,20.0 275.8,21.0 276.0,22.1 276.2,23.1 276.3,24.1 276.5,24.8 276.6,25.3 276.8,25.5 277.0,25.3 277.1,24.8 277.3,24.1 277.4,23.1 277.6,22.1 277.8,21.0 277.9,20.1 278.1,19.3 278.2,18.8 278.4,18.6 278.5,18.8 278.7,19.3 278.9,20.1 279.0,21.0 279.2,22.1 279.3,23.1 279.5,24.1 279.7,24.8 279.8,25.3 280.0,25.4 280.1,25.3 280.3,24.8 280.4,24.0 280.6,23.0 280.8,22.0 280.9,20.9 281.1,19.9 281.2,19.2 281.4,18.7 281.6,18.5 281.7,18.6 281.9,19.1 282.0,19.8 282.2,20.8 282.4,21.8 282.5,22.9 282.7,23.8 282.8,24.6 283.0,25.0 283.1,25.2 283.3,25.0 283.5,24.5 283.6,23.7 283.8,22.8 283.9,21.7 284.1,20.6 284.3,19.6 284.4,18.9 284.6,18.4 284.7,18.2 284.9,18.4 285.0,18.8 285.2,19.6 285.4,20.5 285.5,21.6 285.7,22.6 285.8,23.6 286.0,24.3 286.2,24.8 286.3,25.0 286.5,24.8 286.6,24.3 286.8,23.5 287.0,22.6 287.1,21.5 287.3,20.5 287.4,19.5 287.6,18.7 287.7,18.3 287.9,18.1 288.1,18.3 288.2,18.8 288.4,19.5 288.5,20.5 288.7,21.5 288.9,22.6 289.0,23.6 289.2,24.3 289.3,24.8 289.5,25.0 289.6,24.9 289.8,24.4 290.0,23.6 290.1,22.7 290.3,21.6 290.4,20.6 290.6,19.7 290.8,18.9 290.9,18.4 291.1,18.3 291.2,18.5 291.4,19.0 291.6,19.7 291.7,20.7 291.9,21.8 292.0,22.9 292.2,23.8 292.3,24.6 292.5,25.1 292.7,25.3 292.8,25.1 293.0,24.6 293.1,23.9 293.3,22.9 293.5,21.9 293.6,20.8 293.8,19.9 293.9,19.1 294.1,18.6 294.2,18.5 294.4,18.7 294.6,19.1 294.7,19.9 294.9,20.9 295.0,21.9 295.2,23.0 295.4,23.9 295.5,24.7 295.7,25.2 295.8,25.3 296.0,25.2 296.2,24.7 296.3,23.9 296.5,23.0 296.6,21.9 296.8,20.8 296.9,19.9 297.1,19.1 297.3,18.6 297.4,18.4 297.6,18.6 297.7,19.1 297.9,19.8 298.1,20.8 298.2,21.8 298.4,22.9 298.5,23.8 298.7,24.6 298.8,25.1 299.0,25.2 299.2,25.0 299.3,24.5 299.5,23.8 299.6,22.8 299.8,21.8 300.0,20.7 300.1,19.7 300.3,19.0 300.4,18.5 300.6,18.3 300.8,18.5 300.9,18.9 301.1,19.7 301.2,20.7 301.4,21.7 301.5,22.8 301.7,23.7 301.9,24.5 302.0,25.0 302.2,25.1 302.3,25.0 302.5,24.5 302.7,23.7 302.8,22.8 303.0,21.7 303.1,20.7 303.3,19.7 303.4,19.0 303.6,18.5 303.8,18.3 303.9,18.5 304.1,19.0 304.2,19.8 304.4,20.7 304.6,21.8 304.7,22.9 304.9,23.8 305.0,24.6 305.2,25.1 305.4,25.3 305.5,25.1 305.7,24.7 305.8,23.9 306.0,23.0 306.1,21.9 306.3,20.9 306.5,19.9 306.6,19.2 306.8,18.7 306.9,18.6 307.1,18.7 307.3,19.2 307.4,20.0 307.6,21.0 307.7,22.1 307.9,23.1 308.0,24.1 308.2,24.9 308.4,25.4 308.5,25.5 308.7,25.4 308.8,24.9 309.0,24.2 309.2,23.2 309.3,22.2 309.5,21.1 309.6,20.2 309.8,19.4 310.0,18.9 310.1,18.8 310.3,18.9 310.4,19.4 310.6,20.2 310.7,21.1 310.9,22.2 311.1,23.3 311.2,24.2 311.4,25.0 311.5,25.5 311.7,25.6 311.9,25.4 312.0,25.0 312.2,24.2 312.3,23.2 312.5,22.2 312.6,21.1 312.8,20.1 313.0,19.4 313.1,18.9 313.3,18.7 313.4,18.9 313.6,19.4 313.8,20.1 313.9,21.1 314.1,22.1 314.2,23.2 314.4,24.1 314.6,24.9 314.7,25.3 314.9,25.5 315.0,25.3 315.2,24.8 315.3,24.1 315.5,23.1 315.7,22.0 315.8,21.0 316.0,20.0 316.1,19.2 316.3,18.7 316.5,18.6 316.6,18.7 316.8,19.2 316.9,20.0 317.1,20.9 317.2,22.0 317.4,23.0 317.6,24.0 317.7,24.7 317.9,25.2 318.0,25.4 318.2,25.2 318.4,24.7 318.5,24.0 318.7,23.0 318.8,21.9 319.0,20.9 319.2,19.9 319.3,19.2 319.5,18.7 319.6,18.5 319.8,18.7 319.9,19.2 320.1,20.0 320.3,20.9 320.4,22.0 320.6,23.1 320.7,24.0 320.9,24.8 321.1,25.3 321.2,25.5 321.4,25.3 321.5,24.8 321.7,24.1 321.8,23.1 322.0,22.1 322.2,21.0 322.3,20.1 322.5,19.4 322.6,18.9 322.8,18.7 323.0,18.9 323.1,19.4 323.3,20.2 323.4,21.1 323.6,22.2 323.8,23.3 323.9,24.2 324.1,25.0 324.2,25.5 324.4,25.7 324.5,25.5 324.7,25.0 324.9,24.3 325.0,23.3 325.2,22.3 325.3,21.2 325.5,20.3 325.7,19.5 325.8,19.0 326.0,18.9 326.1,19.0 326.3,19.5 326.4,20.3 326.6,21.2 326.8,22.3 326.9,23.3 327.1,24.3 327.2,25.0 327.4,25.5 327.6,25.7 327.7,25.5 327.9,25.0 328.0,24.3 328.2,23.3 328.4,22.2 328.5,21.2 328.7,20.2 328.8,19.4 329.0,18.9 329.1,18.8 329.3,18.9 329.5,19.4 329.6,20.1 329.8,21.1 329.9,22.1 330.1,23.2 330.3,24.1 330.4,24.9 330.6,25.4 330.7,25.5 330.9,25.3 331.0,24.8 331.2,24.1 331.4,23.1 331.5,22.0 331.7,21.0 331.8,20.0 332.0,19.2 332.2,18.7 332.3,18.6 332.5,18.7 332.6,19.2 332.8,20.0 333.0,20.9 333.1,22.0 333.3,23.0 333.4,24.0 333.6,24.7 333.7,25.2 333.9,25.4 334.1,25.2 334.2,24.7 334.4,24.0 334.5,23.0 334.7,21.9 334.9,20.9 335.0,19.9 335.2,19.2 335.3,18.7 335.5,18.5 335.6,18.7 335.8,19.2 336.0,20.0 336.1,20.9 336.3,22.0 336.4,23.1 336.6,24.0 336.8,24.8 336.9,25.3 337.1,25.5 337.2,25.3 337.4,24.8 337.6,24.1 337.7,23.1 337.9,22.1 338.0,21.0 338.2,20.1 338.3,19.4 338.5,18.9 338.7,18.7 338.8,18.9 339.0,19.4 339.1,20.2 339.3,21.1 339.5,22.2 339.6,23.3 339.8,24.2 339.9,25.0 340.1,25.5 340.2,25.7 340.4,25.5 340.6,25.0 340.7,24.3 340.9,23.3 341.0,22.3 341.2,21.2 341.4,20.3 341.5,19.5 341.7,19.0 341.8,18.9 342.0,19.0 342.2,19.5 342.3,20.3 342.5,21.2 342.6,22.3 342.8,23.3 342.9,24.3 343.1,25.0 343.3,25.5 343.4,25.7 343.6,25.5 343.7,25.0 343.9,24.3 344.1,23.3 344.2,22.2 344.4,21.2 344.5,20.2 344.7,19.4 344.8,18.9 345.0,18.8 345.2,18.9 345.3,19.4 345.5,20.1 345.6,21.1 345.8,22.1 346.0,23.2 346.1,24.1 346.3,24.9 346.4,25.4 346.6,25.5 346.8,25.3 346.9,24.8 347.1,24.1 347.2,23.1 347.4,22.0 347.5,21.0 347.7,20.0 347.9,19.2 348.0,18.7 348.2,18.6 348.3,18.7 348.5,19.2 348.7,20.0 348.8,20.9 349.0,22.0 349.1,23.0 349.3,24.0 349.4,24.7 349.6,25.2 349.8,25.4 349.9,25.2 350.1,24.7 350.2,24.0 350.4,23.0 350.6,21.9 350.7,20.9 350.9,19.9 351.0,19.2 351.2,18.7 351.4,18.5 351.5,18.7 351.7,19.2 351.8,20.0 352.0,20.9 352.1,22.0 352.3,23.1 352.5,24.0 352.6,24.8 352.8,25.3 352.9,25.5 353.1,25.3 353.3,24.8 353.4,24.1 353.6,23.1 353.7,22.1 353.9,21.0 354.0,20.1 354.2,19.4 354.4,18.9 354.5,18.7 354.7,18.9 354.8,19.4 355.0,20.2 355.2,21.1 355.3,22.2 355.5,23.3 355.6,24.2 355.8,25.0 356.0,25.5 356.1,25.7 356.3,25.5 356.4,25.0 356.6,24.3 356.7,23.3 356.9,22.3 357.1,21.2 357.2,20.3 357.4,19.5 357.5,19.0 357.7,18.9 357.9,19.0 358.0,19.5 358.2,20.3 358.3,21.2 358.5,22.3 358.6,23.3 358.8,24.3 359.0,25.0 359.1,25.5 359.3,25.7 359.4,25.5 359.6,25.0 359.8,24.2 359.9,23.3 360.1,22.2 360.2,21.2 360.4,20.2 360.6,19.5 360.7,19.0 360.9,18.8 361.0,19.0 361.2,19.5 361.3,20.2 361.5,21.1 361.7,22.1 361.8,23.1 362.0,24.1 362.1,24.8 362.3,25.2 362.5,25.4 362.6,25.2 362.8,25.1 362.9,28.3 363.1,31.3 363.2,34.2 363.4,59.7 363.6,58.8 363.7,58.1 363.9,57.0 364.0,56.5 364.2,56.3 364.4,56.3 364.5,56.6 364.7,57.1 364.8,57.6 365.0,58.2 365.2,58.6 365.3,58.9 365.5,58.9 365.6,58.6 365.8,58.1 365.9,57.2 366.1,56.1 366.3,54.8 366.4,53.4 366.6,52.0 366.7,50.7 366.9,49.6 367.1,48.8 367.2,48.2 367.4,47.9 367.5,47.9 367.7,48.2 367.9,48.6 368.0,49.1 368.2,49.6 368.3,50.0 368.5,50.3 368.6,50.3 368.8,50.0 369.0,49.4 369.1,48.6 369.3,47.5 369.4,46.2 369.6,44.8 369.8,43.5 369.9,42.2 370.1,41.1 370.2,40.2 370.4,39.6 370.5,39.4 370.7,39.4 370.9,39.6 371.0,40.0 371.2,40.6 371.3,41.1 371.5,41.5 371.7,41.8 371.8,41.9 372.0,41.6 372.1,41.1 372.3,40.2 372.5,39.2 372.6,37.9 372.8,36.6 372.9,35.3 373.1,34.0 373.2,33.0 373.4,32.1 373.6,31.6 373.7,31.3 373.9,31.4 374.0,31.7 374.2,32.1 374.4,32.7 374.5,33.2 374.7,33.7 374.8,34.0 375.0,34.0 375.1,33.8 375.3,33.2 375.5,32.4 375.6,31.4 375.8,30.1 375.9,28.8 376.1,27.4 376.3,26.2 376.4,25.1 376.6,24.3 376.7,23.8 376.9,23.5 377.1,23.6 377.2,23.9 377.4,24.3 377.5,24.9 377.7,25.4 377.8,25.9 378.0,26.2 378.2,26.3 378.3,26.1 378.5,25.6 378.6,24.8 378.8,23.8 379.0,22.7 379.1,21.4 379.3,20.2 379.4,19.0 379.6,18.1 379.7,17.4 379.9,17.0 380.1,17.0 380.2,17.3 380.4,17.8 380.5,18.6 380.7,19.5 380.9,20.3 381.0,21.1 381.2,21.8 381.3,22.2 381.5,22.3 381.7,22.1 381.8,21.6 382.0,20.9 382.1,20.0 382.3,19.0 382.4,18.0 382.6,17.1 382.8,16.4 382.9,16.0 383.1,15.9 383.2,16.1 383.4,16.7 383.6,17.5 383.7,18.5 383.9,19.6 384.0,20.8 384.2,21.8 384.3,22.7 384.5,23.3 384.7,23.6 384.8,23.5 385.0,23.2 385.1,22.5 385.3,21.7 385.5,20.8 385.6,19.8 385.8,19.0 385.9,18.4 386.1,18.0 386.3,17.9 386.4,18.2 386.6,18.8 386.7,19.7 386.9,20.7 387.0,21.9 387.2,23.1 387.4,24.1 387.5,25.0 387.7,25.6 387.8,25.9 388.0,25.8 388.2,25.4 388.3,24.7 388.5,23.9 388.6,22.9 388.8,21.9 388.9,21.1 389.1,20.4 389.3,20.0 389.4,19.9 389.6,20.2 389.7,20.8 389.9,21.6 390.1,22.7 390.2,23.8 390.4,25.0 390.5,26.0 390.7,26.8 390.9,27.4 391.0,27.6 391.2,27.4 391.3,27.0 391.5,26.2 391.6,25.3 391.8,24.2 392.0,23.2 392.1,22.2 392.3,21.5 392.4,21.0 392.6,20.9 392.8,21.0 392.9,21.5 393.1,22.3 393.2,23.3 393.4,24.3 393.5,25.4 393.7,26.4 393.9,27.1 394.0,27.6 394.2,27.8 394.3,27.6 394.5,27.1 394.7,26.4 394.8,25.4 395.0,24.3 395.1,23.3 395.3,22.3 395.5,21.5 395.6,20.9 395.8,20.7 395.9,20.8 396.1,21.2 396.2,21.9 396.4,22.7 396.6,23.7 396.7,24.7 396.9,25.6 397.0,26.3 397.2,26.7 397.4,26.8 397.5,26.6 397.7,26.0 397.8,25.2 398.0,24.2 398.1,23.0 398.3,21.9 398.5,20.9 398.6,20.1 398.8,19.5 398.9,19.3 399.1,19.4 399.3,19.8 399.4,20.5 399.6,21.4 399.7,22.4 399.9,23.4 400.1,24.3 400.2,25.0 400.4,25.4 400.5,25.6 400.7,25.3 400.8,24.8 401.0,24.0 401.2,23.0 401.3,21.9 401.5,20.8 401.6,19.8 401.8,19.0 402.0,18.5 402.1,18.3 402.3,18.4 402.4,18.9 402.6,19.6 402.7,20.5 402.9,21.5 403.1,22.6 403.2,23.5 403.4,24.2 403.5,24.6 403.7,24.8 403.9,24.6 404.0,24.0 404.2,23.2 404.3,22.2 404.5,21.1 404.7,20.0 404.8,19.0 405.0,18.2 405.1,17.7 405.3,17.5 405.4,17.6 405.6,18.1 405.8,18.8 405.9,19.8 406.1,20.8 406.2,21.9 406.4,22.8 406.6,23.5 406.7,24.0 406.9,24.2 407.0,24.0 407.2,23.5 407.3,22.7 407.5,21.7 407.7,20.7 407.8,19.6 408.0,18.6 408.1,17.9 408.3,17.4 408.5,17.2 408.6,17.3 408.8,17.8 408.9,18.5 409.1,19.5 409.3,20.5 409.4,21.5 409.6,22.5 409.7,23.2 409.9,23.7 410.0,23.8 410.2,23.7 410.4,23.2 410.5,22.4 410.7,21.4 410.8,20.3 411.0,19.3 411.2,18.3 411.3,17.5 411.5,17.0 411.6,16.8 411.8,17.0 411.9,17.4 412.1,18.2 412.3,19.1 412.4,20.2 412.6,21.2 412.7,22.2 412.9,22.9 413.1,23.4 413.2,23.6 413.4,23.4 413.5,22.9 413.7,22.2 413.9,21.3 414.0,20.2 414.2,19.2 414.3,18.3 414.5,17.6 414.6,17.1 414.8,17.0 415.0,17.2 415.1,17.7 415.3,18.5 415.4,19.5 415.6,20.6 415.8,21.6 415.9,22.6 416.1,23.4 416.2,23.9 416.4,24.1 416.5,24.0 416.7,23.6 416.9,22.8 417.0,21.9 417.2,20.9 417.3,19.9 417.5,19.0 417.7,18.2 417.8,17.8 418.0,17.6 418.1,17.8 418.3,18.4 418.5,19.2 418.6,20.1 418.8,21.2 418.9,22.3 419.1,23.3 419.2,24.1 419.4,24.6 419.6,24.8 419.7,24.7 419.9,24.2 420.0,23.5 420.2,22.6 420.4,21.6 420.5,20.5 420.7,19.6 420.8,18.9 421.0,18.4 421.1,18.3 421.3,18.5 421.5,19.0 421.6,19.8 421.8,20.8 421.9,21.8 422.1,22.9 422.3,23.9 422.4,24.7 422.6,25.2 422.7,25.3 422.9,25.2 423.1,24.7 423.2,23.9 423.4,23.0 423.5,21.9 423.7,20.9 423.8,19.9 424.0,19.2 424.2,18.7 424.3,18.5 424.5,18.7 424.6,19.2 424.8,19.9 425.0,20.9 425.1,21.9 425.3,23.0 425.4,23.9 425.6,24.7 425.7,25.2 425.9,25.4 426.1,25.2 426.2,24.7 426.4,23.9 426.5,23.0 426.7,21.9 426.9,20.9 427.0,19.9 427.2,19.1 427.3,18.7 427.5,18.5 427.7,18.7 427.8,19.2 428.0,19.9 428.1,20.9 428.3,21.9 428.4,23.0 428.6,24.0 428.8,24.7 428.9,25.2 429.1,25.4 429.2,25.2 429.4,24.7 429.6,24.0 429.7,23.0 429.9,22.0 430.0,20.9 430.2,20.0 430.3,19.2 430.5,18.8 430.7,18.6 430.8,18.8 431.0,19.3 431.1,20.0 431.3,21.0 431.5,22.1 431.6,23.1 431.8,24.1 431.9,24.9 432.1,25.4 432.3,25.5 432.4,25.4 432.6,24.9 432.7,24.2 432.9,23.2 433.0,22.2 433.2,21.1 433.4,20.2 433.5,19.4 433.7,19.0 433.8,18.8 434.0,19.0 434.2,19.5 434.3,20.3 434.5,21.2 434.6,22.3 434.8,23.4 434.9,24.3 435.1,25.1 435.3,25.6 435.4,25.8 435.6,25.6 435.7,25.1 435.9,24.4 436.1,23.4 436.2,22.4 436.4,21.3 436.5,20.4 436.7,19.6 436.9,19.2 437.0,19.0 437.2,19.2 437.3,19.7 437.5,20.4 437.6,21.4 437.8,22.4 438.0,23.5 438.1,24.5 438.3,25.2 438.4,25.7 438.6,25.9 438.8,25.7 438.9,25.2 439.1,24.5 439.2,23.5 439.4,22.4 439.5,21.4 439.7,20.4 439.9,19.7 440.0,19.2 440.2,19.0 440.3,19.2 440.5,19.6 440.7,20.4 440.8,21.3 441.0,22.4 441.1,23.5 441.3,24.4 441.5,25.2 441.6,25.6 441.8,25.8 441.9,25.6 442.1,25.1 442.2,24.4 442.4,23.4 442.6,22.4 442.7,21.3 442.9,20.3 443.0,19.6 443.2,19.1 443.4,18.9 443.5,19.1 443.7,19.5 443.8,20.3 444.0,21.3 444.1,22.3 444.3,23.4 444.5,24.3 444.6,25.1 444.8,25.6 444.9,25.7 445.1,25.5 445.3,25.1 445.4,24.3 445.6,23.3 445.7,22.3 445.9,21.2 446.1,20.3 446.2,19.5 446.4,19.0 446.5,18.9 446.7,19.0 446.8,19.5 447.0,20.3 447.2,21.3 447.3,22.3 447.5,23.4 447.6,24.4 447.8,25.1 448.0,25.6 448.1,25.8 448.3,25.6 448.4,25.1 448.6,24.4 448.7,23.4 448.9,22.4 449.1,21.3 449.2,20.4 449.4,19.6 449.5,19.2 449.7,19.0 449.9,19.2 450.0,19.7 450.2,20.4 450.3,21.4 450.5,22.5 450.7,23.5 450.8,24.5 451.0,25.3 451.1,25.8 451.3,25.9 451.4,25.8 451.6,25.3 451.8,24.5 451.9,23.6 452.1,22.5 452.2,21.5 452.4,20.5 452.6,19.8 452.7,19.3 452.9,19.1 453.0,19.3 453.2,19.8 453.3,20.5 453.5,21.5 453.7,22.5 453.8,23.6 454.0,24.5 454.1,25.3 454.3,25.8 454.5,25.9 454.6,25.8 454.8,25.3 454.9,24.5 455.1,23.6 455.3,22.5 455.4,21.4 455.6,20.5 455.7,19.7 455.9,19.2 456.0,19.0 456.2,19.2 456.4,19.7 456.5,20.4 456.7,21.4 456.8,22.4 457.0,23.5 457.2,24.4 457.3,25.2 457.5,25.6 457.6,25.8 457.8,25.6 457.9,25.1 458.1,24.4 458.3,23.4 458.4,22.3 458.6,21.3 458.7,20.3 458.9,19.5 459.1,19.0 459.2,18.9 459.4,19.0 459.5,19.5 459.7,20.3 459.9,21.2 460.0,22.3 460.2,23.3 460.3,24.3 460.5,25.0 460.6,25.5 460.8,25.7 461.0,25.5 461.1,25.0 461.3,24.3 461.4,23.3 461.6,22.3 461.8,21.2 461.9,20.3 462.1,19.5 462.2,19.0 462.4,18.8 462.5,19.0 462.7,19.5 462.9,20.3 463.0,21.2 463.2,22.3 463.3,23.4 463.5,24.3 463.7,25.1 463.8,25.6 464.0,25.8 464.1,25.6 464.3,25.1 464.5,24.4 464.6,23.4 464.8,22.4 464.9,21.3 465.1,20.4 465.2,19.6 465.4,19.1 465.6,19.0 465.7,19.2 465.9,19.6 466.0,20.4 466.2,21.4 466.4,22.4 466.5,23.5 466.7,24.5 466.8,25.2 467.0,25.7 467.1,25.9 467.3,25.7 467.5,25.3 467.6,24.5 467.8,23.5 467.9,22.5 468.1,21.4 468.3,20.5 468.4,19.7 468.6,19.2 468.7,19.1 468.9,19.2 469.1,19.7 469.2,20.5 469.4,21.4 469.5,22.5 469.7,23.6 469.8,24.5 470.0,25.3 470.2,25.7 470.3,25.9 470.5,25.7 470.6,25.2 470.8,24.5 471.0,23.5 471.1,22.5 471.3,21.4 471.4,20.4 471.6,19.7 471.7,19.2 471.9,19.0 472.1,19.2 472.2,19.6 472.4,20.4 472.5,21.3 472.7,22.4 472.9,23.4 473.0,24.4 473.2,25.1 473.3,25.6 473.5,25.8 473.7,25.6 473.8,25.1 474.0,24.3 474.1,23.4 474.3,22.3 474.4,21.2 474.6,20.3 474.8,19.5 474.9,19.0 475.1,18.8 475.2,19.0 475.4,19.5 475.6,20.2 475.7,21.2 475.9,22.2 476.0,23.3 476.2,24.2 476.3,25.0 476.5,25.5 476.7,25.7 476.8,25.5 477.0,25.0 477.1,24.2 477.3,23.3 477.5,22.2 477.6,21.2 477.8,20.2 477.9,19.5 478.1,19.0 478.3,18.8 478.4,19.0 478.6,19.5 478.7,20.2 478.9,21.2 479.0,22.3 479.2,23.3 479.4,24.3 479.5,25.1 479.7,25.5 479.8,25.7 480.0,25.6 480.2,25.1 480.3,24.3 480.5,23.4 480.6,22.3 480.8,21.3 480.9,20.3 481.1,19.6 481.3,19.1 481.4,18.9 481.6,19.1 481.7,19.6 481.9,20.4 482.1,21.3 482.2,22.4 482.4,23.5 482.5,24.4 482.7,25.2 482.9,25.7 483.0,25.9 483.2,25.7 483.3,25.2 483.5,24.5 483.6,23.5 483.8,22.5 484.0,21.4 484.1,20.5 484.3,19.7 484.4,19.2 484.6,19.0 484.8,19.2 484.9,19.7 485.1,20.5 485.2,21.4 485.4,22.5 485.5,23.5 485.7,24.5 485.9,25.2 486.0,25.7 486.2,25.9 486.3,25.7 486.5,25.2 486.7,24.5 486.8,23.5 487.0,22.4 487.1,21.4 487.3,20.4 487.5,19.6 487.6,19.1 487.8,19.0 487.9,19.1 488.1,19.6 488.2,20.4 488.4,21.3 488.6,22.4 488.7,23.4 488.9,24.3 489.0,25.1 489.2,25.6 489.4,25.7 489.5,25.6 489.7,25.1 489.8,24.3 490.0,23.3 490.2,22.3 490.3,21.2 490.5,20.2 490.6,19.5 490.8,19.0 490.9,18.8 491.1,19.0 491.3,19.5 491.4,20.2 491.6,21.2 491.7,22.2 491.9,23.3 492.1,24.2 492.2,25.0 492.4,25.5 492.5,25.6 492.7,25.5 492.8,25.0 493.0,24.2 493.2,23.3 493.3,22.2 493.5,21.1 493.6,20.2 493.8,19.4 494.0,18.9 494.1,18.8 494.3,19.0 494.4,19.4 494.6,20.2 494.8,21.2 494.9,22.2 495.1,23.3 495.2,24.3 495.4,25.0 495.5,25.5 495.7,25.7 495.9,25.5 496.0,25.1 496.2,24.3 496.3,23.4 496.5,22.3 496.7,21.3 496.8,20.3 497.0,19.6 497.1,19.1 497.3,18.9 497.4,19.1 497.6,19.6 497.8,20.4 497.9,21.3 498.1,22.4 498.2,23.4 498.4,24.4 498.6,25.2 498.7,25.7 498.9,25.8 499.0,25.7 499.2,25.2 499.4,24.4 499.5,23.5 499.7,22.4 499.8,21.4 500.0,20.4 500.1,19.7 500.3,19.2 500.5,19.0 500.6,19.2 500.8,19.7 500.9,20.4 501.1,21.4 501.3,22.4 501.4,23.5 501.6,24.4 501.7,25.2 501.9,25.7 502.0,25.8 502.2,25.7 502.4,25.2 502.5,24.4 502.7,23.5 502.8,22.4 503.0,21.3 503.2,20.4 503.3,19.6 503.5,19.1 503.6,18.9 503.8,19.1 504.0,19.6 504.1,20.3 504.3,21.3 504.4,22.3 504.6,23.4 504.7,24.3 504.9,25.1 505.1,25.5 505.2,25.7 505.4,25.5 505.5,25.0 505.7,24.3 505.9,23.3 506.0,22.2 506.2,21.2 506.3,20.2 506.5,19.4 506.6,19.0 506.8,18.8 507.0,18.9 507.1,19.4 507.3,20.2 507.4,21.1 507.6,22.2 507.8,23.2 507.9,24.2 508.1,24.9 508.2,25.4 508.4,25.6 508.6,25.4 508.7,24.9 508.9,24.2 509.0,23.2 509.2,22.2 509.3,21.1 509.5,20.2 509.7,19.4 509.8,18.9 510.0,18.8 510.1,18.9 510.3,19.4 510.5,20.2 510.6,21.1 510.8,22.2 510.9,23.3 511.1,24.2 511.2,25.0 511.4,25.5 511.6,25.7 511.7,25.5 511.9,25.0 512.0,24.3 512.2,23.3 512.4,22.3 512.5,21.2 512.7,20.3 512.8,19.5 513.0,19.0 513.2,18.9 513.3,19.1 513.5,19.6 513.6,20.3 513.8,21.3 513.9,22.3 514.1,23.4 514.3,24.4 514.4,25.1 514.6,25.6 514.7,25.8 514.9,25.6 515.1,25.2 515.2,24.4 515.4,23.5 515.5,22.4 515.7,21.3 515.8,20.4 516.0,19.6 516.2,19.2 516.3,19.0 516.5,19.2 516.6,19.6 516.8,20.4 517.0,21.4 517.1,22.4 517.3,23.5 517.4,24.4 517.6,25.2 517.8,25.7 517.9,25.8 518.1,25.6 518.2,25.1 518.4,24.4 518.5,23.4 518.7,22.4 518.9,21.3 519.0,20.4 519.2,19.6 519.3,19.1 519.5,19.0 519.7,19.1 519.8,19.6 520.0,20.3 520.1,21.3 520.3,22.3 520.4,23.2 520.6,24.0 520.8,24.5 520.9,24.7 521.1,24.6 521.2,24.3 521.4,23.8 521.6,23.2 521.7,22.6 521.9,6.5 522.0,6.1 522.2,5.8 522.4,5.6 522.5,5.6 522.7,5.7 522.8,5.9 523.0,6.1 523.1,6.2 523.3,6.4 523.5,6.4 523.6,6.5 523.8,6.6 523.9,6.9 524.1,7.1 524.3,7.3 524.4,7.5 524.6,7.5 524.7,7.4 524.9,7.1 525.0,6.7 525.2,6.3 525.4,5.8 525.5,5.4 525.7,5.1 525.8,5.0 526.0,5.2 526.2,5.7 526.3,6.4 526.5,7.4 526.6,8.5 526.8,9.8 527.0,10.9 527.1,11.8 527.3,12.5 527.4,12.9 527.6,13.1 527.7,12.9 527.9,12.5 528.1,11.9 528.2,11.2 528.4,10.6 528.5,10.0 528.7,9.6 528.9,9.4 529.0,9.5 529.2,10.0 529.3,10.7 529.5,11.6 529.6,12.7 529.8,13.9 530.0,15.1 530.1,16.3 530.3,17.2 530.4,17.9 530.6,18.3 530.8,18.5 530.9,18.3 531.1,17.9 531.2,17.3 531.4,16.6 531.6,16.0 531.7,15.4 531.9,15.0 532.0,14.8 532.2,14.9 532.3,15.3 532.5,16.0 532.7,17.0 532.8,18.1 533.0,19.3 533.1,20.5 533.3,21.7 533.5,22.6 533.6,23.3 533.8,23.7 533.9,23.8 534.1,23.7 534.2,23.3 534.4,22.7 534.6,22.0 534.7,21.3 534.9,20.8 535.0,20.4 535.2,20.2 535.4,20.3 535.5,20.7 535.7,21.4 535.8,22.4 536.0,23.5 536.2,24.7 536.3,25.9 536.5,27.0 536.6,28.0 536.8,28.7 536.9,29.1 537.1,29.2 537.3,28.9 537.4,28.4 537.6,27.6 537.7,26.7 537.9,25.8 538.1,24.9 538.2,24.1 538.4,23.6 538.5,23.3 538.7,23.4 538.8,23.8 539.0,24.4 539.2,25.2 539.3,26.1 539.5,27.0 539.6,27.8 539.8,28.5 540.0,28.9 540.1,29.0 540.3,28.7 540.4,28.2 540.6,27.4 540.8,26.5 540.9,25.4 541.1,24.3 541.2,23.3 541.4,22.5 541.5,22.0 541.7,21.8 541.9,21.8 542.0,22.2 542.2,22.9 542.3,23.7 542.5,24.7 542.7,25.7 542.8,26.5 543.0,27.2 543.1,27.6 543.3,27.7 543.4,27.5 543.6,27.0 543.8,26.2 543.9,25.2 544.1,24.1 544.2,22.9 544.4,21.9 544.6,21.1 544.7,20.6 544.9,20.3 545.0,20.4 545.2,20.9 545.4,21.6 545.5,22.4 545.7,23.4 545.8,24.4 546.0,25.3 546.1,26.0 546.3,26.5 546.5,26.6 546.6,26.3 546.8,25.8 546.9,25.0 547.1,23.9 547.3,22.8 547.4,21.7 547.6,20.7 547.7,19.9 547.9,19.4 548.0,19.2 548.2,19.3 548.4,19.8 548.5,20.5 548.7,21.4 548.8,22.5 549.0,23.5 549.2,24.4 549.3,25.1 549.5,25.6 549.6,25.7 549.8,25.5 550.0,25.0 550.1,24.2 550.3,23.2 550.4,22.1 550.6,21.0 550.7,20.0 550.9,19.2 551.1,18.7 551.2,18.5 551.4,18.6 551.5,19.1 551.7,19.8 551.9,20.7 552.0,21.7 552.2,22.7 552.3,23.6 552.5,24.4 552.6,24.8 552.8,24.9 553.0,24.7 553.1,24.2 553.3,23.4 553.4,22.4 553.6,21.3 553.8,20.2 553.9,19.2 554.1,18.5 554.2,18.0 554.4,17.8 554.6,17.9 554.7,18.4 554.9,19.2 555.0,20.1 555.2,21.1 555.3,22.2 555.5,23.1 555.7,23.9 555.8,24.4 556.0,24.5 556.1,24.4 556.3,23.9 556.5,23.1 556.6,22.2 556.8,21.1 556.9,20.0 557.1,19.1 557.2,18.3 557.4,17.8 557.6,17.7 557.7,17.8 557.9,18.3 558.0,19.1 558.2,20.0 558.4,21.1 558.5,22.2 558.7,23.1 558.8,23.9 559.0,24.4 559.2,24.5 559.3,24.4 559.5,23.9 559.6,23.2 559.8,22.2 559.9,21.1 560.1,20.1 560.3,19.1 560.4,18.4 560.6,17.9 560.7,17.8 560.9,17.9 561.1,18.4 561.2,19.2 561.4,20.1 561.5,21.2 561.7,22.3 561.8,23.2 562.0,24.0 562.2,24.5 562.3,24.7 562.5,24.5 562.6,24.0 562.8,23.3 563.0,22.3 563.1,21.2 563.3,20.2 563.4,19.2 563.6,18.5 563.8,18.0 563.9,17.8 564.1,18.0 564.2,18.5 564.4,19.2 564.5,20.2 564.7,21.2 564.9,22.3 565.0,23.2 565.2,24.0 565.3,24.4 565.5,24.6 565.7,24.4 565.8,23.9 566.0,23.2 566.1,22.2 566.3,21.1 566.4,20.1 566.6,19.1 566.8,18.3 566.9,17.8 567.1,17.6 567.2,17.8 567.4,18.3 567.6,19.0 567.7,19.9 567.9,21.0 568.0,22.0 568.2,23.0 568.4,23.7 568.5,24.2 568.7,24.3 568.8,24.1 569.0,23.6 569.1,22.9 569.3,21.9 569.5,20.8 569.6,19.8 569.8,18.8 569.9,18.0 570.1,17.5 570.3,17.3 570.4,17.5 570.6,18.0 570.7,18.7 570.9,19.7 571.0,20.7 571.2,21.8 571.4,22.7 571.5,23.5 571.7,24.0 571.8,24.1 572.0,24.0 572.2,23.5 572.3,22.7 572.5,21.8 572.6,20.8 572.8,19.7 573.0,18.8 573.1,18.0 573.3,17.5 573.4,17.4 573.6,17.6 573.7,18.1 573.9,18.8 574.1,19.8 574.2,20.9 574.4,21.9 574.5,22.9 574.7,23.7 574.9,24.2 575.0,24.4 575.2,24.2 575.3,23.8 575.5,23.0 575.6,22.1 575.8,21.0 576.0,20.0 576.1,19.1 576.3,18.3 576.4,17.9 576.6,17.7 576.8,17.9 576.9,18.4 577.1,19.2 577.2,20.1 577.4,21.2 577.6,22.3 577.7,23.3 577.9,24.0 578.0,24.5 578.2,24.7 578.3,24.6 578.5,24.1 578.7,23.4 578.8,22.4 579.0,21.4 579.1,20.3 579.3,19.4 579.5,18.6 579.6,18.2 579.8,18.0 579.9,18.2 580.1,18.7 580.2,19.4 580.4,20.4 580.6,21.5 580.7,22.5 580.9,23.5 581.0,24.2 581.2,24.7 581.4,24.9 581.5,24.7 581.7,24.2 581.8,23.5 582.0,22.5 582.2,21.5 582.3,20.4 582.5,19.5 582.6,18.7 582.8,18.2 582.9,18.0 583.1,18.2 583.3,18.7 583.4,19.4 583.6,20.4 583.7,21.4 583.9,22.5 584.1,23.4 584.2,24.2 584.4,24.7 584.5,24.8 584.7,24.7 584.8,24.2 585.0,23.4 585.2,22.5 585.3,21.4 585.5,20.3 585.6,19.4 585.8,18.6 586.0,18.1 586.1,18.0 586.3,18.1 586.4,18.6 586.6,19.4 586.8,20.3 586.9,21.4 587.1,22.4 587.2,23.4 587.4,24.1 587.5,24.6 587.7,24.8 587.9,24.6 588.0,24.2 588.2,23.4 588.3,22.5 588.5,21.4 588.7,20.4 588.8,19.4 589.0,18.7 589.1,18.2 589.3,18.0 589.4,18.2 589.6,18.7 589.8,19.5 589.9,20.4 590.1,21.5 590.2,22.6 590.4,23.5 590.6,24.3 590.7,24.8 590.9,25.0 591.0,24.8 591.2,24.4 591.4,23.6 591.5,22.7 591.7,21.6 591.8,20.6 592.0,19.7 592.1,18.9 592.3,18.5 592.5,18.3 592.6,18.5 592.8,19.0 592.9,19.8 593.1,20.7 593.3,21.8 593.4,22.9 593.6,23.8 593.7,24.6 593.9,25.1 594.0,25.3 594.2,25.1 594.4,24.7 594.5,23.9 594.7,23.0 594.8,21.9 595.0,20.9 595.2,19.9 595.3,19.2 595.5,18.7 595.6,18.5 595.8,18.7 596.0,19.2 596.1,20.0 596.3,20.9 596.4,22.0 596.6,23.1 596.7,24.0 596.9,24.8 597.1,25.3 597.2,25.4 597.4,25.3 597.5,24.8 597.7,24.0 597.9,23.0 598.0,22.0 598.2,20.9 598.3,20.0 598.5,19.2 598.6,18.7 598.8,18.5 599.0,18.7 599.1,19.2 599.3,19.9 599.4,20.9 599.6,21.9 599.8,23.0 599.9,23.9 600.1,24.7 600.2,25.2 600.4,25.3 600.6,25.1 600.7,24.7 600.9,23.9 601.0,22.9 601.2,21.9 601.3,20.8 601.5,19.8 601.7,19.1 601.8,18.6 602.0,18.4 602.1,18.6 602.3,19.0 602.5,19.8 602.6,20.8 602.8,21.8 602.9,22.9 603.1,23.8 603.2,24.6 603.4,25.1 603.6,25.2 603.7,25.1 603.9,24.6 604.0,23.8 604.2,22.9 604.4,21.8 604.5,20.7 604.7,19.8 604.8,19.0 605.0,18.6 605.2,18.4 605.3,18.6 605.5,19.1 605.6,19.8 605.8,20.8 605.9,21.9 606.1,22.9 606.3,23.9 606.4,24.7 606.6,25.2 606.7,25.3 606.9,25.2 607.1,24.7 607.2,24.0 607.4,23.0 607.5,22.0 607.7,20.9 607.8,20.0 608.0,19.2 608.2,18.8 608.3,18.6 608.5,18.8 608.6,19.3 608.8,20.1 609.0,21.0 609.1,22.1 609.3,23.2 609.4,24.1 609.6,24.9 609.8,25.4 609.9,25.6 610.1,25.4 610.2,24.9 610.4,24.2 610.5,23.2 610.7,22.2 610.9,21.1 611.0,20.2 611.2,19.4 611.3,18.9 611.5,18.8 611.7,18.9 611.8,19.4 612.0,20.2 612.1,21.1 612.3,22.2 612.4,23.3 612.6,24.2 612.8,25.0 612.9,25.5 613.1,25.6 613.2,25.4 613.4,25.0 613.6,24.2 613.7,23.2 613.9,22.2 614.0,21.1 614.2,20.1 614.4,19.4 614.5,18.9 614.7,18.7 614.8,18.9 615.0,19.3 615.1,20.1 615.3,21.0 615.5,22.1 615.6,23.1 615.8,24.1 615.9,24.8 616.1,25.3 616.3,25.4 616.4,25.3 616.6,24.8 616.7,24.0 616.9,23.0 617.1,22.0 617.2,20.9 617.4,19.9 617.5,19.2 617.7,18.7 617.8,18.5 618.0,18.7 618.2,19.2 618.3,19.9 618.5,20.9 618.6,21.9 618.8,23.0 619.0,23.9 619.1,24.7 619.3,25.2 619.4,25.3 619.6,25.2 619.7,24.7 619.9,23.9 620.1,23.0 620.2,21.9 620.4,20.8 620.5,19.9 620.7,19.1 620.9,18.7 621.0,18.5 621.2,18.7 621.3,19.2 621.5,19.9 621.7,20.9 621.8,22.0 622.0,23.0 622.1,24.0 622.3,24.8 622.4,25.3 622.6,25.4 622.8,25.3 622.9,24.8 623.1,24.1 623.2,23.1 623.4,22.1 623.6,21.0 623.7,20.1 623.9,19.3 624.0,18.9 624.2,18.7 624.3,18.9 624.5,19.4 624.7,20.2 624.8,21.1 625.0,22.2 625.1,23.3 625.3,24.2 625.5,25.0 625.6,25.5 625.8,25.7 625.9,25.5 626.1,25.0 626.3,24.3 626.4,23.3 626.6,22.3 626.7,21.2 626.9,20.3 627.0,19.5 627.2,19.0 627.4,18.9 627.5,19.1 627.7,19.5 627.8,20.3 628.0,21.3 628.2,22.3 628.3,23.4 628.5,24.3 628.6,25.1 628.8,25.6 628.9,25.7 629.1,25.6 629.3,25.1 629.4,24.3 629.6,23.3 629.7,22.3 629.9,21.2 630.1,20.2 630.2,19.5 630.4,19.0 630.5,18.8 630.7,19.0 630.9,19.4 631.0,20.2 631.2,21.1 631.3,22.2 631.5,23.2 631.6,24.2 631.8,24.9 632.0,25.4 632.1,25.6 632.3,25.4 632.4,24.9 632.6,24.1 632.8,23.1 632.9,22.1 633.1,21.0 633.2,20.0 633.4,19.3 633.5,18.8 633.7,18.6 633.9,18.8 634.0,19.3 634.2,20.0 634.3,21.0 634.5,22.0 634.7,23.1 634.8,24.0 635.0,24.8 635.1,25.3 635.3,25.4 635.5,25.3 635.6,24.8 635.8,24.0 635.9,23.1 636.1,22.0 636.2,21.0 636.4,20.0 636.6,19.2 636.7,18.8 636.9,18.6 637.0,18.8 637.2,19.3 637.4,20.0 637.5,21.0 637.7,22.1 637.8,23.1 638.0,24.1 638.1,24.9 638.3,25.4 638.5,25.5 638.6,25.4 638.8,24.9 638.9,24.2 639.1,23.2 639.3,22.2 639.4,21.1 639.6,20.2 639.7,19.4 639.9,19.0 640.1,18.8 640.2,19.0 640.4,19.5 640.5,20.3 640.7,21.2 640.8,22.3 641.0,23.4 641.2,24.3 641.3,25.1 641.5,25.6 641.6,25.8 641.8,25.6 642.0,25.1 642.1,24.4 642.3,23.4 642.4,22.4 642.6,21.3 642.7,20.4 642.9,19.6 643.1,19.2 643.2,19.0 643.4,19.2 643.5,19.6 643.7,20.4 643.9,21.4 644.0,22.4 644.2,23.5 644.3,24.4 644.5,25.2 644.7,25.7 644.8,25.8 645.0,25.7 645.1,25.2 645.3,24.4 645.4,23.4 645.6,22.4 645.8,21.3 645.9,20.3 646.1,19.6 646.2,19.1 646.4,18.9 646.6,19.1 646.7,19.5 646.9,20.3 647.0,21.2 647.2,22.3 647.3,23.3 647.5,24.3 647.7,25.0 647.8,25.5 648.0,25.7 648.1,25.5 648.3,25.0 648.5,24.2 648.6,23.2 648.8,22.2 648.9,21.1 649.1,20.2 649.3,19.4 649.4,18.9 649.6,18.7 649.7,18.9 649.9,19.4 650.0,20.1 650.2,21.1 650.4,22.1 650.5,23.2 650.7,24.1 650.8,24.9 651.0,25.4 651.2,25.5 651.3,25.4 651.5,24.9 651.6,24.1 651.8,23.2 651.9,22.1 652.1,21.1 652.3,20.1 652.4,19.3 652.6,18.9 652.7,18.7 652.9,18.9 653.1,19.4 653.2,20.1 653.4,21.1 653.5,22.2 653.7,23.2 653.9,24.2 654.0,25.0 654.2,25.5 654.3,25.6 654.5,25.5 654.6,25.0 654.8,24.3 655.0,23.3 655.1,22.3 655.3,21.2 655.4,20.3 655.6,19.5 655.8,19.1 655.9,18.9 656.1,19.1 656.2,19.6 656.4,20.4 656.5,21.3 656.7,22.4 656.9,23.5 657.0,24.4 657.2,25.2 657.3,25.7 657.5,25.9 657.7,25.7 657.8,25.2 658.0,24.5 658.1,23.5 658.3,22.5 658.5,21.4 658.6,20.5 658.8,19.7 658.9,19.2 659.1,19.1 659.2,19.2 659.4,19.7 659.6,20.5 659.7,21.4 659.9,22.5 660.0,23.6 660.2,24.5 660.4,25.3 660.5,25.7 660.7,25.9 660.8,25.7 661.0,25.2 661.1,24.5 661.3,23.5 661.5,22.5 661.6,21.4 661.8,20.4 661.9,19.7 662.1,19.2 662.3,19.0 662.4,19.1 662.6,19.6 662.7,20.4 662.9,21.3 663.1,22.4 663.2,23.4 663.4,24.4 663.5,25.1 663.7,25.6 663.8,25.7 664.0,25.6 664.2,25.1 664.3,24.3 664.5,23.3 664.6,22.3 664.8,21.2 665.0,20.2 665.1,19.5 665.3,19.0 665.4,18.8 665.6,19.0 665.7,19.4 665.9,20.2 666.1,21.1 666.2,22.2 666.4,23.2 666.5,24.2 666.7,25.0 666.9,25.4 667.0,25.6 667.2,25.4 667.3,25.0 667.5,24.2 667.7,23.2 667.8,22.2 668.0,21.1 668.1,20.2 668.3,19.4 668.4,18.9 668.6,18.8 668.8,19.0 668.9,19.5 669.1,20.2 669.2,21.2 669.4,22.2 669.6,23.3 669.7,24.3 669.9,25.0 670.0,25.5 670.2,25.7 670.3,25.6 670.5,25.1 670.7,24.3 670.8,23.4 671.0,22.4 671.1,21.3 671.3,20.4 671.5,19.6 671.6,19.1 671.8,19.0 671.9,19.2 672.1,19.7 672.3,20.4 672.4,21.4 672.6,22.5 672.7,23.5 672.9,24.5 673.0,25.3 673.2,25.8 673.4,25.9 673.5,25.8 673.7,25.3 673.8,24.6 674.0,23.6 674.2,22.6 674.3,21.5 674.5,20.6 674.6,19.8 674.8,19.3 674.9,19.2 675.1,19.3 675.3,19.8 675.4,20.6 675.6,21.5 675.7,22.6 675.9,23.6 676.1,24.6 676.2,25.3 676.4,25.8 676.5,26.0 676.7,25.8 676.9,25.3 677.0,24.6 677.2,23.6 677.3,22.5 677.5,21.5 677.6,20.5 677.8,19.7 678.0,19.2 678.1,19.1 678.3,19.2 678.4,19.7 678.6,20.4 678.8,21.4 678.9,22.4 679.1,23.5 679.2,24.4 679.4,25.2 679.5,25.7 679.7,25.8 679.9,25.6 680.0,25.1 680.2,24.4 680.3,23.4 680.5,22.3" stroke="#00ff00" stroke-width="1.55"/>
<polyline points="46.0,21.4 46.3,21.2 46.6,21.1 47.0,21.0 47.3,21.0 47.6,20.9 47.9,20.8 48.2,20.8 48.5,20.8 48.9,20.8 49.2,20.8 49.5,20.8 49.8,20.9 50.1,20.9 50.4,21.0 50.8,21.1 51.1,21.2 51.4,21.4 51.7,21.5 52.0,21.6 52.3,21.8 52.7,21.9 53.0,22.0 53.3,22.2 53.6,22.3 53.9,22.4 54.2,22.6 54.6,22.7 54.9,22.8 55.2,22.8 55.5,22.9 55.8,23.0 56.2,23.0 56.5,23.0 56.8,23.0 57.1,23.0 57.4,23.0 57.7,22.9 58.1,22.8 58.4,22.8 58.7,22.7 59.0,22.6 59.3,22.4 59.6,22.3 60.0,22.2 60.3,22.0 60.6,21.9 60.9,21.8 61.2,21.6 61.5,21.5 61.9,21.4 62.2,21.2 62.5,21.1 62.8,21.0 63.1,21.0 63.4,20.9 63.8,20.8 64.1,20.8 64.4,20.8 64.7,20.8 65.0,20.8 65.4,20.8 65.7,20.9 66.0,21.0 66.3,21.0 66.6,21.1 66.9,21.2 67.3,21.4 67.6,21.5 67.9,21.6 68.2,21.8 68.5,21.9 68.8,22.0 69.2,22.2 69.5,22.3 69.8,22.4 70.1,22.6 70.4,22.7 70.7,22.8 71.1,22.9 71.4,22.9 71.7,23.0 72.0,23.0 72.3,23.0 72.6,23.0 73.0,23.0 73.3,23.0 73.6,22.9 73.9,22.9 74.2,22.8 74.6,22.7 74.9,22.6 75.2,22.5 75.5,22.3 75.8,22.2 76.1,22.1 76.5,21.9 76.8,21.8 77.1,21.6 77.4,21.5 77.7,21.4 78.0,21.3 78.4,21.1 78.7,21.0 79.0,21.0 79.3,20.9 79.6,20.8 79.9,20.8 80.3,20.8 80.6,20.8 80.9,20.8 81.2,20.8 81.5,20.9 81.8,21.0 82.2,21.0 82.5,21.1 82.8,21.2 83.1,21.4 83.4,21.5 83.8,21.6 84.1,21.8 84.4,21.9 84.7,22.0 85.0,22.2 85.3,22.3 85.7,22.4 86.0,22.6 86.3,22.7 86.6,22.8 86.9,22.9 87.2,22.9 87.6,23.0 87.9,23.0 88.2,23.0 88.5,23.0 88.8,23.0 89.1,23.0 89.5,22.9 89.8,22.9 90.1,22.8 90.4,22.7 90.7,22.6 91.0,22.5 91.4,22.3 91.7,22.2 92.0,22.1 92.3,21.9 92.6,21.8 93.0,21.6 93.3,21.5 93.6,21.4 93.9,21.3 94.2,21.2 94.5,21.1 94.9,21.0 95.2,20.9 95.5,20.9 95.8,20.8 96.1,20.8 96.4,20.8 96.8,20.8 97.1,20.8 97.4,20.9 97.7,21.0 98.0,21.1 98.3,21.1 98.7,21.3 99.0,21.4 99.3,21.5 99.6,21.6 99.9,21.8 100.2,21.9 100.6,22.1 100.9,22.2 101.2,22.3 101.5,22.5 101.8,22.6 102.2,22.7 102.5,22.8 102.8,22.9 103.1,22.9 103.4,23.0 103.7,23.0 104.1,23.0 104.4,23.0 104.7,23.0 105.0,23.0 105.3,22.9 105.6,22.9 106.0,22.8 106.3,22.7 106.6,22.6 106.9,22.5 107.2,22.3 107.5,22.2 107.9,22.1 108.2,21.9 108.5,21.8 108.8,21.6 109.1,21.5 109.5,21.4 109.8,21.3 110.1,21.2 110.4,21.1 110.7,21.0 111.0,20.9 111.4,20.9 111.7,20.8 112.0,20.8 112.3,20.8 112.6,20.8 112.9,20.9 113.3,20.9 113.6,21.0 113.9,21.1 114.2,21.2 114.5,21.3 114.8,21.4 115.2,21.5 115.5,21.6 115.8,21.8 116.1,21.9 116.4,22.1 116.7,22.2 117.1,22.3 117.4,22.5 117.7,22.6 118.0,22.7 118.3,22.8 118.7,22.9 119.0,22.9 119.3,23.0 119.6,23.0 119.9,23.0 120.2,23.0 120.6,23.0 120.9,23.0 121.2,22.9 121.5,22.9 121.8,22.8 122.1,22.7 122.5,22.6 122.8,22.5 123.1,22.3 123.4,22.2 123.7,22.1 124.0,21.9 124.4,21.8 124.7,21.7 125.0,21.5 125.3,21.4 125.6,21.3 125.9,21.2 126.3,21.1 126.6,21.0 126.9,20.9 127.2,20.9 127.5,20.8 127.9,20.8 128.2,20.8 128.5,20.8 128.8,20.9 129.1,20.9 129.4,21.0 129.8,21.1 130.1,21.2 130.4,21.3 130.7,21.4 131.0,21.5 131.3,21.6 131.7,21.8 132.0,21.9 132.3,22.1 132.6,22.2 132.9,22.3 133.2,22.5 133.6,22.6 133.9,22.7 134.2,22.8 134.5,22.9 134.8,22.9 135.1,23.0 135.5,23.0 135.8,23.1 136.1,23.1 136.4,23.0 136.7,23.0 137.1,22.9 137.4,22.9 137.7,22.8 138.0,22.7 138.3,22.6 138.6,22.5 139.0,22.3 139.3,22.2 139.6,22.1 139.9,21.9 140.2,21.8 140.5,21.7 140.9,21.5 141.2,21.4 141.5,21.3 141.8,21.2 142.1,21.1 142.4,21.0 142.8,20.9 143.1,20.9 143.4,20.8 143.7,20.8 144.0,20.8 144.3,20.8 144.7,20.9 145.0,20.9 145.3,21.0 145.6,21.1 145.9,21.2 146.3,21.3 146.6,21.4 146.9,21.5 147.2,21.7 147.5,21.8 147.8,21.9 148.2,22.1 148.5,22.2 148.8,22.3 149.1,22.5 149.4,22.6 149.7,22.7 150.1,22.8 150.4,22.9 150.7,23.0 151.0,23.0 151.3,23.0 151.6,23.1 152.0,23.1 152.3,23.0 152.6,23.0 152.9,23.0 153.2,22.9 153.5,22.8 153.9,22.7 154.2,22.6 154.5,22.5 154.8,22.4 155.1,22.2 155.5,22.1 155.8,21.9 156.1,21.8 156.4,21.7 156.7,21.5 157.0,21.4 157.4,21.3 157.7,21.2 158.0,21.1 158.3,21.0 158.6,20.9 158.9,20.9 159.3,20.8 159.6,20.8 159.9,20.8 160.2,20.8 160.5,20.9 160.8,20.9 161.2,21.0 161.5,21.1 161.8,21.2 162.1,21.3 162.4,21.4 162.7,21.5 163.1,21.7 163.4,21.8 163.7,21.9 164.0,22.1 164.3,22.2 164.7,22.4 165.0,22.5 165.3,22.6 165.6,22.7 165.9,22.8 166.2,22.9 166.6,23.0 166.9,23.0 167.2,23.0 167.5,23.1 167.8,23.1 168.1,23.0 168.5,23.0 168.8,23.0 169.1,22.9 169.4,22.8 169.7,22.7 170.0,22.6 170.4,22.5 170.7,22.4 171.0,22.2 171.3,22.1 171.6,21.9 171.9,21.8 172.3,21.7 172.6,21.5 172.9,21.4 173.2,21.3 173.5,21.2 173.9,21.1 174.2,21.0 174.5,20.9 174.8,20.9 175.1,20.8 175.4,20.8 175.8,20.8 176.1,20.8 176.4,20.9 176.7,20.9 177.0,21.0 177.3,21.1 177.7,21.2 178.0,21.3 178.3,21.4 178.6,21.5 178.9,21.7 179.2,21.8 179.6,21.9 179.9,22.1 180.2,22.2 180.5,22.4 180.8,22.5 181.1,22.6 181.5,22.7 181.8,22.8 182.1,22.9 182.4,23.0 182.7,23.0 183.1,23.1 183.4,23.1 183.7,23.1 184.0,23.1 184.3,23.0 184.6,23.0 185.0,22.9 185.3,22.8 185.6,22.7 185.9,22.6 186.2,22.5 186.5,22.4 186.9,22.2 187.2,22.1 187.5,22.0 187.8,21.8 188.1,21.7 188.4,21.5 188.8,21.4 189.1,21.3 189.4,21.2 189.7,21.1 190.0,21.0 190.3,20.9 190.7,20.9 191.0,20.9 191.3,20.8 191.6,20.8 191.9,20.9 192.3,20.9 192.6,20.9 192.9,21.0 193.2,21.1 193.5,21.2 193.8,21.3 194.2,21.4 194.5,21.5 194.8,21.7 195.1,21.8 195.4,22.0 195.7,22.1 196.1,22.2 196.4,22.4 196.7,22.5 197.0,22.6 197.3,22.7 197.6,22.8 198.0,22.9 198.3,23.0 198.6,23.0 198.9,23.1 199.2,23.1 199.5,23.1 199.9,23.1 200.2,23.0 200.5,23.0 200.8,22.9 201.1,22.8 201.5,22.7 201.8,22.6 202.1,22.5 202.4,22.3 202.7,22.2 203.0,22.1 203.4,22.0 203.7,21.9 204.0,21.8 204.3,21.7 204.6,80.3 204.9,79.0 205.3,77.2 205.6,75.2 205.9,73.1 206.2,71.0 206.5,69.0 206.8,66.9 207.2,64.8 207.5,62.7 207.8,60.6 208.1,58.5 208.4,56.2 208.7,53.9 209.1,51.6 209.4,49.1 209.7,46.7 210.0,44.2 210.3,41.8 210.7,39.3 211.0,37.0 211.3,35.1 211.6,33.7 211.9,32.7 212.2,31.9 212.6,31.1 212.9,30.4 213.2,29.8 213.5,29.3 213.8,28.9 214.1,28.6 214.5,28.3 214.8,28.0 215.1,27.7 215.4,27.4 215.7,27.2 216.0,26.8 216.4,26.5 216.7,26.2 217.0,25.8 217.3,25.5 217.6,25.2 217.9,24.9 218.3,24.6 218.6,24.2 218.9,23.9 219.2,23.5 219.5,23.2 219.9,22.8 220.2,22.4 220.5,22.1 220.8,21.7 221.1,21.4 221.4,21.1 221.8,20.8 222.1,20.6 222.4,20.5 222.7,20.4 223.0,20.3 223.3,20.2 223.7,20.2 224.0,20.2 224.3,20.1 224.6,20.2 224.9,20.2 225.2,20.3 225.6,20.3 225.9,20.4 226.2,20.5 226.5,20.6 226.8,20.7 227.1,20.8 227.5,20.9 227.8,21.0 228.1,21.1 228.4,21.2 228.7,21.3 229.1,21.4 229.4,21.4 229.7,21.5 230.0,21.5 230.3,21.5 230.6,21.5 231.0,21.5 231.3,21.5 231.6,21.4 231.9,21.4 232.2,21.3 232.5,21.2 232.9,21.0 233.2,20.9 233.5,20.7 233.8,20.6 234.1,20.4 234.4,20.2 234.8,20.0 235.1,19.8 235.4,19.5 235.7,19.3 236.0,19.1 236.3,18.9 236.7,18.8 237.0,18.6 237.3,18.4 237.6,18.3 237.9,18.2 238.3,18.1 238.6,18.0 238.9,17.9 239.2,17.9 239.5,17.9 239.8,17.9 240.2,17.9 240.5,18.0 240.8,18.1 241.1,18.2 241.4,18.3 241.7,18.4 242.1,18.6 242.4,18.7 242.7,18.9 243.0,19.0 243.3,19.2 243.6,19.4 244.0,19.5 244.3,19.7 244.6,19.8 244.9,19.9 245.2,20.0 245.6,20.1 245.9,20.2 246.2,20.2 246.5,20.3 246.8,20.3 247.1,20.2 247.5,20.2 247.8,20.2 248.1,20.1 248.4,20.1 248.7,20.0 249.0,19.9 249.4,19.8 249.7,19.6 250.0,19.5 250.3,19.4 250.6,19.2 250.9,19.0 251.3,18.9 251.6,18.7 251.9,18.5 252.2,18.4 252.5,18.3 252.8,18.1 253.2,18.0 253.5,18.0 253.8,17.9 254.1,17.9 254.4,17.9 254.8,18.0 255.1,18.1 255.4,18.2 255.7,18.3 256.0,18.5 256.3,18.6 256.7,18.8 257.0,19.1 257.3,19.3 257.6,19.5 257.9,19.8 258.2,20.1 258.6,20.4 258.9,20.7 259.2,21.0 259.5,21.2 259.8,21.5 260.1,21.8 260.5,22.0 260.8,22.3 261.1,22.5 261.4,22.7 261.7,22.9 262.0,23.0 262.4,23.1 262.7,23.2 263.0,23.3 263.3,23.4 263.6,23.4 264.0,23.4 264.3,23.3 264.6,23.3 264.9,23.2 265.2,23.1 265.5,23.0 265.9,22.9 266.2,22.8 266.5,22.6 266.8,22.4 267.1,22.2 267.4,22.0 267.8,21.7 268.1,21.5 268.4,21.3 268.7,21.1 269.0,21.0 269.3,20.8 269.7,20.7 270.0,20.6 270.3,20.6 270.6,20.5 270.9,20.5 271.2,20.5 271.6,20.5 271.9,20.6 272.2,20.7 272.5,20.8 272.8,20.9 273.2,21.1 273.5,21.3 273.8,21.4 274.1,21.6 274.4,21.8 274.7,22.0 275.1,22.2 275.4,22.4 275.7,22.6 276.0,22.8 276.3,23.0 276.6,23.1 277.0,23.3 277.3,23.4 277.6,23.5 277.9,23.5 278.2,23.6 278.5,23.6 278.9,23.6 279.2,23.6 279.5,23.5 279.8,23.4 280.1,23.3 280.4,23.2 280.8,23.0 281.1,22.8 281.4,22.7 281.7,22.5 282.0,22.2 282.4,22.0 282.7,21.8 283.0,21.6 283.3,21.4 283.6,21.1 283.9,20.9 284.3,20.8 284.6,20.6 284.9,20.4 285.2,20.3 285.5,20.2 285.8,20.1 286.2,20.0 286.5,20.0 286.8,20.0 287.1,20.0 287.4,20.0 287.7,20.1 288.1,20.2 288.4,20.3 288.7,20.5 289.0,20.6 289.3,20.8 289.6,21.0 290.0,21.2 290.3,21.5 290.6,21.7 290.9,21.9 291.2,22.1 291.6,22.3 291.9,22.5 292.2,22.7 292.5,22.9 292.8,23.0 293.1,23.2 293.5,23.3 293.8,23.4 294.1,23.4 294.4,23.5 294.7,23.5 295.0,23.4 295.4,23.4 295.7,23.3 296.0,23.2 296.3,23.1 296.6,23.0 296.9,22.8 297.3,22.6 297.6,22.4 297.9,22.2 298.2,22.0 298.5,21.8 298.8,21.6 299.2,21.4 299.5,21.2 299.8,21.0 300.1,20.8 300.4,20.7 300.8,20.5 301.1,20.4 301.4,20.3 301.7,20.2 302.0,20.2 302.3,20.2 302.7,20.2 303.0,20.2 303.3,20.3 303.6,20.4 303.9,20.5 304.2,20.6 304.6,20.7 304.9,20.9 305.2,21.1 305.5,21.3 305.8,21.5 306.1,21.7 306.5,21.9 306.8,22.2 307.1,22.4 307.4,22.6 307.7,22.8 308.0,23.0 308.4,23.2 308.7,23.3 309.0,23.4 309.3,23.6 309.6,23.6 310.0,23.7 310.3,23.7 310.6,23.7 310.9,23.7 311.2,23.7 311.5,23.6 311.9,23.5 312.2,23.4 312.5,23.2 312.8,23.1 313.1,22.9 313.4,22.7 313.8,22.5 314.1,22.3 314.4,22.1 314.7,21.9 315.0,21.7 315.3,21.5 315.7,21.3 316.0,21.1 316.3,20.9 316.6,20.8 316.9,20.7 317.2,20.6 317.6,20.5 317.9,20.4 318.2,20.4 318.5,20.4 318.8,20.4 319.2,20.5 319.5,20.6 319.8,20.7 320.1,20.8 320.4,20.9 320.7,21.1 321.1,21.3 321.4,21.5 321.7,21.7 322.0,21.9 322.3,22.1 322.6,22.3 323.0,22.5 323.3,22.7 323.6,22.9 323.9,23.1 324.2,23.3 324.5,23.4 324.9,23.6 325.2,23.7 325.5,23.7 325.8,23.8 326.1,23.8 326.4,23.8 326.8,23.8 327.1,23.7 327.4,23.7 327.7,23.6 328.0,23.4 328.4,23.3 328.7,23.1 329.0,22.9 329.3,22.7 329.6,22.5 329.9,22.3 330.3,22.1 330.6,21.9 330.9,21.7 331.2,21.5 331.5,21.3 331.8,21.1 332.2,20.9 332.5,20.8 332.8,20.7 333.1,20.6 333.4,20.5 333.7,20.4 334.1,20.4 334.4,20.4 334.7,20.4 335.0,20.5 335.3,20.6 335.6,20.7 336.0,20.8 336.3,20.9 336.6,21.1 336.9,21.3 337.2,21.5 337.6,21.7 337.9,21.9 338.2,22.1 338.5,22.3 338.8,22.5 339.1,22.7 339.5,22.9 339.8,23.1 340.1,23.3 340.4,23.4 340.7,23.6 341.0,23.7 341.4,23.7 341.7,23.8 342.0,23.8 342.3,23.8 342.6,23.8 342.9,23.7 343.3,23.7 343.6,23.6 343.9,23.4 344.2,23.3 344.5,23.1 344.8,22.9 345.2,22.7 345.5,22.5 345.8,22.3 346.1,22.1 346.4,21.9 346.8,21.7 347.1,21.5 347.4,21.3 347.7,21.1 348.0,20.9 348.3,20.8 348.7,20.7 349.0,20.6 349.3,20.5 349.6,20.4 349.9,20.4 350.2,20.4 350.6,20.4 350.9,20.5 351.2,20.6 351.5,20.7 351.8,20.8 352.1,20.9 352.5,21.1 352.8,21.3 353.1,21.5 353.4,21.7 353.7,21.9 354.0,22.1 354.4,22.3 354.7,22.5 355.0,22.7 355.3,22.9 355.6,23.1 356.0,23.3 356.3,23.4 356.6,23.6 356.9,23.7 357.2,23.7 357.5,23.8 357.9,23.8 358.2,23.8 358.5,23.8 358.8,23.7 359.1,23.7 359.4,23.6 359.8,23.4 360.1,23.3 360.4,23.1 360.7,22.9 361.0,22.7 361.3,22.5 361.7,22.3 362.0,22.1 362.3,22.0 362.6,22.2 362.9,30.0 363.2,37.7 363.6,60.0 363.9,59.3 364.2,58.5 364.5,57.6 364.8,56.8 365.2,56.0 365.5,55.3 365.8,54.5 366.1,53.7 366.4,52.9 366.7,52.1 367.1,51.2 367.4,50.4 367.7,49.5 368.0,48.7 368.3,47.8 368.6,47.0 369.0,46.1 369.3,45.3 369.6,44.4 369.9,43.5 370.2,42.7 370.5,41.8 370.9,41.0 371.2,40.2 371.5,39.3 371.8,38.6 372.1,37.8 372.5,37.0 372.8,36.2 373.1,35.4 373.4,34.6 373.7,33.9 374.0,33.1 374.4,32.3 374.7,31.5 375.0,30.7 375.3,29.9 375.6,29.2 375.9,28.4 376.3,27.6 376.6,26.8 376.9,26.0 377.2,25.3 377.5,24.5 377.8,23.7 378.2,23.0 378.5,22.4 378.8,21.7 379.1,21.1 379.4,20.6 379.7,20.1 380.1,19.8 380.4,19.6 380.7,19.4 381.0,19.2 381.3,19.1 381.7,19.0 382.0,19.0 382.3,19.0 382.6,19.1 382.9,19.2 383.2,19.3 383.6,19.5 383.9,19.8 384.2,20.0 384.5,20.2 384.8,20.4 385.1,20.7 385.5,20.9 385.8,21.1 386.1,21.3 386.4,21.6 386.7,21.8 387.0,22.0 387.4,22.2 387.7,22.4 388.0,22.6 388.3,22.8 388.6,23.0 388.9,23.2 389.3,23.4 389.6,23.6 389.9,23.7 390.2,23.9 390.5,24.1 390.9,24.3 391.2,24.4 391.5,24.4 391.8,24.5 392.1,24.5 392.4,24.5 392.8,24.5 393.1,24.5 393.4,24.4 393.7,24.4 394.0,24.3 394.3,24.2 394.7,24.0 395.0,23.9 395.3,23.6 395.6,23.4 395.9,23.1 396.2,22.8 396.6,22.5 396.9,22.3 397.2,22.1 397.5,22.0 397.8,21.8 398.1,21.7 398.5,21.6 398.8,21.6 399.1,21.5 399.4,21.5 399.7,21.5 400.1,21.5 400.4,21.5 400.7,21.6 401.0,21.6 401.3,21.7 401.6,21.8 402.0,21.9 402.3,22.0 402.6,22.0 402.9,22.1 403.2,22.1 403.5,22.2 403.9,22.2 404.2,22.2 404.5,22.2 404.8,22.2 405.1,22.1 405.4,22.1 405.8,22.0 406.1,22.0 406.4,21.9 406.7,21.8 407.0,21.7 407.3,21.6 407.7,21.5 408.0,21.3 408.3,21.2 408.6,21.0 408.9,20.8 409.3,20.6 409.6,20.5 409.9,20.3 410.2,20.1 410.5,19.9 410.8,19.8 411.2,19.6 411.5,19.5 411.8,19.3 412.1,19.2 412.4,19.1 412.7,19.0 413.1,19.0 413.4,19.0 413.7,19.0 414.0,19.1 414.3,19.2 414.6,19.3 415.0,19.5 415.3,19.6 415.6,19.8 415.9,20.0 416.2,20.1 416.5,20.3 416.9,20.6 417.2,20.8 417.5,21.0 417.8,21.2 418.1,21.4 418.5,21.6 418.8,21.8 419.1,22.0 419.4,22.2 419.7,22.4 420.0,22.5 420.4,22.7 420.7,22.8 421.0,22.9 421.3,22.9 421.6,23.0 421.9,23.0 422.3,23.0 422.6,23.0 422.9,22.9 423.2,22.9 423.5,22.8 423.8,22.6 424.2,22.5 424.5,22.4 424.8,22.2 425.1,22.1 425.4,21.9 425.7,21.8 426.1,21.6 426.4,21.5 426.7,21.4 427.0,21.2 427.3,21.1 427.7,21.0 428.0,20.9 428.3,20.9 428.6,20.8 428.9,20.8 429.2,20.8 429.6,20.8 429.9,20.8 430.2,20.9 430.5,21.0 430.8,21.0 431.1,21.1 431.5,21.3 431.8,21.4 432.1,21.5 432.4,21.7 432.7,21.9 433.0,22.0 433.4,22.2 433.7,22.4 434.0,22.5 434.3,22.7 434.6,22.9 434.9,23.0 435.3,23.1 435.6,23.3 435.9,23.4 436.2,23.5 436.5,23.5 436.9,23.6 437.2,23.6 437.5,23.6 437.8,23.6 438.1,23.6 438.4,23.5 438.8,23.4 439.1,23.4 439.4,23.2 439.7,23.1 440.0,23.0 440.3,22.9 440.7,22.7 441.0,22.6 441.3,22.4 441.6,22.2 441.9,22.1 442.2,21.9 442.6,21.8 442.9,21.7 443.2,21.5 443.5,21.4 443.8,21.3 444.1,21.2 444.5,21.2 444.8,21.1 445.1,21.1 445.4,21.1 445.7,21.1 446.1,21.2 446.4,21.2 446.7,21.3 447.0,21.4 447.3,21.5 447.6,21.6 448.0,21.8 448.3,21.9 448.6,22.1 448.9,22.2 449.2,22.4 449.5,22.6 449.9,22.7 450.2,22.9 450.5,23.0 450.8,23.2 451.1,23.3 451.4,23.4 451.8,23.5 452.1,23.6 452.4,23.6 452.7,23.7 453.0,23.7 453.3,23.7 453.7,23.7 454.0,23.6 454.3,23.6 454.6,23.5 454.9,23.4 455.3,23.3 455.6,23.2 455.9,23.0 456.2,22.9 456.5,22.7 456.8,22.6 457.2,22.4 457.5,22.2 457.8,22.1 458.1,21.9 458.4,21.8 458.7,21.6 459.1,21.5 459.4,21.4 459.7,21.3 460.0,21.2 460.3,21.1 460.6,21.1 461.0,21.1 461.3,21.1 461.6,21.1 461.9,21.1 462.2,21.2 462.5,21.3 462.9,21.4 463.2,21.5 463.5,21.6 463.8,21.8 464.1,21.9 464.5,22.1 464.8,22.2 465.1,22.4 465.4,22.5 465.7,22.7 466.0,22.9 466.4,23.0 466.7,23.1 467.0,23.3 467.3,23.4 467.6,23.5 467.9,23.6 468.3,23.6 468.6,23.7 468.9,23.7 469.2,23.7 469.5,23.7 469.8,23.6 470.2,23.6 470.5,23.5 470.8,23.4 471.1,23.3 471.4,23.1 471.7,23.0 472.1,22.9 472.4,22.7 472.7,22.5 473.0,22.4 473.3,22.2 473.7,22.0 474.0,21.9 474.3,21.7 474.6,21.6 474.9,21.5 475.2,21.4 475.6,21.3 475.9,21.2 476.2,21.1 476.5,21.1 476.8,21.1 477.1,21.1 477.5,21.1 477.8,21.1 478.1,21.2 478.4,21.2 478.7,21.3 479.0,21.5 479.4,21.6 479.7,21.7 480.0,21.9 480.3,22.0 480.6,22.2 480.9,22.3 481.3,22.5 481.6,22.7 481.9,22.8 482.2,23.0 482.5,23.1 482.9,23.2 483.2,23.4 483.5,23.4 483.8,23.5 484.1,23.6 484.4,23.6 484.8,23.6 485.1,23.6 485.4,23.6 485.7,23.6 486.0,23.5 486.3,23.4 486.7,23.3 487.0,23.2 487.3,23.1 487.6,23.0 487.9,22.8 488.2,22.7 488.6,22.5 488.9,22.3 489.2,22.2 489.5,22.0 489.8,21.9 490.2,21.7 490.5,21.6 490.8,21.4 491.1,21.3 491.4,21.2 491.7,21.1 492.1,21.1 492.4,21.0 492.7,21.0 493.0,21.0 493.3,21.0 493.6,21.1 494.0,21.1 494.3,21.2 494.6,21.3 494.9,21.4 495.2,21.6 495.5,21.7 495.9,21.8 496.2,22.0 496.5,22.2 496.8,22.3 497.1,22.5 497.4,22.6 497.8,22.8 498.1,22.9 498.4,23.1 498.7,23.2 499.0,23.3 499.4,23.4 499.7,23.5 500.0,23.6 500.3,23.6 500.6,23.6 500.9,23.6 501.3,23.6 501.6,23.6 501.9,23.5 502.2,23.4 502.5,23.3 502.8,23.2 503.2,23.1 503.5,22.9 503.8,22.8 504.1,22.6 504.4,22.5 504.7,22.3 505.1,22.1 505.4,22.0 505.7,21.8 506.0,21.7 506.3,21.5 506.6,21.4 507.0,21.3 507.3,21.2 507.6,21.1 507.9,21.1 508.2,21.0 508.6,21.0 508.9,21.0 509.2,21.0 509.5,21.0 509.8,21.1 510.1,21.2 510.5,21.3 510.8,21.4 511.1,21.5 511.4,21.7 511.7,21.8 512.0,22.0 512.4,22.1 512.7,22.3 513.0,22.4 513.3,22.6 513.6,22.8 513.9,22.9 514.3,23.1 514.6,23.2 514.9,23.3 515.2,23.4 515.5,23.5 515.8,23.5 516.2,23.6 516.5,23.6 516.8,23.6 517.1,23.6 517.4,23.5 517.8,23.5 518.1,23.4 518.4,23.3 518.7,23.2 519.0,23.0 519.3,22.9 519.7,22.7 520.0,22.5 520.3,22.4 520.6,22.3 520.9,22.2 521.2,22.1 521.6,22.0 521.9,6.4 522.2,6.3 522.5,6.3 522.8,6.3 523.1,6.4 523.5,6.4 523.8,6.4 524.1,6.5 524.4,6.6 524.7,6.6 525.0,6.7 525.4,6.9 525.7,7.3 526.0,7.7 526.3,8.3 526.6,8.8 527.0,9.4 527.3,9.9 527.6,10.4 527.9,11.0 528.2,11.5 528.5,12.0 528.9,12.6 529.2,13.1 529.5,13.7 529.8,14.2 530.1,14.7 530.4,15.3 530.8,15.8 531.1,16.4 531.4,16.9 531.7,17.4 532.0,18.0 532.3,18.5 532.7,19.1 533.0,19.6 533.3,20.1 533.6,20.7 533.9,21.2 534.2,21.8 534.6,22.3 534.9,22.8 535.2,23.4 535.5,23.9 535.8,24.4 536.2,25.0 536.5,25.5 536.8,26.1 537.1,26.4 537.4,26.7 537.7,26.7 538.1,26.6 538.4,26.4 538.7,26.2 539.0,26.0 539.3,25.7 539.6,25.5 540.0,25.3 540.3,25.1 540.6,24.9 540.9,24.7 541.2,24.5 541.5,24.3 541.9,24.1 542.2,24.0 542.5,23.9 542.8,23.8 543.1,23.8 543.4,23.8 543.8,23.8 544.1,23.8 544.4,23.9 544.7,23.9 545.0,24.0 545.4,24.0 545.7,24.0 546.0,24.1 546.3,24.1 546.6,24.1 546.9,24.1 547.3,24.1 547.6,24.0 547.9,24.0 548.2,24.0 548.5,23.9 548.8,23.8 549.2,23.7 549.5,23.6 549.8,23.4 550.1,23.3 550.4,23.1 550.7,22.9 551.1,22.6 551.4,22.4 551.7,22.1 552.0,21.9 552.3,21.6 552.6,21.3 553.0,21.1 553.3,20.8 553.6,20.6 553.9,20.4 554.2,20.2 554.6,20.0 554.9,19.9 555.2,19.8 555.5,19.7 555.8,19.6 556.1,19.6 556.5,19.6 556.8,19.6 557.1,19.6 557.4,19.7 557.7,19.8 558.0,19.9 558.4,20.0 558.7,20.2 559.0,20.4 559.3,20.6 559.6,20.7 559.9,20.9 560.3,21.2 560.6,21.4 560.9,21.6 561.2,21.8 561.5,22.0 561.8,22.1 562.2,22.3 562.5,22.4 562.8,22.6 563.1,22.7 563.4,22.7 563.8,22.8 564.1,22.8 564.4,22.8 564.7,22.8 565.0,22.7 565.3,22.6 565.7,22.5 566.0,22.4 566.3,22.2 566.6,22.0 566.9,21.8 567.2,21.6 567.6,21.4 567.9,21.2 568.2,21.0 568.5,20.7 568.8,20.5 569.1,20.3 569.5,20.0 569.8,19.8 570.1,19.7 570.4,19.5 570.7,19.4 571.0,19.2 571.4,19.2 571.7,19.1 572.0,19.1 572.3,19.1 572.6,19.2 573.0,19.2 573.3,19.3 573.6,19.5 573.9,19.6 574.2,19.8 574.5,20.0 574.9,20.2 575.2,20.4 575.5,20.6 575.8,20.8 576.1,21.1 576.4,21.3 576.8,21.6 577.1,21.8 577.4,22.0 577.7,22.2 578.0,22.4 578.3,22.6 578.7,22.7 579.0,22.8 579.3,22.9 579.6,23.0 579.9,23.1 580.2,23.1 580.6,23.1 580.9,23.0 581.2,22.9 581.5,22.9 581.8,22.7 582.2,22.6 582.5,22.4 582.8,22.3 583.1,22.1 583.4,21.9 583.7,21.7 584.1,21.4 584.4,21.2 584.7,21.0 585.0,20.8 585.3,20.6 585.6,20.4 586.0,20.3 586.3,20.1 586.6,20.0 586.9,19.9 587.2,19.8 587.5,19.8 587.9,19.8 588.2,19.8 588.5,19.8 588.8,19.9 589.1,20.0 589.4,20.1 589.8,20.2 590.1,20.4 590.4,20.6 590.7,20.8 591.0,21.0 591.4,21.2 591.7,21.4 592.0,21.7 592.3,21.9 592.6,22.1 592.9,22.4 593.3,22.6 593.6,22.8 593.9,23.0 594.2,23.1 594.5,23.3 594.8,23.4 595.2,23.5 595.5,23.6 595.8,23.6 596.1,23.6 596.4,23.6 596.7,23.5 597.1,23.5 597.4,23.4 597.7,23.2 598.0,23.1 598.3,22.9 598.6,22.8 599.0,22.6 599.3,22.4 599.6,22.1 599.9,21.9 600.2,21.7 600.6,21.5 600.9,21.3 601.2,21.1 601.5,20.9 601.8,20.7 602.1,20.6 602.5,20.4 602.8,20.3 603.1,20.3 603.4,20.2 603.7,20.2 604.0,20.2 604.4,20.2 604.7,20.3 605.0,20.3 605.3,20.5 605.6,20.6 605.9,20.7 606.3,20.9 606.6,21.1 606.9,21.3 607.2,21.5 607.5,21.8 607.8,22.0 608.2,22.2 608.5,22.5 608.8,22.7 609.1,22.9 609.4,23.1 609.8,23.2 610.1,23.4 610.4,23.5 610.7,23.7 611.0,23.7 611.3,23.8 611.7,23.8 612.0,23.8 612.3,23.8 612.6,23.8 612.9,23.7 613.2,23.6 613.6,23.4 613.9,23.3 614.2,23.1 614.5,22.9 614.8,22.7 615.1,22.5 615.5,22.3 615.8,22.1 616.1,21.8 616.4,21.6 616.7,21.4 617.1,21.2 617.4,21.0 617.7,20.8 618.0,20.7 618.3,20.5 618.6,20.4 619.0,20.4 619.3,20.3 619.6,20.3 619.9,20.3 620.2,20.3 620.5,20.4 620.9,20.5 621.2,20.6 621.5,20.7 621.8,20.9 622.1,21.0 622.4,21.2 622.8,21.4 623.1,21.6 623.4,21.9 623.7,22.1 624.0,22.3 624.3,22.6 624.7,22.8 625.0,23.0 625.3,23.2 625.6,23.4 625.9,23.5 626.3,23.6 626.6,23.8 626.9,23.8 627.2,23.9 627.5,23.9 627.8,23.9 628.2,23.9 628.5,23.9 628.8,23.8 629.1,23.7 629.4,23.5 629.7,23.4 630.1,23.2 630.4,23.0 630.7,22.8 631.0,22.6 631.3,22.4 631.6,22.2 632.0,21.9 632.3,21.7 632.6,21.5 632.9,21.3 633.2,21.1 633.5,20.9 633.9,20.8 634.2,20.7 634.5,20.5 634.8,20.5 635.1,20.4 635.5,20.4 635.8,20.4 636.1,20.4 636.4,20.5 636.7,20.6 637.0,20.7 637.4,20.8 637.7,21.0 638.0,21.1 638.3,21.3 638.6,21.5 638.9,21.8 639.3,22.0 639.6,22.2 639.9,22.4 640.2,22.7 640.5,22.9 640.8,23.1 641.2,23.3 641.5,23.5 641.8,23.6 642.1,23.7 642.4,23.9 642.7,23.9 643.1,24.0 643.4,24.0 643.7,24.0 644.0,24.0 644.3,24.0 644.7,23.9 645.0,23.8 645.3,23.6 645.6,23.5 645.9,23.3 646.2,23.1 646.6,22.9 646.9,22.7 647.2,22.5 647.5,22.3 647.8,22.0 648.1,21.8 648.5,21.6 648.8,21.4 649.1,21.2 649.4,21.0 649.7,20.9 650.0,20.8 650.4,20.6 650.7,20.6 651.0,20.5 651.3,20.5 651.6,20.5 651.9,20.5 652.3,20.6 652.6,20.7 652.9,20.8 653.2,20.9 653.5,21.1 653.9,21.2 654.2,21.4 654.5,21.6 654.8,21.8 655.1,22.1 655.4,22.3 655.8,22.5 656.1,22.8 656.4,23.0 656.7,23.2 657.0,23.4 657.3,23.5 657.7,23.7 658.0,23.8 658.3,23.9 658.6,24.0 658.9,24.1 659.2,24.1 659.6,24.1 659.9,24.1 660.2,24.0 660.5,24.0 660.8,23.9 661.1,23.7 661.5,23.6 661.8,23.4 662.1,23.2 662.4,23.0 662.7,22.8 663.1,22.6 663.4,22.3 663.7,22.1 664.0,21.9 664.3,21.7 664.6,21.5 665.0,21.3 665.3,21.1 665.6,21.0 665.9,20.8 666.2,20.7 666.5,20.6 666.9,20.6 667.2,20.6 667.5,20.6 667.8,20.6 668.1,20.6 668.4,20.7 668.8,20.8 669.1,21.0 669.4,21.1 669.7,21.3 670.0,21.5 670.3,21.7 670.7,21.9 671.0,22.1 671.3,22.4 671.6,22.6 671.9,22.8 672.3,23.0 672.6,23.3 672.9,23.4 673.2,23.6 673.5,23.8 673.8,23.9 674.2,24.0 674.5,24.1 674.8,24.2 675.1,24.2 675.4,24.2 675.7,24.2 676.1,24.1 676.4,24.0 676.7,23.9 677.0,23.8 677.3,23.6 677.6,23.5 678.0,23.3 678.3,23.1 678.6,22.9 678.9,22.6 679.2,22.4 679.5,22.2 679.9,22.0 680.2,21.8 680.5,21.6" stroke="#eaa821" stroke-width="2.9"/>
</g>
<text transform="translate(46.50,337.2) scale(0.95,1)" font-size="16.5" text-anchor="middle">0</text>
<text transform="translate(126.51,337.2) scale(0.95,1)" font-size="16.5" text-anchor="middle">0.5</text>
<text transform="translate(205.82,337.2) scale(0.95,1)" font-size="16.5" text-anchor="middle">1</text>
<text transform="translate(285.14,337.2) scale(0.95,1)" font-size="16.5" text-anchor="middle">1.5</text>
<text transform="translate(364.45,337.2) scale(0.95,1)" font-size="16.5" text-anchor="middle">2</text>
<text transform="translate(443.76,337.2) scale(0.95,1)" font-size="16.5" text-anchor="middle">2.5</text>
<text transform="translate(523.08,337.2) scale(0.95,1)" font-size="16.5" text-anchor="middle">3</text>
<text transform="translate(602.39,337.2) scale(0.95,1)" font-size="16.5" text-anchor="middle">3.5</text>
<text transform="translate(681.70,337.2) scale(0.95,1)" font-size="16.5" text-anchor="middle">4</text>
<text transform="translate(42.6,323.95) scale(0.95,1)" font-size="16.5" text-anchor="end">0</text>
<text transform="translate(43.6,261.67) scale(0.95,1)" font-size="16.5" text-anchor="end">20</text>
<text transform="translate(43.6,199.39) scale(0.95,1)" font-size="16.5" text-anchor="end">40</text>
<text transform="translate(43.6,137.11) scale(0.95,1)" font-size="16.5" text-anchor="end">60</text>
<text transform="translate(43.6,74.83) scale(0.95,1)" font-size="16.5" text-anchor="end">80</text>
<text transform="translate(45.4,11.85) scale(0.95,1)" font-size="16.5" text-anchor="end">100</text>
<text transform="translate(369.8,357.3) scale(0.95,1)" font-size="18.6" text-anchor="middle">Time (sec.)</text>
<text transform="translate(13,155.4) scale(0.95,1) rotate(-90)" font-size="18.6" text-anchor="middle">Efficiency (%)</text>
<ellipse cx="380.9" cy="43.1" rx="14.4" ry="29.5" fill="none" stroke="#000" stroke-width="1.7" transform="rotate(2.5 380.9 43.1)"/>
<path d="M380.4,72L350.6,109.4" stroke="#000" stroke-width="1.85" fill="none"/>
<path d="M346.6,114.3L349.4,105.9L351.3,109.3L354.5,110.6Z" fill="#000" stroke="#000" stroke-width="0.5" stroke-linejoin="round"/>
<rect x="297.4" y="114.5" width="145.60000000000002" height="118.75" fill="#ffffff"/>
<path d="M297.40,233.25v-2.2M297.40,114.5v2.2M333.80,233.25v-2.2M333.80,114.5v2.2M370.20,233.25v-2.2M370.20,114.5v2.2M406.60,233.25v-2.2M406.60,114.5v2.2M443.00,233.25v-2.2M443.00,114.5v2.2M297.4,233.25h2.2M443.0,233.25h-2.2M297.4,209.50h2.2M443.0,209.50h-2.2M297.4,185.75h2.2M443.0,185.75h-2.2M297.4,162.00h2.2M443.0,162.00h-2.2M297.4,138.25h2.2M443.0,138.25h-2.2M297.4,114.50h2.2M443.0,114.50h-2.2" stroke="#4a4a4a" stroke-width="0.8" fill="none"/>
<rect x="297.4" y="114.5" width="145.60000000000002" height="118.75" fill="none" stroke="#4a4a4a" stroke-width="0.85"/>
<g clip-path="url(#ci)" fill="none" stroke-linejoin="round">
<polyline points="297.4,202.4 297.8,217.1 298.5,217.1 299.2,217.1 299.9,214.0 300.7,207.0 301.4,208.3 302.1,205.2 302.9,209.1 303.6,211.5 304.3,221.8 305.0,206.4 305.8,203.2 306.5,201.6 307.2,201.9 308.0,206.4 308.7,210.5 309.4,205.7 310.1,206.9 310.9,201.6 311.6,201.3 312.3,203.3 313.1,205.8 313.8,204.0 314.5,198.4 315.2,196.2 316.0,198.1 316.7,188.1 317.4,193.9 318.1,196.6 318.9,197.1 319.6,198.5 320.3,194.8 321.1,193.8 321.8,188.9 322.5,194.8 323.2,192.1 324.0,190.8 324.7,195.7 325.4,188.7 326.2,186.3 326.9,190.8 327.6,187.1 328.3,184.5 329.1,184.9 329.8,187.2 330.5,183.5 331.3,189.2 332.0,184.7 332.7,179.2 333.4,182.2 334.2,175.6 334.9,176.2 335.6,180.8 336.3,176.1 337.1,174.3 337.8,179.7 338.5,179.4 339.3,182.0 340.0,183.4 340.7,176.5 341.4,165.5 342.2,172.3 342.9,181.7 343.6,182.2 344.4,179.2 345.1,180.1 345.8,174.4 346.5,168.9 347.3,178.0 348.0,172.4 348.7,165.6 349.5,165.6 350.2,169.0 350.9,173.1 351.6,176.0 352.4,172.1 353.1,166.0 353.8,166.5 354.5,174.4 355.3,169.6 356.0,162.1 356.7,163.1 357.5,157.5 358.2,161.5 358.9,162.2 359.6,153.8 360.4,150.7 361.1,153.1 361.8,153.4 362.6,155.2 363.3,157.1 364.0,153.7 364.7,151.4 365.5,161.4 366.2,161.1 366.9,147.3 367.7,148.5 368.4,146.5 369.1,156.4 369.8,152.6 370.6,149.6 371.3,153.0 372.0,150.1 372.7,148.7 373.5,150.3 374.2,149.8 374.9,145.7 375.7,144.5 376.4,151.2 377.1,158.6 377.8,151.6 378.6,150.7 379.3,152.0 380.0,150.3 380.8,142.4 381.5,152.4 382.2,155.7 382.9,152.8 383.7,146.6 384.4,149.1 385.1,152.6 385.9,148.2 386.6,147.9 387.3,151.3 388.0,146.0 388.8,142.7 389.5,152.1 390.2,158.2 390.9,156.0 391.7,148.7 392.4,151.1 393.1,151.1 393.9,150.3 394.6,155.3 395.3,158.8 396.0,146.7 396.8,146.9 397.5,156.2 398.2,161.5 399.0,144.6 399.7,149.1 400.4,157.2 401.1,156.5 401.9,150.1 402.6,148.9 403.3,152.5 404.1,150.6 404.8,154.3 405.5,155.0 406.2,152.8 407.0,149.0 407.7,160.9 408.4,151.4 409.1,151.6 409.9,157.1 410.6,154.6 411.3,159.0 412.1,161.1 412.8,150.6 413.5,150.1 414.2,157.7 415.0,156.6 415.7,155.3 416.4,163.3 417.2,161.8 417.9,151.2 418.6,156.3 419.3,158.7 420.1,150.7 420.8,152.7 421.5,155.9 422.3,151.9 423.0,154.4 423.7,160.2 424.4,159.4 425.2,156.4 425.9,168.9 426.6,162.4 427.3,156.3 428.1,153.3 428.8,157.4 429.5,153.8 430.3,155.2 431.0,152.6 431.7,153.6 432.4,152.5 433.2,152.2 433.9,154.4 434.6,155.8 435.4,155.0 436.1,146.0 436.8,154.5 437.5,159.2 438.3,158.7 439.0,160.4 439.7,162.9 440.5,158.3 441.2,152.3 441.9,152.5 442.6,166.2" stroke="#0000ff" stroke-width="1.15"/>
<polyline points="297.8,196.1 298.5,194.6 299.2,193.3 299.9,192.4 300.7,190.9 301.4,190.3 302.1,190.1 302.9,190.4 303.6,191.0 304.3,191.7 305.0,192.6 305.8,193.4 306.5,194.0 307.2,194.2 308.0,194.0 308.7,193.3 309.4,192.2 310.1,190.7 310.9,188.8 311.6,186.8 312.3,184.7 313.1,182.6 313.8,180.8 314.5,179.3 315.2,178.2 316.0,177.5 316.7,177.3 317.4,177.5 318.1,178.1 318.9,178.8 319.6,179.6 320.3,180.3 321.1,180.9 321.8,181.1 322.5,180.9 323.2,180.2 324.0,179.1 324.7,177.6 325.4,175.8 326.2,173.7 326.9,171.6 327.6,169.6 328.3,167.7 329.1,166.2 329.8,165.1 330.5,164.5 331.3,164.3 332.0,164.5 332.7,165.0 333.4,165.8 334.2,166.6 334.9,167.3 335.6,167.9 336.3,168.1 337.1,168.0 337.8,167.4 338.5,166.3 339.3,164.9 340.0,163.1 340.7,161.1 341.4,159.1 342.2,157.1 342.9,155.3 343.6,153.9 344.4,152.8 345.1,152.2 345.8,152.1 346.5,152.3 347.3,152.9 348.0,153.7 348.7,154.6 349.5,155.4 350.2,155.9 350.9,156.2 351.6,156.1 352.4,155.5 353.1,154.4 353.8,153.0 354.5,151.2 355.3,149.2 356.0,147.1 356.7,145.2 357.5,143.4 358.2,141.9 358.9,140.9 359.6,140.3 360.4,140.2 361.1,140.4 361.8,141.0 362.6,141.8 363.3,142.6 364.0,143.4 364.7,144.0 365.5,144.3 366.2,144.3 366.9,143.7 367.7,142.8 368.4,141.4 369.1,139.8 369.8,137.9 370.6,136.0 371.3,134.1 372.0,132.5 372.7,131.2 373.5,130.4 374.2,130.1 374.9,130.3 375.7,131.0 376.4,132.0 377.1,133.3 377.8,134.6 378.6,135.9 379.3,137.0 380.0,137.8 380.8,138.2 381.5,138.2 382.2,137.7 382.9,136.7 383.7,135.5 384.4,134.0 385.1,132.5 385.9,131.0 386.6,129.8 387.3,128.9 388.0,128.5 388.8,128.6 389.5,129.2 390.2,130.3 390.9,131.7 391.7,133.4 392.4,135.1 393.1,136.8 393.9,138.3 394.6,139.4 395.3,140.1 396.0,140.3 396.8,139.9 397.5,139.2 398.2,138.1 399.0,136.7 399.7,135.2 400.4,133.9 401.1,132.7 401.9,131.9 402.6,131.6 403.3,131.8 404.1,132.4 404.8,133.6 405.5,135.1 406.2,136.8 407.0,138.6 407.7,140.3 408.4,141.8 409.1,142.9 409.9,143.6 410.6,143.7 411.3,143.4 412.1,142.6 412.8,141.4 413.5,140.0 414.2,138.5 415.0,137.1 415.7,135.9 416.4,135.1 417.2,134.7 417.9,134.8 418.6,135.5 419.3,136.6 420.1,138.1 420.8,139.7 421.5,141.5 422.3,143.2 423.0,144.6 423.7,145.7 424.4,146.2 425.2,146.3 425.9,145.8 426.6,144.9 427.3,143.6 428.1,142.1 428.8,140.4 429.5,138.9 430.3,137.6 431.0,136.7 431.7,136.2 432.4,136.2 433.2,136.7 433.9,137.7 434.6,139.0 435.4,140.6 436.1,142.2 436.8,143.8 437.5,145.1 438.3,146.1 439.0,146.6 439.7,146.6 440.5,146.1 441.2,145.2 441.9,143.8 442.6,142.3" stroke="#00ff00" stroke-width="1.7"/>
<polyline points="297.4,183.4 297.8,196.4 299.2,195.6 300.7,194.4 302.1,193.2 303.6,191.9 305.0,190.7 306.5,189.5 308.0,188.3 309.4,187.1 310.9,185.9 312.3,184.7 313.8,183.4 315.2,182.1 316.7,180.8 318.1,179.5 319.6,178.2 321.1,176.9 322.5,175.6 324.0,174.3 325.4,173.0 326.9,171.7 328.3,170.4 329.8,169.1 331.3,167.8 332.7,166.5 334.2,165.2 335.6,164.0 337.1,162.8 338.5,161.6 340.0,160.4 341.4,159.2 342.9,158.0 344.4,156.8 345.8,155.6 347.3,154.4 348.7,153.2 350.2,152.1 351.6,150.9 353.1,149.7 354.5,148.5 356.0,147.3 357.5,146.1 358.9,144.9 360.4,143.7 361.8,142.5 363.3,141.3 364.7,140.2 366.2,139.1 367.7,138.1 369.1,137.2 370.6,136.3 372.0,135.5 373.5,134.9 374.9,134.4 376.4,134.1 377.8,133.7 379.3,133.5 380.8,133.3 382.2,133.3 383.7,133.3 385.1,133.3 386.6,133.4 388.0,133.6 389.5,133.8 390.9,134.2 392.4,134.5 393.9,134.9 395.3,135.2 396.8,135.5 398.2,135.9 399.7,136.2 401.1,136.6 402.6,136.9 404.1,137.3 405.5,137.6 407.0,137.9 408.4,138.3 409.9,138.6 411.3,138.9 412.8,139.1 414.2,139.4 415.7,139.7 417.2,140.0 418.6,140.3 420.1,140.6 421.5,140.8 423.0,141.1 424.4,141.3 425.9,141.5 427.3,141.6 428.8,141.6 430.3,141.7 431.7,141.7 433.2,141.7 434.6,141.6 436.1,141.5 437.5,141.4 439.0,141.3 440.5,141.1 441.9,140.9" stroke="#eaa821" stroke-width="2.6"/>
</g>
<text transform="translate(298.40,247.4) scale(0.95,1)" font-size="11.7" stroke="none" text-anchor="middle">2</text>
<text transform="translate(334.80,247.4) scale(0.95,1)" font-size="11.7" stroke="none" text-anchor="middle">2.05</text>
<text transform="translate(371.20,247.4) scale(0.95,1)" font-size="11.7" stroke="none" text-anchor="middle">2.1</text>
<text transform="translate(407.60,247.4) scale(0.95,1)" font-size="11.7" stroke="none" text-anchor="middle">2.15</text>
<text transform="translate(444.00,247.4) scale(0.95,1)" font-size="11.7" stroke="none" text-anchor="middle">2.2</text>
<text transform="translate(295.7,237.45) scale(0.95,1)" font-size="11.7" stroke="none" text-anchor="end">75</text>
<text transform="translate(295.7,213.70) scale(0.95,1)" font-size="11.7" stroke="none" text-anchor="end">80</text>
<text transform="translate(295.7,189.95) scale(0.95,1)" font-size="11.7" stroke="none" text-anchor="end">85</text>
<text transform="translate(295.7,166.20) scale(0.95,1)" font-size="11.7" stroke="none" text-anchor="end">90</text>
<text transform="translate(295.7,142.45) scale(0.95,1)" font-size="11.7" stroke="none" text-anchor="end">95</text>
<text transform="translate(295.7,118.70) scale(0.95,1)" font-size="11.7" stroke="none" text-anchor="end">100</text>
<rect x="585" y="89.2" width="64.8" height="52.1" fill="#ffffff" stroke="#4d4d4d" stroke-width="1"/>
<path d="M590,98.7H610" stroke="#0000ff" stroke-width="0.9"/>
<path d="M590,115.4H610" stroke="#00ff00" stroke-width="1.5"/>
<path d="M590,131.6H610" stroke="#eaa821" stroke-width="2.3"/>
<text transform="translate(611.9,103.8) scale(0.95,1)" font-size="15.3">PI</text>
<text transform="translate(611.9,120.3) scale(0.95,1)" font-size="15.3">FLC</text>
<text transform="translate(611.9,136.2) scale(0.95,1)" font-size="15.3">AFLC</text>
</svg>
</body></html>
